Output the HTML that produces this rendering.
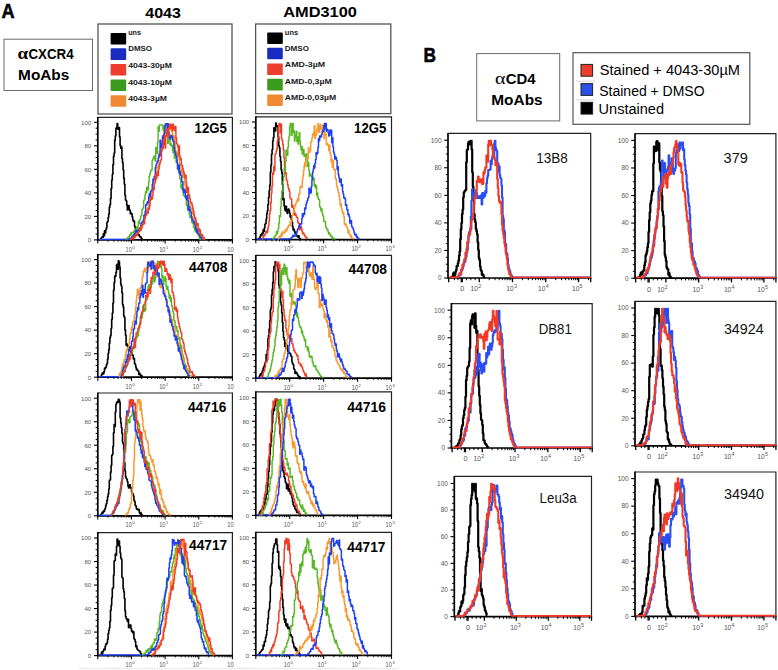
<!DOCTYPE html>
<html><head><meta charset="utf-8"><style>
html,body{margin:0;padding:0;background:#fff;width:778px;height:670px;overflow:hidden}
svg{display:block}
text{font-family:"Liberation Sans",sans-serif}
</style></head><body>
<svg width="778" height="670" viewBox="0 0 778 670">
<text x="1.45" y="17.95" font-size="20.6" font-weight="bold" fill="#000" text-anchor="start" textLength="13.1" lengthAdjust="spacingAndGlyphs" stroke="#000" stroke-width="0.55">A</text>
<text x="145.30" y="18.00" font-size="15.2" font-weight="bold" fill="#000" text-anchor="start" textLength="35.6" lengthAdjust="spacingAndGlyphs" >4043</text>
<text x="283.30" y="16.90" font-size="15.2" font-weight="bold" fill="#000" text-anchor="start" textLength="73.6" lengthAdjust="spacingAndGlyphs" >AMD3100</text>
<rect x="4.00" y="39.20" width="88.50" height="51.30" fill="none" stroke="#6a6a6a" stroke-width="1" />
<text x="17.40" y="58.60" font-size="16.5" font-weight="bold" fill="#000" text-anchor="start" textLength="10.6" lengthAdjust="spacingAndGlyphs" style="font-family:&quot;Liberation Serif&quot;,serif" >&#945;</text>
<text x="28.40" y="58.60" font-size="15" font-weight="bold" fill="#000" text-anchor="start" textLength="45.2" lengthAdjust="spacingAndGlyphs" >CXCR4</text>
<text x="18.10" y="80.00" font-size="15" font-weight="bold" fill="#000" text-anchor="start" textLength="51.2" lengthAdjust="spacingAndGlyphs" >MoAbs</text>
<rect x="98.00" y="24.00" width="134.00" height="90.00" fill="none" stroke="#555" stroke-width="1.3" />
<rect x="110.6" y="33.0" width="15.6" height="11.6" rx="1" fill="#000000"/>
<text x="128.20" y="34.80" font-size="7.7" font-weight="bold" fill="#1a1a1a" text-anchor="start" textLength="12.9" lengthAdjust="spacingAndGlyphs" >uns</text>
<rect x="110.6" y="48.3" width="15.6" height="11.6" rx="1" fill="#1a2bbf"/>
<text x="128.20" y="51.20" font-size="7.7" font-weight="bold" fill="#1a1a1a" text-anchor="start" textLength="23.8" lengthAdjust="spacingAndGlyphs" >DMSO</text>
<rect x="110.6" y="64.0" width="15.6" height="11.6" rx="1" fill="#ee3e2e"/>
<text x="128.20" y="68.10" font-size="7.7" font-weight="bold" fill="#1a1a1a" text-anchor="start" textLength="43.6" lengthAdjust="spacingAndGlyphs" >4043-30&#181;M</text>
<rect x="110.6" y="79.4" width="15.6" height="11.6" rx="1" fill="#3c9a1e"/>
<text x="128.20" y="84.50" font-size="7.7" font-weight="bold" fill="#1a1a1a" text-anchor="start" textLength="43.6" lengthAdjust="spacingAndGlyphs" >4043-10&#181;M</text>
<rect x="110.6" y="95.2" width="15.6" height="11.6" rx="1" fill="#f08a32"/>
<text x="128.20" y="100.50" font-size="7.7" font-weight="bold" fill="#1a1a1a" text-anchor="start" textLength="38.8" lengthAdjust="spacingAndGlyphs" >4043-3&#181;M</text>
<rect x="255.60" y="24.00" width="135.20" height="89.60" fill="none" stroke="#555" stroke-width="1.3" />
<rect x="267.2" y="32.4" width="15.6" height="11.6" rx="1" fill="#000000"/>
<text x="284.80" y="34.60" font-size="7.7" font-weight="bold" fill="#1a1a1a" text-anchor="start" textLength="13.4" lengthAdjust="spacingAndGlyphs" >uns</text>
<rect x="267.2" y="47.7" width="15.6" height="11.6" rx="1" fill="#1a2bbf"/>
<text x="284.80" y="51.30" font-size="7.7" font-weight="bold" fill="#1a1a1a" text-anchor="start" textLength="24.1" lengthAdjust="spacingAndGlyphs" >DMSO</text>
<rect x="267.2" y="63.4" width="15.6" height="11.6" rx="1" fill="#ee3e2e"/>
<text x="284.80" y="67.40" font-size="7.7" font-weight="bold" fill="#1a1a1a" text-anchor="start" textLength="40.4" lengthAdjust="spacingAndGlyphs" >AMD-3&#181;M</text>
<rect x="267.2" y="78.8" width="15.6" height="11.6" rx="1" fill="#3c9a1e"/>
<text x="284.80" y="83.80" font-size="7.7" font-weight="bold" fill="#1a1a1a" text-anchor="start" textLength="46.8" lengthAdjust="spacingAndGlyphs" >AMD-0,3&#181;M</text>
<rect x="267.2" y="94.5" width="15.6" height="11.6" rx="1" fill="#f08a32"/>
<text x="284.80" y="99.70" font-size="7.7" font-weight="bold" fill="#1a1a1a" text-anchor="start" textLength="51.4" lengthAdjust="spacingAndGlyphs" >AMD-0,03&#181;M</text>
<text x="423.60" y="61.80" font-size="19.6" font-weight="bold" fill="#000" text-anchor="start" textLength="12.5" lengthAdjust="spacingAndGlyphs" stroke="#000" stroke-width="0.55">B</text>
<rect x="476.70" y="53.60" width="83.00" height="67.30" fill="none" stroke="#6a6a6a" stroke-width="1" />
<text x="495.00" y="84.30" font-size="16.5" font-weight="normal" fill="#000" text-anchor="start" textLength="10.5" lengthAdjust="spacingAndGlyphs" style="font-family:&quot;Liberation Serif&quot;,serif" >&#945;</text>
<text x="505.70" y="84.30" font-size="15" font-weight="bold" fill="#000" text-anchor="start" textLength="29.8" lengthAdjust="spacingAndGlyphs" >CD4</text>
<text x="491.30" y="105.20" font-size="15" font-weight="bold" fill="#000" text-anchor="start" textLength="51.3" lengthAdjust="spacingAndGlyphs" >MoAbs</text>
<rect x="573.00" y="52.70" width="176.80" height="71.60" fill="none" stroke="#555" stroke-width="1.2" />
<rect x="581.0" y="64.4" width="11.6" height="11.8" fill="#ee3e2e" stroke="#222" stroke-width="1.0"/>
<rect x="581.0" y="83.6" width="11.6" height="11.8" fill="#2a50e8" stroke="#222" stroke-width="1.0"/>
<rect x="581.0" y="102.3" width="11.6" height="11.8" fill="#000" stroke="#222" stroke-width="1.0"/>
<line x1="575.50" y1="81.20" x2="595.50" y2="81.20" stroke="#d6d6d6" stroke-width="1"/>
<line x1="575.50" y1="99.80" x2="595.50" y2="99.80" stroke="#d6d6d6" stroke-width="1"/>
<text x="599.80" y="75.30" font-size="14" font-weight="normal" fill="#000" text-anchor="start" textLength="140.2" lengthAdjust="spacingAndGlyphs" >Stained + 4043-30&#181;M</text>
<text x="599.30" y="96.40" font-size="14" font-weight="normal" fill="#000" text-anchor="start" textLength="105.2" lengthAdjust="spacingAndGlyphs" >Stained + DMSO</text>
<text x="598.60" y="114.40" font-size="14" font-weight="normal" fill="#000" text-anchor="start" textLength="65.4" lengthAdjust="spacingAndGlyphs" >Unstained</text>
<path d="M97.80,117.40 H232.40 V239.90" fill="none" stroke="#222" stroke-width="1.2"/>
<path d="M97.80,116.90 V239.90 H233.00" fill="none" stroke="#000" stroke-width="1.7"/>
<path d="M100.60,239.40H100.90V238.63H101.50V237.48H102.10V236.74H102.70V237.17H103.30V233.72H103.90V235.64H104.50V230.80H105.10V232.97H105.70V229.75H106.30V227.98H106.90V222.47H107.50V221.49H108.10V217.48H108.70V213.95H109.30V207.22H109.90V204.46H110.50V198.40H111.10V188.59H111.70V179.97H112.30V174.44H112.90V164.66H113.50V156.33H114.10V153.00H114.70V140.14H115.30V135.95H115.90V127.93H116.50V127.91H117.10V123.45H117.70V129.32H118.30V127.81H118.90V127.45H119.50V136.90H120.10V145.49H120.70V148.24H121.30V147.00H121.90V158.49H122.50V162.81H123.10V169.80H123.70V178.24H124.30V184.19H124.90V195.34H125.50V200.09H126.10V200.73H126.70V204.93H127.30V209.97H127.90V208.98H128.50V205.66H129.10V209.38H129.70V210.38H130.30V213.79H130.90V212.95H131.50V213.91H132.10V216.73H132.70V219.82H133.30V221.42H133.90V221.13H134.50V226.33H135.10V228.08H135.70V231.43H136.30V230.15H136.90V232.76H137.50V234.82H138.10V234.79H138.70V234.88H139.30V236.09H139.90V236.88H140.50V236.91H141.10V238.24H141.70V238.79H142.30V239.26H142.60" fill="none" stroke="#000000" stroke-width="1.6" stroke-linejoin="round"/>
<line x1="99.00" y1="239.40" x2="128.00" y2="239.40" stroke="#1f3ff2" stroke-width="1.5"/>
<path d="M126.00,239.40H126.30V238.84H126.90V238.26H127.50V238.75H128.10V236.85H128.70V236.81H129.30V235.78H129.90V234.27H130.50V235.26H131.10V232.59H131.70V233.04H132.30V232.35H132.90V231.88H133.50V232.44H134.10V230.62H134.70V229.78H135.30V229.26H135.90V229.04H136.50V226.93H137.10V229.38H137.70V227.22H138.30V221.69H138.90V223.58H139.50V219.67H140.10V219.01H140.70V216.10H141.30V215.24H141.90V209.45H142.50V208.68H143.10V207.24H143.70V200.56H144.30V199.21H144.90V194.99H145.50V191.59H146.10V192.80H146.70V187.18H147.30V189.27H147.90V190.11H148.50V182.20H149.10V176.29H149.70V174.10H150.30V171.86H150.90V169.92H151.50V169.99H152.10V160.61H152.70V158.91H153.30V157.96H153.90V155.89H154.50V158.58H155.10V160.89H155.70V147.53H156.30V148.50H156.90V153.38H157.50V142.44H158.10V126.73H158.70V131.32H159.30V124.98H159.90V124.98H160.50V124.98H161.10V124.98H161.70V124.98H162.30V124.98H162.90V129.01H163.50V131.22H164.10V126.54H164.70V125.31H165.30V127.25H165.90V133.16H166.50V131.98H167.10V134.17H167.70V143.60H168.30V141.50H168.90V137.56H169.50V134.66H170.10V144.90H170.70V143.71H171.30V145.96H171.90V145.39H172.50V150.39H173.10V153.02H173.70V147.20H174.30V158.37H174.90V154.18H175.50V151.24H176.10V162.42H176.70V159.93H177.30V163.87H177.90V169.35H178.50V171.97H179.10V172.87H179.70V178.49H180.30V179.36H180.90V187.80H181.50V184.49H182.10V189.74H182.70V189.11H183.30V195.41H183.90V195.73H184.50V196.12H185.10V196.40H185.70V198.44H186.30V205.17H186.90V204.34H187.50V209.84H188.10V203.96H188.70V209.01H189.30V214.48H189.90V217.57H190.50V217.56H191.10V216.10H191.70V222.31H192.30V222.91H192.90V223.59H193.50V227.45H194.10V226.20H194.70V230.39H195.30V231.58H195.90V229.80H196.50V232.83H197.10V233.72H197.70V233.69H198.30V235.97H198.90V235.24H199.50V238.99H200.10V238.28H200.70V239.24H201.00" fill="none" stroke="#58b824" stroke-width="1.45" stroke-linejoin="round"/>
<path d="M129.00,239.40H129.30V239.20H129.90V238.94H130.50V238.63H131.10V238.28H131.70V238.26H132.30V236.03H132.90V236.90H133.50V237.97H134.10V234.58H134.70V235.17H135.30V234.15H135.90V233.93H136.50V233.10H137.10V231.03H137.70V231.32H138.30V232.11H138.90V229.24H139.50V229.22H140.10V230.17H140.70V230.12H141.30V226.50H141.90V228.30H142.50V224.79H143.10V223.30H143.70V222.98H144.30V216.12H144.90V215.93H145.50V214.07H146.10V215.11H146.70V211.72H147.30V208.99H147.90V207.95H148.50V203.31H149.10V204.37H149.70V198.70H150.30V200.24H150.90V191.98H151.50V192.67H152.10V188.91H152.70V187.74H153.30V182.13H153.90V180.21H154.50V180.36H155.10V179.27H155.70V171.77H156.30V175.41H156.90V167.68H157.50V167.55H158.10V165.79H158.70V157.14H159.30V151.77H159.90V154.15H160.50V151.60H161.10V150.46H161.70V145.64H162.30V143.00H162.90V140.63H163.50V135.67H164.10V132.02H164.70V133.55H165.30V132.99H165.90V126.34H166.50V126.33H167.10V127.09H167.70V123.80H168.30V125.54H168.90V126.81H169.50V125.67H170.10V127.36H170.70V129.73H171.30V130.58H171.90V132.00H172.50V135.01H173.10V140.18H173.70V135.78H174.30V146.37H174.90V137.64H175.50V152.87H176.10V153.40H176.70V153.23H177.30V154.32H177.90V156.45H178.50V156.01H179.10V160.43H179.70V163.48H180.30V165.11H180.90V169.27H181.50V170.90H182.10V177.21H182.70V169.88H183.30V175.74H183.90V177.14H184.50V184.70H185.10V185.86H185.70V192.00H186.30V190.34H186.90V191.54H187.50V194.97H188.10V199.58H188.70V202.56H189.30V202.71H189.90V202.58H190.50V207.71H191.10V207.85H191.70V211.30H192.30V214.18H192.90V211.76H193.50V214.98H194.10V219.25H194.70V220.88H195.30V224.01H195.90V224.85H196.50V228.63H197.10V230.57H197.70V230.22H198.30V229.35H198.90V229.84H199.50V234.21H200.10V233.59H200.70V236.35H201.30V237.08H201.90V237.39H202.50V238.37H203.10V239.26H203.40" fill="none" stroke="#f7992e" stroke-width="1.45" stroke-linejoin="round"/>
<path d="M128.00,239.40H128.30V239.18H128.90V238.91H129.50V238.59H130.10V238.23H130.70V238.92H131.30V238.13H131.90V236.85H132.50V237.54H133.10V235.04H133.70V235.84H134.30V233.85H134.90V233.82H135.50V231.03H136.10V233.33H136.70V232.38H137.30V230.44H137.90V231.02H138.50V230.97H139.10V228.80H139.70V230.72H140.30V227.64H140.90V223.47H141.50V222.17H142.10V222.12H142.70V221.21H143.30V219.97H143.90V215.50H144.50V214.59H145.10V211.59H145.70V204.71H146.30V205.08H146.90V202.72H147.50V201.74H148.10V202.74H148.70V196.78H149.30V193.73H149.90V196.85H150.50V191.28H151.10V191.09H151.70V190.07H152.30V183.88H152.90V179.35H153.50V179.65H154.10V176.52H154.70V175.96H155.30V167.38H155.90V165.29H156.50V163.29H157.10V161.22H157.70V160.80H158.30V157.54H158.90V154.54H159.50V155.89H160.10V140.21H160.70V147.65H161.30V146.98H161.90V143.77H162.50V136.10H163.10V143.24H163.70V134.87H164.30V133.11H164.90V125.73H165.50V123.80H166.10V123.80H166.70V123.86H167.30V129.07H167.90V123.80H168.50V132.13H169.10V136.54H169.70V137.95H170.30V139.08H170.90V136.04H171.50V135.41H172.10V136.94H172.70V140.65H173.30V141.51H173.90V147.65H174.50V151.46H175.10V152.81H175.70V155.53H176.30V156.34H176.90V161.98H177.50V168.88H178.10V166.05H178.70V165.12H179.30V173.69H179.90V171.17H180.50V174.97H181.10V175.78H181.70V181.72H182.30V181.69H182.90V189.87H183.50V192.74H184.10V189.24H184.70V191.16H185.30V197.61H185.90V196.87H186.50V199.45H187.10V195.28H187.70V200.90H188.30V210.27H188.90V206.55H189.50V209.05H190.10V211.89H190.70V212.29H191.30V216.83H191.90V219.21H192.50V220.02H193.10V221.88H193.70V221.51H194.30V223.40H194.90V224.72H195.50V229.09H196.10V228.67H196.70V232.29H197.30V230.16H197.90V233.62H198.50V234.11H199.10V234.50H199.70V236.48H200.30V237.25H200.90V237.43H201.50V239.07H201.80" fill="none" stroke="#1f3ff2" stroke-width="1.5" stroke-linejoin="round"/>
<path d="M130.00,239.40H130.30V239.23H130.90V239.00H131.50V238.70H132.10V238.36H132.70V237.24H133.30V238.77H133.90V237.07H134.50V236.04H135.10V237.09H135.70V234.34H136.30V235.25H136.90V232.87H137.50V233.90H138.10V232.76H138.70V231.23H139.30V230.45H139.90V227.67H140.50V230.20H141.10V226.29H141.70V226.61H142.30V224.31H142.90V224.39H143.50V222.27H144.10V223.87H144.70V218.39H145.30V215.92H145.90V215.29H146.50V212.84H147.10V211.38H147.70V213.14H148.30V208.30H148.90V209.36H149.50V205.43H150.10V200.07H150.70V197.24H151.30V199.25H151.90V198.79H152.50V195.33H153.10V188.38H153.70V189.40H154.30V183.14H154.90V182.00H155.50V174.04H156.10V178.74H156.70V175.46H157.30V171.85H157.90V175.73H158.50V169.29H159.10V166.00H159.70V163.14H160.30V160.61H160.90V159.82H161.50V151.08H162.10V148.09H162.70V148.65H163.30V140.02H163.90V144.80H164.50V135.47H165.10V147.91H165.70V136.26H166.30V133.72H166.90V129.93H167.50V128.82H168.10V137.43H168.70V127.57H169.30V127.59H169.90V124.15H170.50V128.64H171.10V124.82H171.70V124.15H172.30V130.60H172.90V124.15H173.50V128.57H174.10V126.85H174.70V130.78H175.30V126.35H175.90V137.58H176.50V143.54H177.10V144.30H177.70V146.68H178.30V154.80H178.90V145.90H179.50V155.44H180.10V158.93H180.70V158.38H181.30V164.85H181.90V165.26H182.50V168.32H183.10V170.25H183.70V172.73H184.30V174.60H184.90V177.73H185.50V175.13H186.10V182.88H186.70V192.35H187.30V187.66H187.90V187.16H188.50V194.85H189.10V195.06H189.70V198.56H190.30V202.08H190.90V202.54H191.50V203.19H192.10V205.81H192.70V209.00H193.30V210.97H193.90V215.04H194.50V218.61H195.10V217.80H195.70V220.22H196.30V225.62H196.90V224.29H197.50V223.50H198.10V228.24H198.70V228.73H199.30V231.07H199.90V230.02H200.50V235.46H201.10V234.14H201.70V234.35H202.30V236.06H202.90V237.61H203.50V237.44H204.10V238.64H204.70V239.40H205.00" fill="none" stroke="#f03c26" stroke-width="1.45" stroke-linejoin="round"/>
<line x1="94.00" y1="239.90" x2="97.80" y2="239.90" stroke="#000" stroke-width="1.1"/>
<text x="91.20" y="242.20" font-size="6.1" font-weight="normal" fill="#555" text-anchor="end" textLength="3.4" lengthAdjust="spacingAndGlyphs" >0</text>
<line x1="95.60" y1="234.02" x2="97.80" y2="234.02" stroke="#000" stroke-width="1.0"/>
<line x1="95.60" y1="228.14" x2="97.80" y2="228.14" stroke="#000" stroke-width="1.0"/>
<line x1="95.60" y1="222.26" x2="97.80" y2="222.26" stroke="#000" stroke-width="1.0"/>
<line x1="94.00" y1="216.38" x2="97.80" y2="216.38" stroke="#000" stroke-width="1.1"/>
<text x="91.20" y="218.68" font-size="6.1" font-weight="normal" fill="#555" text-anchor="end" textLength="6.7" lengthAdjust="spacingAndGlyphs" >20</text>
<line x1="95.60" y1="210.50" x2="97.80" y2="210.50" stroke="#000" stroke-width="1.0"/>
<line x1="95.60" y1="204.62" x2="97.80" y2="204.62" stroke="#000" stroke-width="1.0"/>
<line x1="95.60" y1="198.74" x2="97.80" y2="198.74" stroke="#000" stroke-width="1.0"/>
<line x1="94.00" y1="192.86" x2="97.80" y2="192.86" stroke="#000" stroke-width="1.1"/>
<text x="91.20" y="195.16" font-size="6.1" font-weight="normal" fill="#555" text-anchor="end" textLength="6.7" lengthAdjust="spacingAndGlyphs" >40</text>
<line x1="95.60" y1="186.98" x2="97.80" y2="186.98" stroke="#000" stroke-width="1.0"/>
<line x1="95.60" y1="181.10" x2="97.80" y2="181.10" stroke="#000" stroke-width="1.0"/>
<line x1="95.60" y1="175.22" x2="97.80" y2="175.22" stroke="#000" stroke-width="1.0"/>
<line x1="94.00" y1="169.34" x2="97.80" y2="169.34" stroke="#000" stroke-width="1.1"/>
<text x="91.20" y="171.64" font-size="6.1" font-weight="normal" fill="#555" text-anchor="end" textLength="6.7" lengthAdjust="spacingAndGlyphs" >60</text>
<line x1="95.60" y1="163.46" x2="97.80" y2="163.46" stroke="#000" stroke-width="1.0"/>
<line x1="95.60" y1="157.58" x2="97.80" y2="157.58" stroke="#000" stroke-width="1.0"/>
<line x1="95.60" y1="151.70" x2="97.80" y2="151.70" stroke="#000" stroke-width="1.0"/>
<line x1="94.00" y1="145.82" x2="97.80" y2="145.82" stroke="#000" stroke-width="1.1"/>
<text x="91.20" y="148.12" font-size="6.1" font-weight="normal" fill="#555" text-anchor="end" textLength="6.7" lengthAdjust="spacingAndGlyphs" >80</text>
<line x1="95.60" y1="139.94" x2="97.80" y2="139.94" stroke="#000" stroke-width="1.0"/>
<line x1="95.60" y1="134.06" x2="97.80" y2="134.06" stroke="#000" stroke-width="1.0"/>
<line x1="95.60" y1="128.18" x2="97.80" y2="128.18" stroke="#000" stroke-width="1.0"/>
<line x1="94.00" y1="122.30" x2="97.80" y2="122.30" stroke="#000" stroke-width="1.1"/>
<text x="91.20" y="124.60" font-size="6.1" font-weight="normal" fill="#555" text-anchor="end" textLength="10.1" lengthAdjust="spacingAndGlyphs" >100</text>
<line x1="97.80" y1="239.90" x2="97.80" y2="243.50" stroke="#000" stroke-width="1.1"/>
<line x1="107.93" y1="239.90" x2="107.93" y2="241.70" stroke="#000" stroke-width="0.9"/>
<line x1="113.86" y1="239.90" x2="113.86" y2="241.70" stroke="#000" stroke-width="0.9"/>
<line x1="118.06" y1="239.90" x2="118.06" y2="241.70" stroke="#000" stroke-width="0.9"/>
<line x1="121.32" y1="239.90" x2="121.32" y2="241.70" stroke="#000" stroke-width="0.9"/>
<line x1="123.98" y1="239.90" x2="123.98" y2="241.70" stroke="#000" stroke-width="0.9"/>
<line x1="126.24" y1="239.90" x2="126.24" y2="241.70" stroke="#000" stroke-width="0.9"/>
<line x1="128.19" y1="239.90" x2="128.19" y2="241.70" stroke="#000" stroke-width="0.9"/>
<line x1="129.91" y1="239.90" x2="129.91" y2="241.70" stroke="#000" stroke-width="0.9"/>
<line x1="131.45" y1="239.90" x2="131.45" y2="243.50" stroke="#000" stroke-width="1.1"/>
<line x1="141.58" y1="239.90" x2="141.58" y2="241.70" stroke="#000" stroke-width="0.9"/>
<line x1="147.51" y1="239.90" x2="147.51" y2="241.70" stroke="#000" stroke-width="0.9"/>
<line x1="151.71" y1="239.90" x2="151.71" y2="241.70" stroke="#000" stroke-width="0.9"/>
<line x1="154.97" y1="239.90" x2="154.97" y2="241.70" stroke="#000" stroke-width="0.9"/>
<line x1="157.63" y1="239.90" x2="157.63" y2="241.70" stroke="#000" stroke-width="0.9"/>
<line x1="159.89" y1="239.90" x2="159.89" y2="241.70" stroke="#000" stroke-width="0.9"/>
<line x1="161.84" y1="239.90" x2="161.84" y2="241.70" stroke="#000" stroke-width="0.9"/>
<line x1="163.56" y1="239.90" x2="163.56" y2="241.70" stroke="#000" stroke-width="0.9"/>
<line x1="165.10" y1="239.90" x2="165.10" y2="243.50" stroke="#000" stroke-width="1.1"/>
<line x1="175.23" y1="239.90" x2="175.23" y2="241.70" stroke="#000" stroke-width="0.9"/>
<line x1="181.16" y1="239.90" x2="181.16" y2="241.70" stroke="#000" stroke-width="0.9"/>
<line x1="185.36" y1="239.90" x2="185.36" y2="241.70" stroke="#000" stroke-width="0.9"/>
<line x1="188.62" y1="239.90" x2="188.62" y2="241.70" stroke="#000" stroke-width="0.9"/>
<line x1="191.28" y1="239.90" x2="191.28" y2="241.70" stroke="#000" stroke-width="0.9"/>
<line x1="193.54" y1="239.90" x2="193.54" y2="241.70" stroke="#000" stroke-width="0.9"/>
<line x1="195.49" y1="239.90" x2="195.49" y2="241.70" stroke="#000" stroke-width="0.9"/>
<line x1="197.21" y1="239.90" x2="197.21" y2="241.70" stroke="#000" stroke-width="0.9"/>
<line x1="198.75" y1="239.90" x2="198.75" y2="243.50" stroke="#000" stroke-width="1.1"/>
<line x1="208.88" y1="239.90" x2="208.88" y2="241.70" stroke="#000" stroke-width="0.9"/>
<line x1="214.81" y1="239.90" x2="214.81" y2="241.70" stroke="#000" stroke-width="0.9"/>
<line x1="219.01" y1="239.90" x2="219.01" y2="241.70" stroke="#000" stroke-width="0.9"/>
<line x1="222.27" y1="239.90" x2="222.27" y2="241.70" stroke="#000" stroke-width="0.9"/>
<line x1="224.93" y1="239.90" x2="224.93" y2="241.70" stroke="#000" stroke-width="0.9"/>
<line x1="227.19" y1="239.90" x2="227.19" y2="241.70" stroke="#000" stroke-width="0.9"/>
<line x1="229.14" y1="239.90" x2="229.14" y2="241.70" stroke="#000" stroke-width="0.9"/>
<line x1="230.86" y1="239.90" x2="230.86" y2="241.70" stroke="#000" stroke-width="0.9"/>
<line x1="232.40" y1="239.90" x2="232.40" y2="243.50" stroke="#000" stroke-width="1.1"/>
<text x="125.55" y="251.50" font-size="6.3" font-weight="normal" fill="#555" text-anchor="start" textLength="6.3" lengthAdjust="spacingAndGlyphs" >10</text>
<text x="132.15" y="248.50" font-size="4.284" font-weight="normal" fill="#555" text-anchor="start" textLength="2.6" lengthAdjust="spacingAndGlyphs" >0</text>
<text x="159.20" y="251.50" font-size="6.3" font-weight="normal" fill="#555" text-anchor="start" textLength="6.3" lengthAdjust="spacingAndGlyphs" >10</text>
<text x="165.80" y="248.50" font-size="4.284" font-weight="normal" fill="#555" text-anchor="start" textLength="2.6" lengthAdjust="spacingAndGlyphs" >1</text>
<text x="192.85" y="251.50" font-size="6.3" font-weight="normal" fill="#555" text-anchor="start" textLength="6.3" lengthAdjust="spacingAndGlyphs" >10</text>
<text x="199.45" y="248.50" font-size="4.284" font-weight="normal" fill="#555" text-anchor="start" textLength="2.6" lengthAdjust="spacingAndGlyphs" >2</text>
<text x="227.30" y="251.50" font-size="6.3" font-weight="normal" fill="#555" text-anchor="start" textLength="6.4" lengthAdjust="spacingAndGlyphs" >10</text>
<text x="194.60" y="133.00" font-size="14.2" font-weight="bold" fill="#000" text-anchor="start" textLength="32.3" lengthAdjust="spacingAndGlyphs" >12G5</text>
<path d="M255.80,116.80 H391.50 V239.60" fill="none" stroke="#222" stroke-width="1.2"/>
<path d="M255.80,116.30 V239.60 H392.10" fill="none" stroke="#000" stroke-width="1.7"/>
<path d="M258.60,239.10H258.90V238.33H259.50V238.40H260.10V236.16H260.70V234.92H261.30V235.15H261.90V233.34H262.50V233.61H263.10V229.73H263.70V231.57H264.30V228.08H264.90V224.30H265.50V223.40H266.10V218.97H266.70V213.78H267.30V210.81H267.90V204.45H268.50V197.49H269.10V190.69H269.70V185.16H270.30V172.26H270.90V165.13H271.50V154.32H272.10V149.48H272.70V140.95H273.30V137.39H273.90V127.78H274.50V128.94H275.10V130.96H275.70V123.15H276.30V126.17H276.90V126.38H277.50V125.75H278.10V136.78H278.70V145.47H279.30V147.79H279.90V156.29H280.50V161.27H281.10V169.65H281.70V172.89H282.30V184.53H282.90V199.70H283.50V198.71H284.10V205.91H284.70V209.41H285.30V210.85H285.90V206.36H286.50V209.97H287.10V213.34H287.70V210.25H288.30V208.97H288.90V210.21H289.50V213.36H290.10V217.12H290.70V215.80H291.30V219.45H291.90V222.10H292.50V226.68H293.10V229.99H293.70V229.23H294.30V231.22H294.90V233.32H295.50V232.60H296.10V234.46H296.70V235.94H297.30V236.15H297.90V237.30H298.50V235.82H299.10V237.94H299.70V238.49H300.30V238.96H300.60" fill="none" stroke="#000000" stroke-width="1.6" stroke-linejoin="round"/>
<line x1="257.00" y1="239.10" x2="290.00" y2="239.10" stroke="#1f3ff2" stroke-width="1.5"/>
<path d="M262.00,239.10H262.30V238.22H262.90V237.08H263.50V235.33H264.10V235.69H264.70V234.17H265.30V233.22H265.90V230.96H266.50V232.86H267.10V231.80H267.70V228.73H268.30V225.68H268.90V220.72H269.50V213.22H270.10V210.32H270.70V202.39H271.30V192.99H271.90V186.04H272.50V173.02H273.10V174.21H273.70V166.46H274.30V170.86H274.90V154.75H275.50V153.60H276.10V150.89H276.70V148.94H277.30V141.27H277.90V137.64H278.50V125.73H279.10V123.50H279.70V125.60H280.30V133.08H280.90V123.86H281.50V138.81H282.10V140.51H282.70V144.33H283.30V149.55H283.90V157.66H284.50V166.91H285.10V173.67H285.70V172.70H286.30V179.80H286.90V180.96H287.50V184.66H288.10V187.65H288.70V189.53H289.30V191.62H289.90V197.87H290.50V198.68H291.10V198.98H291.70V207.13H292.30V205.28H292.90V207.85H293.50V208.76H294.10V212.07H294.70V215.35H295.30V213.99H295.90V215.67H296.50V217.27H297.10V217.38H297.70V221.97H298.30V223.73H298.90V223.42H299.50V229.69H300.10V227.93H300.70V226.29H301.30V228.53H301.90V230.89H302.50V233.73H303.10V232.88H303.70V234.00H304.30V235.16H304.90V236.30H305.50V237.26H306.10V237.11H306.70V238.17H307.30V238.75H307.60" fill="none" stroke="#f03c26" stroke-width="1.45" stroke-linejoin="round"/>
<path d="M272.50,239.10H272.80V238.67H273.40V238.06H274.00V237.00H274.60V236.48H275.20V235.49H275.80V234.92H276.40V231.79H277.00V233.71H277.60V231.20H278.20V228.00H278.80V223.28H279.40V215.72H280.00V216.46H280.60V206.52H281.20V197.90H281.80V190.95H282.40V190.99H283.00V180.96H283.60V176.57H284.20V168.01H284.80V169.97H285.40V161.15H286.00V150.27H286.60V155.27H287.20V155.30H287.80V147.24H288.40V140.24H289.00V135.85H289.60V126.47H290.20V123.50H290.80V123.50H291.40V135.43H292.00V129.77H292.60V123.50H293.20V132.49H293.80V131.06H294.40V140.98H295.00V137.39H295.60V134.46H296.20V131.17H296.80V141.53H297.40V137.07H298.00V144.01H298.60V140.02H299.20V132.50H299.80V140.96H300.40V146.20H301.00V150.08H301.60V146.38H302.20V154.07H302.80V151.55H303.40V149.57H304.00V156.19H304.60V155.48H305.20V154.49H305.80V160.99H306.40V153.64H307.00V157.99H307.60V166.44H308.20V162.62H308.80V170.57H309.40V176.14H310.00V174.00H310.60V176.03H311.20V175.90H311.80V177.85H312.40V180.00H313.00V177.77H313.60V178.33H314.20V185.92H314.80V184.35H315.40V187.99H316.00V185.56H316.60V195.38H317.20V192.91H317.80V197.51H318.40V199.18H319.00V199.38H319.60V206.42H320.20V207.83H320.80V210.68H321.40V208.69H322.00V212.43H322.60V215.17H323.20V216.74H323.80V221.57H324.40V221.61H325.00V221.52H325.60V226.88H326.20V228.04H326.80V229.43H327.40V229.41H328.00V232.08H328.60V233.83H329.20V232.95H329.80V234.56H330.40V235.73H331.00V236.65H331.60V236.16H332.20V238.71H332.80V238.06H333.40V238.50H334.00V238.82H334.60V239.03H335.20V239.10H335.50" fill="none" stroke="#58b824" stroke-width="1.45" stroke-linejoin="round"/>
<path d="M278.00,239.10H278.30V238.44H278.90V236.79H279.50V237.56H280.10V235.99H280.70V236.49H281.30V233.34H281.90V235.79H282.50V232.03H283.10V231.92H283.70V232.18H284.30V232.91H284.90V230.64H285.50V229.26H286.10V231.06H286.70V229.41H287.30V228.28H287.90V226.42H288.50V225.12H289.10V225.79H289.70V225.75H290.30V221.25H290.90V222.24H291.50V220.96H292.10V215.06H292.70V214.12H293.30V212.33H293.90V211.21H294.50V205.58H295.10V205.85H295.70V203.27H296.30V202.29H296.90V200.36H297.50V198.51H298.10V200.74H298.70V193.91H299.30V193.99H299.90V187.30H300.50V186.22H301.10V187.38H301.70V187.34H302.30V180.28H302.90V175.68H303.50V170.23H304.10V165.64H304.70V162.51H305.30V166.42H305.90V161.24H306.50V159.11H307.10V156.45H307.70V158.18H308.30V147.57H308.90V152.29H309.50V152.36H310.10V150.30H310.70V142.60H311.30V141.14H311.90V137.81H312.50V133.98H313.10V135.51H313.70V131.68H314.30V125.78H314.90V138.24H315.50V134.14H316.10V135.13H316.70V130.03H317.30V128.03H317.90V123.50H318.50V131.70H319.10V132.55H319.70V125.43H320.30V124.48H320.90V128.07H321.50V129.75H322.10V128.86H322.70V125.05H323.30V127.82H323.90V138.47H324.50V132.17H325.10V135.19H325.70V134.30H326.30V144.79H326.90V143.31H327.50V144.29H328.10V145.92H328.70V150.55H329.30V145.14H329.90V152.97H330.50V155.12H331.10V161.82H331.70V159.57H332.30V167.60H332.90V160.69H333.50V168.24H334.10V169.92H334.70V169.68H335.30V178.27H335.90V179.40H336.50V185.67H337.10V187.30H337.70V189.88H338.30V192.83H338.90V195.47H339.50V199.56H340.10V205.51H340.70V203.65H341.30V208.04H341.90V210.50H342.50V213.25H343.10V212.50H343.70V216.30H344.30V224.51H344.90V223.71H345.50V224.26H346.10V226.69H346.70V227.02H347.30V229.09H347.90V232.68H348.50V230.53H349.10V233.65H349.70V234.17H350.30V236.83H350.90V235.80H351.50V237.83H352.10V238.01H352.70V238.54H353.30V238.91H353.60" fill="none" stroke="#f7992e" stroke-width="1.45" stroke-linejoin="round"/>
<path d="M290.00,239.10H290.30V238.61H290.90V238.12H291.50V237.24H292.10V236.89H292.70V235.29H293.30V236.49H293.90V236.33H294.50V236.14H295.10V234.20H295.70V235.00H296.30V233.11H296.90V231.35H297.50V229.04H298.10V228.80H298.70V226.34H299.30V226.72H299.90V224.26H300.50V223.71H301.10V223.98H301.70V218.88H302.30V213.83H302.90V216.41H303.50V213.49H304.10V214.21H304.70V207.94H305.30V208.99H305.90V204.47H306.50V202.34H307.10V200.67H307.70V198.39H308.30V197.33H308.90V188.14H309.50V193.40H310.10V189.56H310.70V192.69H311.30V186.35H311.90V179.83H312.50V172.30H313.10V169.26H313.70V165.61H314.30V167.96H314.90V163.43H315.50V159.59H316.10V152.62H316.70V154.29H317.30V153.08H317.90V147.21H318.50V138.40H319.10V140.73H319.70V135.91H320.30V137.18H320.90V136.79H321.50V134.34H322.10V131.73H322.70V130.26H323.30V131.28H323.90V125.48H324.50V123.50H325.10V128.66H325.70V123.50H326.30V130.96H326.90V129.16H327.50V129.83H328.10V132.70H328.70V136.04H329.30V135.55H329.90V130.03H330.50V133.16H331.10V130.18H331.70V142.74H332.30V137.66H332.90V147.08H333.50V152.08H334.10V154.31H334.70V159.06H335.30V156.85H335.90V157.79H336.50V160.50H337.10V169.51H337.70V166.67H338.30V174.81H338.90V177.43H339.50V181.90H340.10V179.68H340.70V179.12H341.30V185.88H341.90V184.43H342.50V191.34H343.10V194.10H343.70V198.01H344.30V197.48H344.90V198.99H345.50V205.31H346.10V204.67H346.70V209.68H347.30V209.73H347.90V214.81H348.50V214.36H349.10V216.74H349.70V222.97H350.30V220.61H350.90V220.60H351.50V226.09H352.10V227.50H352.70V227.98H353.30V230.08H353.90V232.19H354.50V234.41H355.10V235.02H355.70V234.30H356.30V236.88H356.90V236.58H357.50V237.99H358.10V238.32H358.70V238.77H359.30V239.07H359.60" fill="none" stroke="#1f3ff2" stroke-width="1.5" stroke-linejoin="round"/>
<line x1="252.00" y1="239.60" x2="255.80" y2="239.60" stroke="#000" stroke-width="1.1"/>
<text x="249.20" y="241.90" font-size="6.1" font-weight="normal" fill="#555" text-anchor="end" textLength="3.4" lengthAdjust="spacingAndGlyphs" >0</text>
<line x1="253.60" y1="233.72" x2="255.80" y2="233.72" stroke="#000" stroke-width="1.0"/>
<line x1="253.60" y1="227.84" x2="255.80" y2="227.84" stroke="#000" stroke-width="1.0"/>
<line x1="253.60" y1="221.96" x2="255.80" y2="221.96" stroke="#000" stroke-width="1.0"/>
<line x1="252.00" y1="216.08" x2="255.80" y2="216.08" stroke="#000" stroke-width="1.1"/>
<text x="249.20" y="218.38" font-size="6.1" font-weight="normal" fill="#555" text-anchor="end" textLength="6.7" lengthAdjust="spacingAndGlyphs" >20</text>
<line x1="253.60" y1="210.20" x2="255.80" y2="210.20" stroke="#000" stroke-width="1.0"/>
<line x1="253.60" y1="204.32" x2="255.80" y2="204.32" stroke="#000" stroke-width="1.0"/>
<line x1="253.60" y1="198.44" x2="255.80" y2="198.44" stroke="#000" stroke-width="1.0"/>
<line x1="252.00" y1="192.56" x2="255.80" y2="192.56" stroke="#000" stroke-width="1.1"/>
<text x="249.20" y="194.86" font-size="6.1" font-weight="normal" fill="#555" text-anchor="end" textLength="6.7" lengthAdjust="spacingAndGlyphs" >40</text>
<line x1="253.60" y1="186.68" x2="255.80" y2="186.68" stroke="#000" stroke-width="1.0"/>
<line x1="253.60" y1="180.80" x2="255.80" y2="180.80" stroke="#000" stroke-width="1.0"/>
<line x1="253.60" y1="174.92" x2="255.80" y2="174.92" stroke="#000" stroke-width="1.0"/>
<line x1="252.00" y1="169.04" x2="255.80" y2="169.04" stroke="#000" stroke-width="1.1"/>
<text x="249.20" y="171.34" font-size="6.1" font-weight="normal" fill="#555" text-anchor="end" textLength="6.7" lengthAdjust="spacingAndGlyphs" >60</text>
<line x1="253.60" y1="163.16" x2="255.80" y2="163.16" stroke="#000" stroke-width="1.0"/>
<line x1="253.60" y1="157.28" x2="255.80" y2="157.28" stroke="#000" stroke-width="1.0"/>
<line x1="253.60" y1="151.40" x2="255.80" y2="151.40" stroke="#000" stroke-width="1.0"/>
<line x1="252.00" y1="145.52" x2="255.80" y2="145.52" stroke="#000" stroke-width="1.1"/>
<text x="249.20" y="147.82" font-size="6.1" font-weight="normal" fill="#555" text-anchor="end" textLength="6.7" lengthAdjust="spacingAndGlyphs" >80</text>
<line x1="253.60" y1="139.64" x2="255.80" y2="139.64" stroke="#000" stroke-width="1.0"/>
<line x1="253.60" y1="133.76" x2="255.80" y2="133.76" stroke="#000" stroke-width="1.0"/>
<line x1="253.60" y1="127.88" x2="255.80" y2="127.88" stroke="#000" stroke-width="1.0"/>
<line x1="252.00" y1="122.00" x2="255.80" y2="122.00" stroke="#000" stroke-width="1.1"/>
<text x="249.20" y="124.30" font-size="6.1" font-weight="normal" fill="#555" text-anchor="end" textLength="10.1" lengthAdjust="spacingAndGlyphs" >100</text>
<line x1="255.80" y1="239.60" x2="255.80" y2="243.20" stroke="#000" stroke-width="1.1"/>
<line x1="266.01" y1="239.60" x2="266.01" y2="241.40" stroke="#000" stroke-width="0.9"/>
<line x1="271.99" y1="239.60" x2="271.99" y2="241.40" stroke="#000" stroke-width="0.9"/>
<line x1="276.22" y1="239.60" x2="276.22" y2="241.40" stroke="#000" stroke-width="0.9"/>
<line x1="279.51" y1="239.60" x2="279.51" y2="241.40" stroke="#000" stroke-width="0.9"/>
<line x1="282.20" y1="239.60" x2="282.20" y2="241.40" stroke="#000" stroke-width="0.9"/>
<line x1="284.47" y1="239.60" x2="284.47" y2="241.40" stroke="#000" stroke-width="0.9"/>
<line x1="286.44" y1="239.60" x2="286.44" y2="241.40" stroke="#000" stroke-width="0.9"/>
<line x1="288.17" y1="239.60" x2="288.17" y2="241.40" stroke="#000" stroke-width="0.9"/>
<line x1="289.73" y1="239.60" x2="289.73" y2="243.20" stroke="#000" stroke-width="1.1"/>
<line x1="299.94" y1="239.60" x2="299.94" y2="241.40" stroke="#000" stroke-width="0.9"/>
<line x1="305.91" y1="239.60" x2="305.91" y2="241.40" stroke="#000" stroke-width="0.9"/>
<line x1="310.15" y1="239.60" x2="310.15" y2="241.40" stroke="#000" stroke-width="0.9"/>
<line x1="313.44" y1="239.60" x2="313.44" y2="241.40" stroke="#000" stroke-width="0.9"/>
<line x1="316.12" y1="239.60" x2="316.12" y2="241.40" stroke="#000" stroke-width="0.9"/>
<line x1="318.39" y1="239.60" x2="318.39" y2="241.40" stroke="#000" stroke-width="0.9"/>
<line x1="320.36" y1="239.60" x2="320.36" y2="241.40" stroke="#000" stroke-width="0.9"/>
<line x1="322.10" y1="239.60" x2="322.10" y2="241.40" stroke="#000" stroke-width="0.9"/>
<line x1="323.65" y1="239.60" x2="323.65" y2="243.20" stroke="#000" stroke-width="1.1"/>
<line x1="333.86" y1="239.60" x2="333.86" y2="241.40" stroke="#000" stroke-width="0.9"/>
<line x1="339.84" y1="239.60" x2="339.84" y2="241.40" stroke="#000" stroke-width="0.9"/>
<line x1="344.07" y1="239.60" x2="344.07" y2="241.40" stroke="#000" stroke-width="0.9"/>
<line x1="347.36" y1="239.60" x2="347.36" y2="241.40" stroke="#000" stroke-width="0.9"/>
<line x1="350.05" y1="239.60" x2="350.05" y2="241.40" stroke="#000" stroke-width="0.9"/>
<line x1="352.32" y1="239.60" x2="352.32" y2="241.40" stroke="#000" stroke-width="0.9"/>
<line x1="354.29" y1="239.60" x2="354.29" y2="241.40" stroke="#000" stroke-width="0.9"/>
<line x1="356.02" y1="239.60" x2="356.02" y2="241.40" stroke="#000" stroke-width="0.9"/>
<line x1="357.57" y1="239.60" x2="357.57" y2="243.20" stroke="#000" stroke-width="1.1"/>
<line x1="367.79" y1="239.60" x2="367.79" y2="241.40" stroke="#000" stroke-width="0.9"/>
<line x1="373.76" y1="239.60" x2="373.76" y2="241.40" stroke="#000" stroke-width="0.9"/>
<line x1="378.00" y1="239.60" x2="378.00" y2="241.40" stroke="#000" stroke-width="0.9"/>
<line x1="381.29" y1="239.60" x2="381.29" y2="241.40" stroke="#000" stroke-width="0.9"/>
<line x1="383.97" y1="239.60" x2="383.97" y2="241.40" stroke="#000" stroke-width="0.9"/>
<line x1="386.24" y1="239.60" x2="386.24" y2="241.40" stroke="#000" stroke-width="0.9"/>
<line x1="388.21" y1="239.60" x2="388.21" y2="241.40" stroke="#000" stroke-width="0.9"/>
<line x1="389.95" y1="239.60" x2="389.95" y2="241.40" stroke="#000" stroke-width="0.9"/>
<line x1="391.50" y1="239.60" x2="391.50" y2="243.20" stroke="#000" stroke-width="1.1"/>
<text x="283.82" y="251.20" font-size="6.3" font-weight="normal" fill="#555" text-anchor="start" textLength="6.3" lengthAdjust="spacingAndGlyphs" >10</text>
<text x="290.43" y="248.20" font-size="4.284" font-weight="normal" fill="#555" text-anchor="start" textLength="2.6" lengthAdjust="spacingAndGlyphs" >0</text>
<text x="317.75" y="251.20" font-size="6.3" font-weight="normal" fill="#555" text-anchor="start" textLength="6.3" lengthAdjust="spacingAndGlyphs" >10</text>
<text x="324.35" y="248.20" font-size="4.284" font-weight="normal" fill="#555" text-anchor="start" textLength="2.6" lengthAdjust="spacingAndGlyphs" >1</text>
<text x="351.67" y="251.20" font-size="6.3" font-weight="normal" fill="#555" text-anchor="start" textLength="6.3" lengthAdjust="spacingAndGlyphs" >10</text>
<text x="358.27" y="248.20" font-size="4.284" font-weight="normal" fill="#555" text-anchor="start" textLength="2.6" lengthAdjust="spacingAndGlyphs" >2</text>
<text x="385.60" y="251.20" font-size="6.3" font-weight="normal" fill="#555" text-anchor="start" textLength="6.3" lengthAdjust="spacingAndGlyphs" >10</text>
<text x="392.20" y="248.20" font-size="4.284" font-weight="normal" fill="#555" text-anchor="start" textLength="2.6" lengthAdjust="spacingAndGlyphs" >3</text>
<text x="354.10" y="133.00" font-size="14.2" font-weight="bold" fill="#000" text-anchor="start" textLength="32.2" lengthAdjust="spacingAndGlyphs" >12G5</text>
<path d="M97.80,254.60 H232.40 V377.20" fill="none" stroke="#222" stroke-width="1.2"/>
<path d="M97.80,254.10 V377.20 H233.00" fill="none" stroke="#000" stroke-width="1.7"/>
<path d="M100.60,376.70H100.90V375.93H101.50V374.81H102.10V373.03H102.70V374.04H103.30V373.64H103.90V371.43H104.50V368.04H105.10V368.36H105.70V367.26H106.30V364.95H106.90V363.51H107.50V359.18H108.10V353.27H108.70V349.75H109.30V343.13H109.90V337.41H110.50V335.22H111.10V328.32H111.70V319.21H112.30V312.93H112.90V302.93H113.50V290.32H114.10V282.76H114.70V276.13H115.30V276.34H115.90V272.23H116.50V265.01H117.10V264.23H117.70V269.30H118.30V260.75H118.90V261.85H119.50V266.73H120.10V277.93H120.70V284.21H121.30V286.36H121.90V292.82H122.50V304.26H123.10V306.88H123.70V316.12H124.30V317.31H124.90V329.91H125.50V335.27H126.10V345.18H126.70V344.11H127.30V346.43H127.90V345.96H128.50V350.05H129.10V348.85H129.70V346.76H130.30V348.60H130.90V352.39H131.50V352.10H132.10V355.07H132.70V355.40H133.30V358.97H133.90V358.65H134.50V363.42H135.10V364.46H135.70V367.08H136.30V369.79H136.90V369.35H137.50V370.46H138.10V371.18H138.70V374.56H139.30V373.22H139.90V374.27H140.50V375.99H141.10V375.54H141.70V376.09H142.30V376.56H142.60" fill="none" stroke="#000000" stroke-width="1.6" stroke-linejoin="round"/>
<line x1="99.00" y1="376.70" x2="121.00" y2="376.70" stroke="#1f3ff2" stroke-width="1.5"/>
<path d="M122.00,376.70H122.30V376.70H122.90V374.75H123.50V371.86H124.10V372.35H124.70V369.75H125.30V364.89H125.90V367.55H126.50V366.61H127.10V364.10H127.70V359.83H128.30V358.62H128.90V358.68H129.50V354.20H130.10V354.79H130.70V354.93H131.30V353.68H131.90V351.65H132.50V347.65H133.10V349.06H133.70V345.10H134.30V339.02H134.90V338.93H135.50V340.69H136.10V337.26H136.70V337.52H137.30V334.82H137.90V335.70H138.50V330.63H139.10V325.34H139.70V322.55H140.30V317.03H140.90V314.67H141.50V318.21H142.10V314.83H142.70V306.09H143.30V310.84H143.90V311.60H144.50V308.91H145.10V310.52H145.70V299.70H146.30V299.92H146.90V299.13H147.50V289.42H148.10V286.07H148.70V284.60H149.30V289.96H149.90V290.69H150.50V280.97H151.10V281.67H151.70V284.21H152.30V281.36H152.90V279.28H153.50V274.85H154.10V281.96H154.70V280.24H155.30V277.22H155.90V266.97H156.50V268.83H157.10V269.65H157.70V261.10H158.30V261.68H158.90V264.38H159.50V261.94H160.10V267.08H160.70V265.60H161.30V268.02H161.90V277.62H162.50V275.70H163.10V284.73H163.70V279.47H164.30V280.69H164.90V276.64H165.50V278.78H166.10V286.70H166.70V289.30H167.30V286.25H167.90V289.92H168.50V292.98H169.10V297.95H169.70V295.34H170.30V301.29H170.90V298.06H171.50V305.28H172.10V307.58H172.70V311.53H173.30V313.58H173.90V320.18H174.50V321.04H175.10V326.23H175.70V327.77H176.30V326.50H176.90V331.21H177.50V330.67H178.10V337.50H178.70V339.18H179.30V337.57H179.90V343.39H180.50V349.17H181.10V345.71H181.70V350.92H182.30V353.86H182.90V356.22H183.50V358.51H184.10V363.19H184.70V363.61H185.30V365.67H185.90V365.84H186.50V370.12H187.10V369.05H187.70V370.76H188.30V371.59H188.90V371.18H189.50V376.05H190.10V375.65H190.70V375.90H191.30V376.44H191.60" fill="none" stroke="#58b824" stroke-width="1.45" stroke-linejoin="round"/>
<path d="M119.00,376.70H119.30V373.57H119.90V374.58H120.50V372.05H121.10V370.85H121.70V367.68H122.30V364.47H122.90V365.92H123.50V361.64H124.10V359.67H124.70V359.50H125.30V354.51H125.90V351.72H126.50V349.41H127.10V349.92H127.70V348.46H128.30V346.55H128.90V343.63H129.50V338.79H130.10V334.31H130.70V332.96H131.30V327.70H131.90V329.62H132.50V322.26H133.10V321.54H133.70V321.58H134.30V315.65H134.90V314.81H135.50V307.14H136.10V300.23H136.70V295.17H137.30V289.30H137.90V294.47H138.50V290.25H139.10V298.42H139.70V291.15H140.30V287.43H140.90V287.22H141.50V282.94H142.10V277.69H142.70V275.43H143.30V270.95H143.90V271.20H144.50V268.31H145.10V269.01H145.70V272.26H146.30V268.76H146.90V266.93H147.50V264.28H148.10V267.84H148.70V261.88H149.30V261.81H149.90V263.49H150.50V269.74H151.10V261.10H151.70V265.69H152.30V261.87H152.90V261.32H153.50V270.07H154.10V272.69H154.70V270.58H155.30V273.37H155.90V263.22H156.50V266.86H157.10V276.64H157.70V274.19H158.30V273.96H158.90V277.22H159.50V281.11H160.10V287.52H160.70V279.52H161.30V282.72H161.90V287.98H162.50V288.19H163.10V289.91H163.70V290.86H164.30V290.43H164.90V294.41H165.50V297.10H166.10V302.43H166.70V302.63H167.30V306.56H167.90V307.68H168.50V307.62H169.10V310.57H169.70V312.65H170.30V315.29H170.90V316.91H171.50V320.13H172.10V319.30H172.70V328.12H173.30V326.75H173.90V329.01H174.50V327.14H175.10V334.81H175.70V337.05H176.30V337.00H176.90V335.15H177.50V343.51H178.10V342.06H178.70V343.77H179.30V347.96H179.90V350.47H180.50V349.61H181.10V355.28H181.70V352.26H182.30V358.56H182.90V359.10H183.50V362.17H184.10V365.98H184.70V366.05H185.30V368.56H185.90V370.40H186.50V369.28H187.10V372.19H187.70V374.93H188.30V373.50H188.90V374.30H189.50V375.35H190.10V376.10H190.70V376.70H191.00" fill="none" stroke="#f7992e" stroke-width="1.45" stroke-linejoin="round"/>
<path d="M121.00,376.70H121.30V374.93H121.90V373.47H122.50V370.49H123.10V368.35H123.70V367.07H124.30V365.93H124.90V366.80H125.50V361.19H126.10V362.18H126.70V359.20H127.30V355.11H127.90V358.36H128.50V351.58H129.10V349.35H129.70V348.18H130.30V350.36H130.90V345.94H131.50V341.15H132.10V341.25H132.70V336.69H133.30V329.53H133.90V328.77H134.50V323.95H135.10V321.36H135.70V324.06H136.30V317.22H136.90V311.33H137.50V307.64H138.10V309.64H138.70V303.27H139.30V302.90H139.90V297.15H140.50V293.55H141.10V294.64H141.70V290.45H142.30V285.18H142.90V297.14H143.50V289.45H144.10V291.73H144.70V293.23H145.30V283.95H145.90V283.02H146.50V282.82H147.10V272.39H147.70V262.23H148.30V264.45H148.90V264.61H149.50V265.98H150.10V263.33H150.70V262.24H151.30V268.79H151.90V261.10H152.50V261.33H153.10V262.13H153.70V268.14H154.30V265.87H154.90V274.52H155.50V269.11H156.10V267.92H156.70V269.15H157.30V274.42H157.90V275.49H158.50V273.03H159.10V284.59H159.70V279.91H160.30V279.11H160.90V280.48H161.50V283.27H162.10V284.52H162.70V287.00H163.30V293.77H163.90V293.57H164.50V296.20H165.10V296.09H165.70V299.55H166.30V299.68H166.90V306.54H167.50V306.19H168.10V311.99H168.70V310.10H169.30V315.25H169.90V322.35H170.50V319.89H171.10V322.67H171.70V325.66H172.30V326.32H172.90V329.84H173.50V331.67H174.10V336.26H174.70V335.74H175.30V339.93H175.90V336.51H176.50V338.47H177.10V343.72H177.70V345.79H178.30V350.98H178.90V347.93H179.50V351.64H180.10V353.15H180.70V355.40H181.30V358.99H181.90V360.21H182.50V363.44H183.10V365.11H183.70V368.51H184.30V366.04H184.90V369.53H185.50V370.70H186.10V371.48H186.70V373.08H187.30V373.27H187.90V375.69H188.50V375.69H189.10V376.31H189.40" fill="none" stroke="#1f3ff2" stroke-width="1.5" stroke-linejoin="round"/>
<path d="M122.00,376.70H122.30V376.04H122.90V373.30H123.50V371.83H124.10V370.73H124.70V371.18H125.30V367.94H125.90V365.41H126.50V365.34H127.10V365.08H127.70V362.23H128.30V361.85H128.90V356.92H129.50V359.80H130.10V355.86H130.70V353.29H131.30V350.38H131.90V348.58H132.50V348.14H133.10V346.63H133.70V348.11H134.30V339.01H134.90V347.21H135.50V337.26H136.10V333.11H136.70V333.56H137.30V331.61H137.90V328.50H138.50V327.14H139.10V327.90H139.70V324.97H140.30V323.04H140.90V316.51H141.50V312.29H142.10V311.36H142.70V310.00H143.30V309.72H143.90V304.58H144.50V303.88H145.10V301.16H145.70V295.45H146.30V297.58H146.90V292.70H147.50V296.60H148.10V290.37H148.70V288.88H149.30V290.04H149.90V293.50H150.50V287.77H151.10V277.56H151.70V278.67H152.30V276.90H152.90V272.41H153.50V273.35H154.10V272.08H154.70V273.78H155.30V271.59H155.90V270.74H156.50V266.00H157.10V264.71H157.70V268.31H158.30V268.07H158.90V266.37H159.50V261.72H160.10V263.67H160.70V261.10H161.30V263.93H161.90V261.10H162.50V261.90H163.10V265.54H163.70V261.10H164.30V264.00H164.90V271.38H165.50V271.26H166.10V268.38H166.70V271.60H167.30V275.07H167.90V273.62H168.50V279.47H169.10V279.56H169.70V274.73H170.30V277.18H170.90V282.71H171.50V279.31H172.10V292.33H172.70V292.55H173.30V295.41H173.90V298.63H174.50V309.17H175.10V309.63H175.70V307.22H176.30V311.68H176.90V309.67H177.50V317.58H178.10V321.61H178.70V323.59H179.30V326.71H179.90V328.88H180.50V331.90H181.10V332.66H181.70V338.85H182.30V339.51H182.90V342.42H183.50V343.63H184.10V349.17H184.70V351.54H185.30V353.60H185.90V354.87H186.50V357.73H187.10V359.25H187.70V363.36H188.30V365.79H188.90V366.32H189.50V369.32H190.10V371.35H190.70V372.22H191.30V372.58H191.90V371.78H192.50V375.10H193.10V374.35H193.70V375.15H194.30V375.98H194.90V376.41H195.50V376.65H195.80" fill="none" stroke="#f03c26" stroke-width="1.45" stroke-linejoin="round"/>
<line x1="94.00" y1="377.20" x2="97.80" y2="377.20" stroke="#000" stroke-width="1.1"/>
<text x="91.20" y="379.50" font-size="6.1" font-weight="normal" fill="#555" text-anchor="end" textLength="3.4" lengthAdjust="spacingAndGlyphs" >0</text>
<line x1="95.60" y1="371.32" x2="97.80" y2="371.32" stroke="#000" stroke-width="1.0"/>
<line x1="95.60" y1="365.44" x2="97.80" y2="365.44" stroke="#000" stroke-width="1.0"/>
<line x1="95.60" y1="359.56" x2="97.80" y2="359.56" stroke="#000" stroke-width="1.0"/>
<line x1="94.00" y1="353.68" x2="97.80" y2="353.68" stroke="#000" stroke-width="1.1"/>
<text x="91.20" y="355.98" font-size="6.1" font-weight="normal" fill="#555" text-anchor="end" textLength="6.7" lengthAdjust="spacingAndGlyphs" >20</text>
<line x1="95.60" y1="347.80" x2="97.80" y2="347.80" stroke="#000" stroke-width="1.0"/>
<line x1="95.60" y1="341.92" x2="97.80" y2="341.92" stroke="#000" stroke-width="1.0"/>
<line x1="95.60" y1="336.04" x2="97.80" y2="336.04" stroke="#000" stroke-width="1.0"/>
<line x1="94.00" y1="330.16" x2="97.80" y2="330.16" stroke="#000" stroke-width="1.1"/>
<text x="91.20" y="332.46" font-size="6.1" font-weight="normal" fill="#555" text-anchor="end" textLength="6.7" lengthAdjust="spacingAndGlyphs" >40</text>
<line x1="95.60" y1="324.28" x2="97.80" y2="324.28" stroke="#000" stroke-width="1.0"/>
<line x1="95.60" y1="318.40" x2="97.80" y2="318.40" stroke="#000" stroke-width="1.0"/>
<line x1="95.60" y1="312.52" x2="97.80" y2="312.52" stroke="#000" stroke-width="1.0"/>
<line x1="94.00" y1="306.64" x2="97.80" y2="306.64" stroke="#000" stroke-width="1.1"/>
<text x="91.20" y="308.94" font-size="6.1" font-weight="normal" fill="#555" text-anchor="end" textLength="6.7" lengthAdjust="spacingAndGlyphs" >60</text>
<line x1="95.60" y1="300.76" x2="97.80" y2="300.76" stroke="#000" stroke-width="1.0"/>
<line x1="95.60" y1="294.88" x2="97.80" y2="294.88" stroke="#000" stroke-width="1.0"/>
<line x1="95.60" y1="289.00" x2="97.80" y2="289.00" stroke="#000" stroke-width="1.0"/>
<line x1="94.00" y1="283.12" x2="97.80" y2="283.12" stroke="#000" stroke-width="1.1"/>
<text x="91.20" y="285.42" font-size="6.1" font-weight="normal" fill="#555" text-anchor="end" textLength="6.7" lengthAdjust="spacingAndGlyphs" >80</text>
<line x1="95.60" y1="277.24" x2="97.80" y2="277.24" stroke="#000" stroke-width="1.0"/>
<line x1="95.60" y1="271.36" x2="97.80" y2="271.36" stroke="#000" stroke-width="1.0"/>
<line x1="95.60" y1="265.48" x2="97.80" y2="265.48" stroke="#000" stroke-width="1.0"/>
<line x1="94.00" y1="259.60" x2="97.80" y2="259.60" stroke="#000" stroke-width="1.1"/>
<text x="91.20" y="261.90" font-size="6.1" font-weight="normal" fill="#555" text-anchor="end" textLength="10.1" lengthAdjust="spacingAndGlyphs" >100</text>
<line x1="97.80" y1="377.20" x2="97.80" y2="380.80" stroke="#000" stroke-width="1.1"/>
<line x1="107.93" y1="377.20" x2="107.93" y2="379.00" stroke="#000" stroke-width="0.9"/>
<line x1="113.86" y1="377.20" x2="113.86" y2="379.00" stroke="#000" stroke-width="0.9"/>
<line x1="118.06" y1="377.20" x2="118.06" y2="379.00" stroke="#000" stroke-width="0.9"/>
<line x1="121.32" y1="377.20" x2="121.32" y2="379.00" stroke="#000" stroke-width="0.9"/>
<line x1="123.98" y1="377.20" x2="123.98" y2="379.00" stroke="#000" stroke-width="0.9"/>
<line x1="126.24" y1="377.20" x2="126.24" y2="379.00" stroke="#000" stroke-width="0.9"/>
<line x1="128.19" y1="377.20" x2="128.19" y2="379.00" stroke="#000" stroke-width="0.9"/>
<line x1="129.91" y1="377.20" x2="129.91" y2="379.00" stroke="#000" stroke-width="0.9"/>
<line x1="131.45" y1="377.20" x2="131.45" y2="380.80" stroke="#000" stroke-width="1.1"/>
<line x1="141.58" y1="377.20" x2="141.58" y2="379.00" stroke="#000" stroke-width="0.9"/>
<line x1="147.51" y1="377.20" x2="147.51" y2="379.00" stroke="#000" stroke-width="0.9"/>
<line x1="151.71" y1="377.20" x2="151.71" y2="379.00" stroke="#000" stroke-width="0.9"/>
<line x1="154.97" y1="377.20" x2="154.97" y2="379.00" stroke="#000" stroke-width="0.9"/>
<line x1="157.63" y1="377.20" x2="157.63" y2="379.00" stroke="#000" stroke-width="0.9"/>
<line x1="159.89" y1="377.20" x2="159.89" y2="379.00" stroke="#000" stroke-width="0.9"/>
<line x1="161.84" y1="377.20" x2="161.84" y2="379.00" stroke="#000" stroke-width="0.9"/>
<line x1="163.56" y1="377.20" x2="163.56" y2="379.00" stroke="#000" stroke-width="0.9"/>
<line x1="165.10" y1="377.20" x2="165.10" y2="380.80" stroke="#000" stroke-width="1.1"/>
<line x1="175.23" y1="377.20" x2="175.23" y2="379.00" stroke="#000" stroke-width="0.9"/>
<line x1="181.16" y1="377.20" x2="181.16" y2="379.00" stroke="#000" stroke-width="0.9"/>
<line x1="185.36" y1="377.20" x2="185.36" y2="379.00" stroke="#000" stroke-width="0.9"/>
<line x1="188.62" y1="377.20" x2="188.62" y2="379.00" stroke="#000" stroke-width="0.9"/>
<line x1="191.28" y1="377.20" x2="191.28" y2="379.00" stroke="#000" stroke-width="0.9"/>
<line x1="193.54" y1="377.20" x2="193.54" y2="379.00" stroke="#000" stroke-width="0.9"/>
<line x1="195.49" y1="377.20" x2="195.49" y2="379.00" stroke="#000" stroke-width="0.9"/>
<line x1="197.21" y1="377.20" x2="197.21" y2="379.00" stroke="#000" stroke-width="0.9"/>
<line x1="198.75" y1="377.20" x2="198.75" y2="380.80" stroke="#000" stroke-width="1.1"/>
<line x1="208.88" y1="377.20" x2="208.88" y2="379.00" stroke="#000" stroke-width="0.9"/>
<line x1="214.81" y1="377.20" x2="214.81" y2="379.00" stroke="#000" stroke-width="0.9"/>
<line x1="219.01" y1="377.20" x2="219.01" y2="379.00" stroke="#000" stroke-width="0.9"/>
<line x1="222.27" y1="377.20" x2="222.27" y2="379.00" stroke="#000" stroke-width="0.9"/>
<line x1="224.93" y1="377.20" x2="224.93" y2="379.00" stroke="#000" stroke-width="0.9"/>
<line x1="227.19" y1="377.20" x2="227.19" y2="379.00" stroke="#000" stroke-width="0.9"/>
<line x1="229.14" y1="377.20" x2="229.14" y2="379.00" stroke="#000" stroke-width="0.9"/>
<line x1="230.86" y1="377.20" x2="230.86" y2="379.00" stroke="#000" stroke-width="0.9"/>
<line x1="232.40" y1="377.20" x2="232.40" y2="380.80" stroke="#000" stroke-width="1.1"/>
<text x="125.55" y="388.80" font-size="6.3" font-weight="normal" fill="#555" text-anchor="start" textLength="6.3" lengthAdjust="spacingAndGlyphs" >10</text>
<text x="132.15" y="385.80" font-size="4.284" font-weight="normal" fill="#555" text-anchor="start" textLength="2.6" lengthAdjust="spacingAndGlyphs" >0</text>
<text x="159.20" y="388.80" font-size="6.3" font-weight="normal" fill="#555" text-anchor="start" textLength="6.3" lengthAdjust="spacingAndGlyphs" >10</text>
<text x="165.80" y="385.80" font-size="4.284" font-weight="normal" fill="#555" text-anchor="start" textLength="2.6" lengthAdjust="spacingAndGlyphs" >1</text>
<text x="192.85" y="388.80" font-size="6.3" font-weight="normal" fill="#555" text-anchor="start" textLength="6.3" lengthAdjust="spacingAndGlyphs" >10</text>
<text x="199.45" y="385.80" font-size="4.284" font-weight="normal" fill="#555" text-anchor="start" textLength="2.6" lengthAdjust="spacingAndGlyphs" >2</text>
<text x="227.30" y="388.80" font-size="6.3" font-weight="normal" fill="#555" text-anchor="start" textLength="6.4" lengthAdjust="spacingAndGlyphs" >10</text>
<text x="189.10" y="272.00" font-size="14.2" font-weight="bold" fill="#000" text-anchor="start" textLength="38.3" lengthAdjust="spacingAndGlyphs" >44708</text>
<path d="M255.80,255.40 H391.50 V378.20" fill="none" stroke="#222" stroke-width="1.2"/>
<path d="M255.80,254.90 V378.20 H392.10" fill="none" stroke="#000" stroke-width="1.7"/>
<path d="M258.60,377.70H258.90V376.93H259.50V375.86H260.10V374.42H260.70V373.85H261.30V375.33H261.90V372.05H262.50V370.52H263.10V368.16H263.70V366.72H264.30V365.43H264.90V363.08H265.50V361.82H266.10V354.56H266.70V354.96H267.30V350.07H267.90V338.54H268.50V335.45H269.10V329.07H269.70V320.50H270.30V309.98H270.90V307.82H271.50V295.12H272.10V289.30H272.70V282.67H273.30V272.11H273.90V266.46H274.50V267.79H275.10V261.75H275.70V263.18H276.30V262.94H276.90V264.98H277.50V263.83H278.10V271.05H278.70V285.01H279.30V288.40H279.90V288.89H280.50V302.09H281.10V304.90H281.70V312.87H282.30V322.18H282.90V331.37H283.50V337.47H284.10V339.86H284.70V346.45H285.30V343.24H285.90V348.91H286.50V345.15H287.10V349.48H287.70V351.21H288.30V352.26H288.90V353.08H289.50V353.00H290.10V353.79H290.70V355.81H291.30V356.51H291.90V362.04H292.50V363.69H293.10V364.75H293.70V368.68H294.30V369.60H294.90V373.34H295.50V372.15H296.10V372.93H296.70V372.94H297.30V374.87H297.90V375.72H298.50V376.95H299.10V376.54H299.70V377.09H300.30V377.56H300.60" fill="none" stroke="#000000" stroke-width="1.6" stroke-linejoin="round"/>
<line x1="257.00" y1="377.70" x2="276.60" y2="377.70" stroke="#1f3ff2" stroke-width="1.5"/>
<path d="M261.00,377.70H261.30V376.90H261.90V375.35H262.50V376.25H263.10V372.26H263.70V371.48H264.30V370.56H264.90V367.24H265.50V361.88H266.10V362.38H266.70V361.27H267.30V359.33H267.90V350.12H268.50V346.94H269.10V337.70H269.70V333.43H270.30V331.73H270.90V322.64H271.50V315.88H272.10V312.31H272.70V311.71H273.30V297.71H273.90V289.04H274.50V283.47H275.10V279.70H275.70V266.26H276.30V262.10H276.90V263.98H277.50V262.10H278.10V262.10H278.70V268.00H279.30V264.56H279.90V276.99H280.50V288.74H281.10V292.30H281.70V297.39H282.30V291.27H282.90V300.42H283.50V309.41H284.10V315.74H284.70V320.62H285.30V319.88H285.90V328.64H286.50V331.21H287.10V335.09H287.70V332.61H288.30V334.52H288.90V337.96H289.50V334.88H290.10V340.10H290.70V339.18H291.30V338.59H291.90V343.53H292.50V344.06H293.10V347.64H293.70V350.84H294.30V350.43H294.90V352.52H295.50V353.12H296.10V353.89H296.70V355.67H297.30V355.43H297.90V359.50H298.50V363.08H299.10V363.17H299.70V363.34H300.30V365.78H300.90V364.65H301.50V366.38H302.10V367.84H302.70V369.86H303.30V371.36H303.90V372.21H304.50V374.22H305.10V375.68H305.70V374.02H306.30V376.45H306.90V377.38H307.20" fill="none" stroke="#f03c26" stroke-width="1.45" stroke-linejoin="round"/>
<path d="M266.30,377.70H266.60V377.21H267.20V377.19H267.80V376.07H268.40V373.25H269.00V372.58H269.60V370.99H270.20V368.68H270.80V365.87H271.40V363.00H272.00V360.12H272.60V356.10H273.20V352.26H273.80V350.21H274.40V346.26H275.00V339.18H275.60V335.70H276.20V331.15H276.80V327.02H277.40V320.36H278.00V307.38H278.60V302.33H279.20V290.79H279.80V288.79H280.40V273.35H281.00V284.94H281.60V270.63H282.20V268.20H282.80V274.52H283.40V271.17H284.00V264.16H284.60V265.68H285.20V274.33H285.80V272.98H286.40V267.60H287.00V275.93H287.60V280.09H288.20V279.06H288.80V283.47H289.40V280.75H290.00V296.31H290.60V293.41H291.20V294.51H291.80V301.92H292.40V301.03H293.00V301.47H293.60V303.73H294.20V302.65H294.80V302.24H295.40V304.98H296.00V307.69H296.60V316.71H297.20V313.23H297.80V317.38H298.40V320.93H299.00V324.13H299.60V326.89H300.20V326.65H300.80V327.91H301.40V332.67H302.00V331.04H302.60V334.64H303.20V336.02H303.80V337.71H304.40V340.85H305.00V339.40H305.60V346.71H306.20V346.63H306.80V346.81H307.40V350.56H308.00V347.35H308.60V351.79H309.20V356.51H309.80V357.25H310.40V356.04H311.00V357.51H311.60V357.03H312.20V361.25H312.80V362.96H313.40V365.77H314.00V366.41H314.60V366.73H315.20V365.79H315.80V369.22H316.40V369.57H317.00V370.69H317.60V370.94H318.20V372.72H318.80V373.38H319.40V374.26H320.00V375.59H320.60V376.39H321.20V376.53H321.80V377.11H322.40V377.62H322.70" fill="none" stroke="#58b824" stroke-width="1.45" stroke-linejoin="round"/>
<path d="M274.00,377.70H274.30V377.01H274.90V375.75H275.50V375.70H276.10V376.60H276.70V375.58H277.30V374.74H277.90V372.29H278.50V373.59H279.10V370.56H279.70V370.39H280.30V368.31H280.90V368.92H281.50V368.45H282.10V361.21H282.70V359.35H283.30V359.06H283.90V354.17H284.50V353.47H285.10V350.60H285.70V349.87H286.30V343.88H286.90V339.72H287.50V334.82H288.10V329.76H288.70V325.57H289.30V315.30H289.90V310.41H290.50V309.25H291.10V302.09H291.70V304.70H292.30V298.82H292.90V290.06H293.50V289.55H294.10V289.13H294.70V286.04H295.30V275.36H295.90V269.64H296.50V277.47H297.10V279.41H297.70V287.04H298.30V287.53H298.90V278.67H299.50V282.73H300.10V277.85H300.70V287.32H301.30V278.18H301.90V277.98H302.50V274.30H303.10V272.65H303.70V262.10H304.30V262.82H304.90V262.10H305.50V262.44H306.10V268.79H306.70V268.51H307.30V271.26H307.90V270.22H308.50V269.40H309.10V274.51H309.70V276.10H310.30V274.12H310.90V272.73H311.50V277.35H312.10V279.39H312.70V266.64H313.30V276.73H313.90V279.50H314.50V287.52H315.10V289.60H315.70V288.98H316.30V287.12H316.90V282.32H317.50V284.44H318.10V293.41H318.70V293.53H319.30V307.63H319.90V299.63H320.50V306.10H321.10V304.00H321.70V304.04H322.30V305.73H322.90V308.25H323.50V310.32H324.10V317.82H324.70V313.72H325.30V316.91H325.90V319.98H326.50V322.34H327.10V320.35H327.70V327.06H328.30V325.66H328.90V337.06H329.50V329.01H330.10V336.15H330.70V341.74H331.30V340.11H331.90V346.48H332.50V346.13H333.10V347.72H333.70V350.49H334.30V350.53H334.90V356.02H335.50V356.90H336.10V360.56H336.70V360.92H337.30V362.88H337.90V363.60H338.50V364.76H339.10V365.17H339.70V366.60H340.30V368.67H340.90V369.28H341.50V370.50H342.10V368.99H342.70V370.54H343.30V373.29H343.90V372.08H344.50V373.70H345.10V373.66H345.70V376.88H346.30V376.49H346.90V377.21H347.50V377.03H348.10V377.61H348.40" fill="none" stroke="#f7992e" stroke-width="1.45" stroke-linejoin="round"/>
<path d="M276.60,377.70H276.90V377.44H277.50V377.07H278.10V376.59H278.70V375.66H279.30V374.25H279.90V374.96H280.50V374.86H281.10V372.56H281.70V371.58H282.30V368.52H282.90V370.90H283.50V371.40H284.10V368.07H284.70V366.51H285.30V363.00H285.90V361.56H286.50V358.38H287.10V356.84H287.70V353.41H288.30V352.14H288.90V345.59H289.50V341.48H290.10V337.09H290.70V333.97H291.30V330.26H291.90V329.89H292.50V319.26H293.10V320.48H293.70V315.05H294.30V314.65H294.90V309.82H295.50V312.87H296.10V308.47H296.70V305.90H297.30V298.75H297.90V299.10H298.50V300.07H299.10V300.07H299.70V292.94H300.30V292.13H300.90V292.81H301.50V298.50H302.10V291.78H302.70V295.31H303.30V292.57H303.90V288.92H304.50V284.11H305.10V281.67H305.70V278.56H306.30V271.90H306.90V266.65H307.50V262.10H308.10V262.80H308.70V267.67H309.30V266.13H309.90V262.10H310.50V262.10H311.10V262.36H311.70V262.10H312.30V262.10H312.90V263.15H313.50V265.78H314.10V265.05H314.70V265.93H315.30V272.87H315.90V274.69H316.50V273.42H317.10V281.56H317.70V276.39H318.30V277.49H318.90V283.29H319.50V276.67H320.10V277.75H320.70V283.88H321.30V288.07H321.90V300.61H322.50V294.13H323.10V297.11H323.70V299.32H324.30V304.29H324.90V301.36H325.50V299.98H326.10V307.24H326.70V309.95H327.30V317.05H327.90V314.68H328.50V319.39H329.10V317.71H329.70V325.74H330.30V327.39H330.90V323.76H331.50V330.65H332.10V333.60H332.70V333.81H333.30V334.96H333.90V338.93H334.50V342.89H335.10V345.57H335.70V343.98H336.30V349.24H336.90V351.60H337.50V356.96H338.10V353.49H338.70V354.03H339.30V356.72H339.90V359.59H340.50V361.60H341.10V359.11H341.70V362.02H342.30V364.08H342.90V365.84H343.50V368.02H344.10V369.04H344.70V369.01H345.30V369.94H345.90V370.99H346.50V371.30H347.10V373.77H347.70V374.54H348.30V374.63H348.90V374.37H349.50V375.83H350.10V376.83H350.70V376.76H351.30V377.21H351.90V377.59H352.20" fill="none" stroke="#1f3ff2" stroke-width="1.5" stroke-linejoin="round"/>
<line x1="252.00" y1="378.20" x2="255.80" y2="378.20" stroke="#000" stroke-width="1.1"/>
<text x="249.20" y="380.50" font-size="6.1" font-weight="normal" fill="#555" text-anchor="end" textLength="3.4" lengthAdjust="spacingAndGlyphs" >0</text>
<line x1="253.60" y1="372.32" x2="255.80" y2="372.32" stroke="#000" stroke-width="1.0"/>
<line x1="253.60" y1="366.44" x2="255.80" y2="366.44" stroke="#000" stroke-width="1.0"/>
<line x1="253.60" y1="360.56" x2="255.80" y2="360.56" stroke="#000" stroke-width="1.0"/>
<line x1="252.00" y1="354.68" x2="255.80" y2="354.68" stroke="#000" stroke-width="1.1"/>
<text x="249.20" y="356.98" font-size="6.1" font-weight="normal" fill="#555" text-anchor="end" textLength="6.7" lengthAdjust="spacingAndGlyphs" >20</text>
<line x1="253.60" y1="348.80" x2="255.80" y2="348.80" stroke="#000" stroke-width="1.0"/>
<line x1="253.60" y1="342.92" x2="255.80" y2="342.92" stroke="#000" stroke-width="1.0"/>
<line x1="253.60" y1="337.04" x2="255.80" y2="337.04" stroke="#000" stroke-width="1.0"/>
<line x1="252.00" y1="331.16" x2="255.80" y2="331.16" stroke="#000" stroke-width="1.1"/>
<text x="249.20" y="333.46" font-size="6.1" font-weight="normal" fill="#555" text-anchor="end" textLength="6.7" lengthAdjust="spacingAndGlyphs" >40</text>
<line x1="253.60" y1="325.28" x2="255.80" y2="325.28" stroke="#000" stroke-width="1.0"/>
<line x1="253.60" y1="319.40" x2="255.80" y2="319.40" stroke="#000" stroke-width="1.0"/>
<line x1="253.60" y1="313.52" x2="255.80" y2="313.52" stroke="#000" stroke-width="1.0"/>
<line x1="252.00" y1="307.64" x2="255.80" y2="307.64" stroke="#000" stroke-width="1.1"/>
<text x="249.20" y="309.94" font-size="6.1" font-weight="normal" fill="#555" text-anchor="end" textLength="6.7" lengthAdjust="spacingAndGlyphs" >60</text>
<line x1="253.60" y1="301.76" x2="255.80" y2="301.76" stroke="#000" stroke-width="1.0"/>
<line x1="253.60" y1="295.88" x2="255.80" y2="295.88" stroke="#000" stroke-width="1.0"/>
<line x1="253.60" y1="290.00" x2="255.80" y2="290.00" stroke="#000" stroke-width="1.0"/>
<line x1="252.00" y1="284.12" x2="255.80" y2="284.12" stroke="#000" stroke-width="1.1"/>
<text x="249.20" y="286.42" font-size="6.1" font-weight="normal" fill="#555" text-anchor="end" textLength="6.7" lengthAdjust="spacingAndGlyphs" >80</text>
<line x1="253.60" y1="278.24" x2="255.80" y2="278.24" stroke="#000" stroke-width="1.0"/>
<line x1="253.60" y1="272.36" x2="255.80" y2="272.36" stroke="#000" stroke-width="1.0"/>
<line x1="253.60" y1="266.48" x2="255.80" y2="266.48" stroke="#000" stroke-width="1.0"/>
<line x1="252.00" y1="260.60" x2="255.80" y2="260.60" stroke="#000" stroke-width="1.1"/>
<text x="249.20" y="262.90" font-size="6.1" font-weight="normal" fill="#555" text-anchor="end" textLength="10.1" lengthAdjust="spacingAndGlyphs" >100</text>
<line x1="255.80" y1="378.20" x2="255.80" y2="381.80" stroke="#000" stroke-width="1.1"/>
<line x1="266.01" y1="378.20" x2="266.01" y2="380.00" stroke="#000" stroke-width="0.9"/>
<line x1="271.99" y1="378.20" x2="271.99" y2="380.00" stroke="#000" stroke-width="0.9"/>
<line x1="276.22" y1="378.20" x2="276.22" y2="380.00" stroke="#000" stroke-width="0.9"/>
<line x1="279.51" y1="378.20" x2="279.51" y2="380.00" stroke="#000" stroke-width="0.9"/>
<line x1="282.20" y1="378.20" x2="282.20" y2="380.00" stroke="#000" stroke-width="0.9"/>
<line x1="284.47" y1="378.20" x2="284.47" y2="380.00" stroke="#000" stroke-width="0.9"/>
<line x1="286.44" y1="378.20" x2="286.44" y2="380.00" stroke="#000" stroke-width="0.9"/>
<line x1="288.17" y1="378.20" x2="288.17" y2="380.00" stroke="#000" stroke-width="0.9"/>
<line x1="289.73" y1="378.20" x2="289.73" y2="381.80" stroke="#000" stroke-width="1.1"/>
<line x1="299.94" y1="378.20" x2="299.94" y2="380.00" stroke="#000" stroke-width="0.9"/>
<line x1="305.91" y1="378.20" x2="305.91" y2="380.00" stroke="#000" stroke-width="0.9"/>
<line x1="310.15" y1="378.20" x2="310.15" y2="380.00" stroke="#000" stroke-width="0.9"/>
<line x1="313.44" y1="378.20" x2="313.44" y2="380.00" stroke="#000" stroke-width="0.9"/>
<line x1="316.12" y1="378.20" x2="316.12" y2="380.00" stroke="#000" stroke-width="0.9"/>
<line x1="318.39" y1="378.20" x2="318.39" y2="380.00" stroke="#000" stroke-width="0.9"/>
<line x1="320.36" y1="378.20" x2="320.36" y2="380.00" stroke="#000" stroke-width="0.9"/>
<line x1="322.10" y1="378.20" x2="322.10" y2="380.00" stroke="#000" stroke-width="0.9"/>
<line x1="323.65" y1="378.20" x2="323.65" y2="381.80" stroke="#000" stroke-width="1.1"/>
<line x1="333.86" y1="378.20" x2="333.86" y2="380.00" stroke="#000" stroke-width="0.9"/>
<line x1="339.84" y1="378.20" x2="339.84" y2="380.00" stroke="#000" stroke-width="0.9"/>
<line x1="344.07" y1="378.20" x2="344.07" y2="380.00" stroke="#000" stroke-width="0.9"/>
<line x1="347.36" y1="378.20" x2="347.36" y2="380.00" stroke="#000" stroke-width="0.9"/>
<line x1="350.05" y1="378.20" x2="350.05" y2="380.00" stroke="#000" stroke-width="0.9"/>
<line x1="352.32" y1="378.20" x2="352.32" y2="380.00" stroke="#000" stroke-width="0.9"/>
<line x1="354.29" y1="378.20" x2="354.29" y2="380.00" stroke="#000" stroke-width="0.9"/>
<line x1="356.02" y1="378.20" x2="356.02" y2="380.00" stroke="#000" stroke-width="0.9"/>
<line x1="357.57" y1="378.20" x2="357.57" y2="381.80" stroke="#000" stroke-width="1.1"/>
<line x1="367.79" y1="378.20" x2="367.79" y2="380.00" stroke="#000" stroke-width="0.9"/>
<line x1="373.76" y1="378.20" x2="373.76" y2="380.00" stroke="#000" stroke-width="0.9"/>
<line x1="378.00" y1="378.20" x2="378.00" y2="380.00" stroke="#000" stroke-width="0.9"/>
<line x1="381.29" y1="378.20" x2="381.29" y2="380.00" stroke="#000" stroke-width="0.9"/>
<line x1="383.97" y1="378.20" x2="383.97" y2="380.00" stroke="#000" stroke-width="0.9"/>
<line x1="386.24" y1="378.20" x2="386.24" y2="380.00" stroke="#000" stroke-width="0.9"/>
<line x1="388.21" y1="378.20" x2="388.21" y2="380.00" stroke="#000" stroke-width="0.9"/>
<line x1="389.95" y1="378.20" x2="389.95" y2="380.00" stroke="#000" stroke-width="0.9"/>
<line x1="391.50" y1="378.20" x2="391.50" y2="381.80" stroke="#000" stroke-width="1.1"/>
<text x="283.82" y="389.80" font-size="6.3" font-weight="normal" fill="#555" text-anchor="start" textLength="6.3" lengthAdjust="spacingAndGlyphs" >10</text>
<text x="290.43" y="386.80" font-size="4.284" font-weight="normal" fill="#555" text-anchor="start" textLength="2.6" lengthAdjust="spacingAndGlyphs" >0</text>
<text x="317.75" y="389.80" font-size="6.3" font-weight="normal" fill="#555" text-anchor="start" textLength="6.3" lengthAdjust="spacingAndGlyphs" >10</text>
<text x="324.35" y="386.80" font-size="4.284" font-weight="normal" fill="#555" text-anchor="start" textLength="2.6" lengthAdjust="spacingAndGlyphs" >1</text>
<text x="351.67" y="389.80" font-size="6.3" font-weight="normal" fill="#555" text-anchor="start" textLength="6.3" lengthAdjust="spacingAndGlyphs" >10</text>
<text x="358.27" y="386.80" font-size="4.284" font-weight="normal" fill="#555" text-anchor="start" textLength="2.6" lengthAdjust="spacingAndGlyphs" >2</text>
<text x="385.60" y="389.80" font-size="6.3" font-weight="normal" fill="#555" text-anchor="start" textLength="6.3" lengthAdjust="spacingAndGlyphs" >10</text>
<text x="392.20" y="386.80" font-size="4.284" font-weight="normal" fill="#555" text-anchor="start" textLength="2.6" lengthAdjust="spacingAndGlyphs" >3</text>
<text x="348.60" y="273.50" font-size="14.2" font-weight="bold" fill="#000" text-anchor="start" textLength="38.4" lengthAdjust="spacingAndGlyphs" >44708</text>
<path d="M97.80,393.00 H232.40 V515.80" fill="none" stroke="#222" stroke-width="1.2"/>
<path d="M97.80,392.50 V515.80 H233.00" fill="none" stroke="#000" stroke-width="1.7"/>
<path d="M100.60,515.30H100.90V514.53H101.50V513.61H102.10V512.23H102.70V513.00H103.30V511.02H103.90V511.44H104.50V509.48H105.10V508.06H105.70V505.26H106.30V503.61H106.90V500.40H107.50V496.72H108.10V494.11H108.70V489.05H109.30V480.24H109.90V479.94H110.50V472.13H111.10V465.31H111.70V455.42H112.30V454.47H112.90V446.18H113.50V432.77H114.10V424.56H114.70V426.56H115.30V411.95H115.90V404.25H116.50V402.58H117.10V401.48H117.70V402.44H118.30V399.35H118.90V399.85H119.50V402.16H120.10V417.77H120.70V422.89H121.30V427.63H121.90V433.14H122.50V442.27H123.10V444.06H123.70V450.49H124.30V462.58H124.90V470.94H125.50V476.85H126.10V478.49H126.70V479.32H127.30V481.77H127.90V485.93H128.50V487.88H129.10V485.33H129.70V484.82H130.30V487.55H130.90V488.40H131.50V491.69H132.10V493.78H132.70V493.83H133.30V495.78H133.90V500.01H134.50V501.84H135.10V505.33H135.70V506.02H136.30V508.64H136.90V509.55H137.50V509.11H138.10V509.91H138.70V509.44H139.30V512.67H139.90V513.83H140.50V512.67H141.10V514.14H141.70V514.69H142.30V515.16H142.60" fill="none" stroke="#000000" stroke-width="1.6" stroke-linejoin="round"/>
<line x1="99.00" y1="515.30" x2="111.50" y2="515.30" stroke="#1f3ff2" stroke-width="1.5"/>
<path d="M111.00,515.30H111.30V514.47H111.90V514.19H112.50V512.20H113.10V510.94H113.70V512.56H114.30V510.29H114.90V507.84H115.50V505.39H116.10V503.87H116.70V504.75H117.30V500.69H117.90V500.13H118.50V495.39H119.10V492.63H119.70V490.32H120.30V488.27H120.90V482.03H121.50V482.47H122.10V479.64H122.70V472.72H123.30V467.43H123.90V462.69H124.50V451.43H125.10V451.98H125.70V444.71H126.30V433.70H126.90V431.56H127.50V419.49H128.10V422.17H128.70V419.70H129.30V422.77H129.90V417.09H130.50V416.36H131.10V416.32H131.70V415.28H132.30V411.46H132.90V411.46H133.50V414.70H134.10V419.98H134.70V412.80H135.30V413.12H135.90V422.44H136.50V421.41H137.10V422.02H137.70V424.59H138.30V423.31H138.90V424.79H139.50V441.12H140.10V440.08H140.70V436.45H141.30V443.77H141.90V446.81H142.50V455.28H143.10V455.34H143.70V459.26H144.30V456.80H144.90V458.54H145.50V456.70H146.10V461.19H146.70V461.05H147.30V465.78H147.90V462.35H148.50V462.60H149.10V466.96H149.70V470.19H150.30V470.44H150.90V474.52H151.50V476.46H152.10V476.49H152.70V482.53H153.30V484.41H153.90V484.65H154.50V486.21H155.10V490.80H155.70V495.82H156.30V495.57H156.90V499.68H157.50V500.85H158.10V502.38H158.70V505.49H159.30V504.80H159.90V507.83H160.50V509.36H161.10V510.22H161.70V511.27H162.30V510.80H162.90V510.77H163.50V514.22H164.10V514.67H164.70V514.51H165.30V515.03H165.60" fill="none" stroke="#58b824" stroke-width="1.45" stroke-linejoin="round"/>
<path d="M125.20,515.30H125.50V515.11H126.10V514.58H126.70V513.17H127.30V513.49H127.90V512.43H128.50V509.16H129.10V508.95H129.70V507.53H130.30V504.04H130.90V502.64H131.50V495.03H132.10V488.48H132.70V480.38H133.30V476.14H133.90V459.70H134.50V442.84H135.10V438.19H135.70V423.45H136.30V417.06H136.90V405.29H137.50V399.70H138.10V402.49H138.70V399.70H139.30V399.70H139.90V410.24H140.50V401.73H141.10V409.19H141.70V414.38H142.30V418.95H142.90V426.30H143.50V429.95H144.10V431.87H144.70V430.90H145.30V436.15H145.90V439.04H146.50V440.24H147.10V440.97H147.70V442.61H148.30V449.08H148.90V454.46H149.50V455.51H150.10V455.69H150.70V458.64H151.30V460.12H151.90V462.17H152.50V459.63H153.10V465.30H153.70V464.94H154.30V471.17H154.90V471.39H155.50V473.40H156.10V478.19H156.70V477.30H157.30V478.87H157.90V484.71H158.50V483.72H159.10V487.39H159.70V493.76H160.30V489.69H160.90V494.58H161.50V499.84H162.10V498.86H162.70V501.56H163.30V502.55H163.90V507.47H164.50V505.49H165.10V507.31H165.70V509.04H166.30V511.81H166.90V511.27H167.50V513.02H168.10V514.32H168.70V514.56H169.30V514.26H169.90V514.82H170.50V515.24H170.80" fill="none" stroke="#f7992e" stroke-width="1.45" stroke-linejoin="round"/>
<path d="M111.50,515.30H111.80V514.43H112.40V513.42H113.00V513.17H113.60V511.83H114.20V510.27H114.80V509.52H115.40V507.71H116.00V504.99H116.60V505.79H117.20V505.15H117.80V503.19H118.40V503.33H119.00V498.44H119.60V495.50H120.20V492.80H120.80V489.09H121.40V484.38H122.00V478.84H122.60V473.89H123.20V466.61H123.80V458.33H124.40V448.15H125.00V429.58H125.60V425.00H126.20V416.73H126.80V411.00H127.40V415.96H128.00V411.32H128.60V410.68H129.20V407.21H129.80V400.47H130.40V400.91H131.00V402.41H131.60V404.83H132.20V401.43H132.80V410.40H133.40V411.94H134.00V419.67H134.60V419.45H135.20V430.73H135.80V430.37H136.40V432.18H137.00V435.79H137.60V438.22H138.20V437.64H138.80V441.12H139.40V445.26H140.00V444.98H140.60V449.61H141.20V453.14H141.80V451.39H142.40V457.55H143.00V454.88H143.60V458.40H144.20V462.28H144.80V466.39H145.40V462.24H146.00V469.33H146.60V469.14H147.20V469.99H147.80V473.63H148.40V474.35H149.00V480.12H149.60V480.57H150.20V481.09H150.80V481.25H151.40V485.85H152.00V488.27H152.60V490.22H153.20V492.02H153.80V493.78H154.40V496.02H155.00V499.98H155.60V503.54H156.20V502.64H156.80V505.34H157.40V505.49H158.00V507.22H158.60V508.17H159.20V510.91H159.80V511.30H160.40V511.46H161.00V512.40H161.60V513.29H162.20V514.26H162.80V514.82H163.40V515.24H163.70" fill="none" stroke="#1f3ff2" stroke-width="1.5" stroke-linejoin="round"/>
<path d="M111.00,515.30H111.30V514.47H111.90V514.24H112.50V513.24H113.10V511.09H113.70V510.77H114.30V509.90H114.90V506.81H115.50V507.75H116.10V505.92H116.70V502.50H117.30V502.63H117.90V498.32H118.50V499.99H119.10V496.57H119.70V492.61H120.30V489.28H120.90V485.61H121.50V482.98H122.10V475.27H122.70V469.88H123.30V462.21H123.90V450.86H124.50V438.47H125.10V432.54H125.70V422.30H126.30V418.37H126.90V416.59H127.50V414.15H128.10V412.50H128.70V412.24H129.30V401.25H129.90V399.70H130.50V400.91H131.10V406.58H131.70V399.70H132.30V399.70H132.90V400.33H133.50V404.65H134.10V405.22H134.70V403.28H135.30V411.92H135.90V417.51H136.50V422.57H137.10V420.54H137.70V429.70H138.30V432.74H138.90V429.77H139.50V432.48H140.10V431.68H140.70V438.96H141.30V432.43H141.90V441.16H142.50V446.24H143.10V449.01H143.70V451.05H144.30V457.69H144.90V462.94H145.50V462.65H146.10V461.56H146.70V468.46H147.30V467.60H147.90V467.12H148.50V469.84H149.10V477.12H149.70V476.26H150.30V475.54H150.90V473.92H151.50V479.91H152.10V481.06H152.70V483.67H153.30V485.61H153.90V490.58H154.50V492.49H155.10V489.16H155.70V497.27H156.30V497.42H156.90V499.57H157.50V501.83H158.10V502.50H158.70V504.23H159.30V505.31H159.90V509.08H160.50V512.25H161.10V509.89H161.70V512.48H162.30V513.16H162.90V513.38H163.50V513.56H164.10V514.46H164.70V514.92H165.30V515.23H165.60" fill="none" stroke="#f03c26" stroke-width="1.45" stroke-linejoin="round"/>
<line x1="94.00" y1="515.80" x2="97.80" y2="515.80" stroke="#000" stroke-width="1.1"/>
<text x="91.20" y="518.10" font-size="6.1" font-weight="normal" fill="#555" text-anchor="end" textLength="3.4" lengthAdjust="spacingAndGlyphs" >0</text>
<line x1="95.60" y1="509.92" x2="97.80" y2="509.92" stroke="#000" stroke-width="1.0"/>
<line x1="95.60" y1="504.04" x2="97.80" y2="504.04" stroke="#000" stroke-width="1.0"/>
<line x1="95.60" y1="498.16" x2="97.80" y2="498.16" stroke="#000" stroke-width="1.0"/>
<line x1="94.00" y1="492.28" x2="97.80" y2="492.28" stroke="#000" stroke-width="1.1"/>
<text x="91.20" y="494.58" font-size="6.1" font-weight="normal" fill="#555" text-anchor="end" textLength="6.7" lengthAdjust="spacingAndGlyphs" >20</text>
<line x1="95.60" y1="486.40" x2="97.80" y2="486.40" stroke="#000" stroke-width="1.0"/>
<line x1="95.60" y1="480.52" x2="97.80" y2="480.52" stroke="#000" stroke-width="1.0"/>
<line x1="95.60" y1="474.64" x2="97.80" y2="474.64" stroke="#000" stroke-width="1.0"/>
<line x1="94.00" y1="468.76" x2="97.80" y2="468.76" stroke="#000" stroke-width="1.1"/>
<text x="91.20" y="471.06" font-size="6.1" font-weight="normal" fill="#555" text-anchor="end" textLength="6.7" lengthAdjust="spacingAndGlyphs" >40</text>
<line x1="95.60" y1="462.88" x2="97.80" y2="462.88" stroke="#000" stroke-width="1.0"/>
<line x1="95.60" y1="457.00" x2="97.80" y2="457.00" stroke="#000" stroke-width="1.0"/>
<line x1="95.60" y1="451.12" x2="97.80" y2="451.12" stroke="#000" stroke-width="1.0"/>
<line x1="94.00" y1="445.24" x2="97.80" y2="445.24" stroke="#000" stroke-width="1.1"/>
<text x="91.20" y="447.54" font-size="6.1" font-weight="normal" fill="#555" text-anchor="end" textLength="6.7" lengthAdjust="spacingAndGlyphs" >60</text>
<line x1="95.60" y1="439.36" x2="97.80" y2="439.36" stroke="#000" stroke-width="1.0"/>
<line x1="95.60" y1="433.48" x2="97.80" y2="433.48" stroke="#000" stroke-width="1.0"/>
<line x1="95.60" y1="427.60" x2="97.80" y2="427.60" stroke="#000" stroke-width="1.0"/>
<line x1="94.00" y1="421.72" x2="97.80" y2="421.72" stroke="#000" stroke-width="1.1"/>
<text x="91.20" y="424.02" font-size="6.1" font-weight="normal" fill="#555" text-anchor="end" textLength="6.7" lengthAdjust="spacingAndGlyphs" >80</text>
<line x1="95.60" y1="415.84" x2="97.80" y2="415.84" stroke="#000" stroke-width="1.0"/>
<line x1="95.60" y1="409.96" x2="97.80" y2="409.96" stroke="#000" stroke-width="1.0"/>
<line x1="95.60" y1="404.08" x2="97.80" y2="404.08" stroke="#000" stroke-width="1.0"/>
<line x1="94.00" y1="398.20" x2="97.80" y2="398.20" stroke="#000" stroke-width="1.1"/>
<text x="91.20" y="400.50" font-size="6.1" font-weight="normal" fill="#555" text-anchor="end" textLength="10.1" lengthAdjust="spacingAndGlyphs" >100</text>
<line x1="97.80" y1="515.80" x2="97.80" y2="519.40" stroke="#000" stroke-width="1.1"/>
<line x1="107.93" y1="515.80" x2="107.93" y2="517.60" stroke="#000" stroke-width="0.9"/>
<line x1="113.86" y1="515.80" x2="113.86" y2="517.60" stroke="#000" stroke-width="0.9"/>
<line x1="118.06" y1="515.80" x2="118.06" y2="517.60" stroke="#000" stroke-width="0.9"/>
<line x1="121.32" y1="515.80" x2="121.32" y2="517.60" stroke="#000" stroke-width="0.9"/>
<line x1="123.98" y1="515.80" x2="123.98" y2="517.60" stroke="#000" stroke-width="0.9"/>
<line x1="126.24" y1="515.80" x2="126.24" y2="517.60" stroke="#000" stroke-width="0.9"/>
<line x1="128.19" y1="515.80" x2="128.19" y2="517.60" stroke="#000" stroke-width="0.9"/>
<line x1="129.91" y1="515.80" x2="129.91" y2="517.60" stroke="#000" stroke-width="0.9"/>
<line x1="131.45" y1="515.80" x2="131.45" y2="519.40" stroke="#000" stroke-width="1.1"/>
<line x1="141.58" y1="515.80" x2="141.58" y2="517.60" stroke="#000" stroke-width="0.9"/>
<line x1="147.51" y1="515.80" x2="147.51" y2="517.60" stroke="#000" stroke-width="0.9"/>
<line x1="151.71" y1="515.80" x2="151.71" y2="517.60" stroke="#000" stroke-width="0.9"/>
<line x1="154.97" y1="515.80" x2="154.97" y2="517.60" stroke="#000" stroke-width="0.9"/>
<line x1="157.63" y1="515.80" x2="157.63" y2="517.60" stroke="#000" stroke-width="0.9"/>
<line x1="159.89" y1="515.80" x2="159.89" y2="517.60" stroke="#000" stroke-width="0.9"/>
<line x1="161.84" y1="515.80" x2="161.84" y2="517.60" stroke="#000" stroke-width="0.9"/>
<line x1="163.56" y1="515.80" x2="163.56" y2="517.60" stroke="#000" stroke-width="0.9"/>
<line x1="165.10" y1="515.80" x2="165.10" y2="519.40" stroke="#000" stroke-width="1.1"/>
<line x1="175.23" y1="515.80" x2="175.23" y2="517.60" stroke="#000" stroke-width="0.9"/>
<line x1="181.16" y1="515.80" x2="181.16" y2="517.60" stroke="#000" stroke-width="0.9"/>
<line x1="185.36" y1="515.80" x2="185.36" y2="517.60" stroke="#000" stroke-width="0.9"/>
<line x1="188.62" y1="515.80" x2="188.62" y2="517.60" stroke="#000" stroke-width="0.9"/>
<line x1="191.28" y1="515.80" x2="191.28" y2="517.60" stroke="#000" stroke-width="0.9"/>
<line x1="193.54" y1="515.80" x2="193.54" y2="517.60" stroke="#000" stroke-width="0.9"/>
<line x1="195.49" y1="515.80" x2="195.49" y2="517.60" stroke="#000" stroke-width="0.9"/>
<line x1="197.21" y1="515.80" x2="197.21" y2="517.60" stroke="#000" stroke-width="0.9"/>
<line x1="198.75" y1="515.80" x2="198.75" y2="519.40" stroke="#000" stroke-width="1.1"/>
<line x1="208.88" y1="515.80" x2="208.88" y2="517.60" stroke="#000" stroke-width="0.9"/>
<line x1="214.81" y1="515.80" x2="214.81" y2="517.60" stroke="#000" stroke-width="0.9"/>
<line x1="219.01" y1="515.80" x2="219.01" y2="517.60" stroke="#000" stroke-width="0.9"/>
<line x1="222.27" y1="515.80" x2="222.27" y2="517.60" stroke="#000" stroke-width="0.9"/>
<line x1="224.93" y1="515.80" x2="224.93" y2="517.60" stroke="#000" stroke-width="0.9"/>
<line x1="227.19" y1="515.80" x2="227.19" y2="517.60" stroke="#000" stroke-width="0.9"/>
<line x1="229.14" y1="515.80" x2="229.14" y2="517.60" stroke="#000" stroke-width="0.9"/>
<line x1="230.86" y1="515.80" x2="230.86" y2="517.60" stroke="#000" stroke-width="0.9"/>
<line x1="232.40" y1="515.80" x2="232.40" y2="519.40" stroke="#000" stroke-width="1.1"/>
<text x="125.55" y="527.40" font-size="6.3" font-weight="normal" fill="#555" text-anchor="start" textLength="6.3" lengthAdjust="spacingAndGlyphs" >10</text>
<text x="132.15" y="524.40" font-size="4.284" font-weight="normal" fill="#555" text-anchor="start" textLength="2.6" lengthAdjust="spacingAndGlyphs" >0</text>
<text x="159.20" y="527.40" font-size="6.3" font-weight="normal" fill="#555" text-anchor="start" textLength="6.3" lengthAdjust="spacingAndGlyphs" >10</text>
<text x="165.80" y="524.40" font-size="4.284" font-weight="normal" fill="#555" text-anchor="start" textLength="2.6" lengthAdjust="spacingAndGlyphs" >1</text>
<text x="192.85" y="527.40" font-size="6.3" font-weight="normal" fill="#555" text-anchor="start" textLength="6.3" lengthAdjust="spacingAndGlyphs" >10</text>
<text x="199.45" y="524.40" font-size="4.284" font-weight="normal" fill="#555" text-anchor="start" textLength="2.6" lengthAdjust="spacingAndGlyphs" >2</text>
<text x="227.30" y="527.40" font-size="6.3" font-weight="normal" fill="#555" text-anchor="start" textLength="6.4" lengthAdjust="spacingAndGlyphs" >10</text>
<text x="188.10" y="412.40" font-size="14.2" font-weight="bold" fill="#000" text-anchor="start" textLength="38.2" lengthAdjust="spacingAndGlyphs" >44716</text>
<path d="M255.80,391.80 H391.50 V515.40" fill="none" stroke="#222" stroke-width="1.2"/>
<path d="M255.80,391.30 V515.40 H392.10" fill="none" stroke="#000" stroke-width="1.7"/>
<path d="M258.60,514.90H258.90V514.13H259.50V512.36H260.10V511.38H260.70V510.63H261.30V509.88H261.90V509.32H262.50V509.46H263.10V508.09H263.70V505.09H264.30V503.96H264.90V498.53H265.50V499.34H266.10V494.29H266.70V494.12H267.30V487.02H267.90V478.45H268.50V471.52H269.10V464.86H269.70V454.49H270.30V446.59H270.90V442.12H271.50V431.99H272.10V423.12H272.70V414.12H273.30V409.05H273.90V410.43H274.50V406.08H275.10V401.53H275.70V398.95H276.30V398.95H276.90V400.79H277.50V405.86H278.10V412.39H278.70V417.98H279.30V424.15H279.90V433.48H280.50V437.86H281.10V447.59H281.70V452.61H282.30V461.87H282.90V470.63H283.50V472.52H284.10V476.74H284.70V478.42H285.30V481.93H285.90V483.24H286.50V488.73H287.10V486.32H287.70V484.33H288.30V490.99H288.90V488.74H289.50V490.85H290.10V493.65H290.70V493.78H291.30V495.38H291.90V497.87H292.50V501.71H293.10V504.71H293.70V506.13H294.30V506.29H294.90V508.88H295.50V509.04H296.10V510.63H296.70V512.40H297.30V511.31H297.90V511.44H298.50V512.55H299.10V513.74H299.70V514.29H300.30V514.76H300.60" fill="none" stroke="#000000" stroke-width="1.6" stroke-linejoin="round"/>
<line x1="257.00" y1="514.90" x2="271.20" y2="514.90" stroke="#1f3ff2" stroke-width="1.5"/>
<path d="M259.50,514.90H259.80V514.43H260.40V513.18H261.00V512.66H261.60V509.75H262.20V505.86H262.80V506.65H263.40V501.36H264.00V497.44H264.60V494.27H265.20V491.61H265.80V485.46H266.40V482.47H267.00V469.06H267.60V468.98H268.20V459.58H268.80V456.09H269.40V443.78H270.00V443.35H270.60V433.05H271.20V429.63H271.80V410.42H272.40V408.30H273.00V401.14H273.60V405.01H274.20V401.35H274.80V399.30H275.40V399.30H276.00V399.30H276.60V401.18H277.20V408.63H277.80V411.09H278.40V416.22H279.00V421.10H279.60V429.00H280.20V434.84H280.80V439.52H281.40V449.85H282.00V455.62H282.60V459.88H283.20V462.16H283.80V466.49H284.40V467.97H285.00V472.88H285.60V474.36H286.20V474.86H286.80V473.33H287.40V475.59H288.00V476.35H288.60V480.65H289.20V483.11H289.80V487.03H290.40V486.54H291.00V490.88H291.60V492.93H292.20V495.83H292.80V495.03H293.40V498.84H294.00V499.21H294.60V502.76H295.20V502.87H295.80V505.42H296.40V504.97H297.00V508.61H297.60V510.43H298.20V511.72H298.80V511.05H299.40V512.95H300.00V514.36H300.30" fill="none" stroke="#f03c26" stroke-width="1.45" stroke-linejoin="round"/>
<path d="M261.00,514.90H261.30V514.26H261.90V512.95H262.50V513.66H263.10V510.39H263.70V509.89H264.30V508.57H264.90V507.89H265.50V505.04H266.10V504.44H266.70V501.79H267.30V498.35H267.90V499.68H268.50V490.32H269.10V491.09H269.70V484.07H270.30V477.40H270.90V478.09H271.50V474.60H272.10V460.81H272.70V456.56H273.30V444.40H273.90V436.59H274.50V431.28H275.10V423.79H275.70V422.06H276.30V417.45H276.90V408.35H277.50V409.38H278.10V400.87H278.70V399.84H279.30V406.10H279.90V403.30H280.50V399.30H281.10V405.50H281.70V412.18H282.30V424.12H282.90V430.57H283.50V441.01H284.10V450.65H284.70V450.68H285.30V459.13H285.90V458.73H286.50V458.71H287.10V464.96H287.70V463.00H288.30V469.33H288.90V467.98H289.50V468.00H290.10V477.30H290.70V477.42H291.30V476.40H291.90V476.26H292.50V480.39H293.10V486.01H293.70V486.11H294.30V489.53H294.90V490.36H295.50V492.90H296.10V493.26H296.70V497.80H297.30V497.16H297.90V500.10H298.50V499.42H299.10V500.51H299.70V504.38H300.30V506.05H300.90V507.38H301.50V508.76H302.10V505.06H302.70V507.96H303.30V511.18H303.90V509.20H304.50V510.91H305.10V513.16H305.70V512.99H306.30V513.75H306.90V514.40H307.20" fill="none" stroke="#58b824" stroke-width="1.45" stroke-linejoin="round"/>
<path d="M269.20,514.90H269.50V513.81H270.10V512.63H270.70V511.39H271.30V508.64H271.90V507.95H272.50V505.75H273.10V504.67H273.70V503.47H274.30V500.93H274.90V498.59H275.50V495.79H276.10V490.19H276.70V485.62H277.30V487.71H277.90V481.91H278.50V476.40H279.10V468.21H279.70V465.46H280.30V453.44H280.90V448.12H281.50V443.23H282.10V435.39H282.70V425.83H283.30V419.69H283.90V415.65H284.50V407.94H285.10V399.80H285.70V399.30H286.30V402.61H286.90V407.46H287.50V416.63H288.10V415.92H288.70V419.60H289.30V414.48H289.90V425.03H290.50V430.72H291.10V435.32H291.70V438.12H292.30V445.07H292.90V448.12H293.50V441.60H294.10V442.97H294.70V446.74H295.30V455.92H295.90V455.89H296.50V455.79H297.10V462.53H297.70V463.90H298.30V463.11H298.90V467.93H299.50V471.55H300.10V473.26H300.70V471.45H301.30V474.19H301.90V480.17H302.50V482.61H303.10V481.77H303.70V485.09H304.30V485.92H304.90V488.10H305.50V484.03H306.10V491.15H306.70V493.06H307.30V493.56H307.90V491.54H308.50V493.88H309.10V495.91H309.70V498.48H310.30V500.24H310.90V503.68H311.50V501.33H312.10V502.99H312.70V505.65H313.30V504.03H313.90V507.43H314.50V507.60H315.10V509.43H315.70V510.51H316.30V510.34H316.90V512.91H317.50V514.27H318.10V514.19H318.40" fill="none" stroke="#f7992e" stroke-width="1.45" stroke-linejoin="round"/>
<path d="M271.20,514.90H271.50V514.20H272.10V513.01H272.70V513.01H273.30V511.67H273.90V510.08H274.50V510.31H275.10V509.16H275.70V505.09H276.30V504.96H276.90V501.14H277.50V495.57H278.10V494.10H278.70V487.04H279.30V477.81H279.90V477.10H280.50V470.99H281.10V466.17H281.70V456.28H282.30V449.42H282.90V442.63H283.50V434.45H284.10V428.14H284.70V418.07H285.30V417.23H285.90V412.96H286.50V408.15H287.10V405.99H287.70V405.98H288.30V399.30H288.90V405.18H289.50V399.30H290.10V403.35H290.70V412.65H291.30V407.28H291.90V412.80H292.50V418.32H293.10V415.33H293.70V421.27H294.30V425.12H294.90V427.71H295.50V428.62H296.10V436.46H296.70V438.76H297.30V438.82H297.90V441.50H298.50V444.95H299.10V445.54H299.70V454.30H300.30V450.01H300.90V452.80H301.50V452.92H302.10V456.33H302.70V459.57H303.30V459.36H303.90V470.17H304.50V468.58H305.10V466.64H305.70V468.03H306.30V474.53H306.90V475.98H307.50V478.18H308.10V480.72H308.70V482.97H309.30V480.71H309.90V481.55H310.50V486.56H311.10V484.20H311.70V486.37H312.30V487.89H312.90V486.43H313.50V493.40H314.10V496.86H314.70V496.43H315.30V496.51H315.90V503.50H316.50V501.23H317.10V502.65H317.70V506.14H318.30V507.51H318.90V510.13H319.50V510.75H320.10V511.20H320.70V513.01H321.30V514.17H321.90V514.00H322.50V514.70H322.80" fill="none" stroke="#1f3ff2" stroke-width="1.5" stroke-linejoin="round"/>
<line x1="252.00" y1="515.40" x2="255.80" y2="515.40" stroke="#000" stroke-width="1.1"/>
<text x="249.20" y="517.70" font-size="6.1" font-weight="normal" fill="#555" text-anchor="end" textLength="3.4" lengthAdjust="spacingAndGlyphs" >0</text>
<line x1="253.60" y1="509.52" x2="255.80" y2="509.52" stroke="#000" stroke-width="1.0"/>
<line x1="253.60" y1="503.64" x2="255.80" y2="503.64" stroke="#000" stroke-width="1.0"/>
<line x1="253.60" y1="497.76" x2="255.80" y2="497.76" stroke="#000" stroke-width="1.0"/>
<line x1="252.00" y1="491.88" x2="255.80" y2="491.88" stroke="#000" stroke-width="1.1"/>
<text x="249.20" y="494.18" font-size="6.1" font-weight="normal" fill="#555" text-anchor="end" textLength="6.7" lengthAdjust="spacingAndGlyphs" >20</text>
<line x1="253.60" y1="486.00" x2="255.80" y2="486.00" stroke="#000" stroke-width="1.0"/>
<line x1="253.60" y1="480.12" x2="255.80" y2="480.12" stroke="#000" stroke-width="1.0"/>
<line x1="253.60" y1="474.24" x2="255.80" y2="474.24" stroke="#000" stroke-width="1.0"/>
<line x1="252.00" y1="468.36" x2="255.80" y2="468.36" stroke="#000" stroke-width="1.1"/>
<text x="249.20" y="470.66" font-size="6.1" font-weight="normal" fill="#555" text-anchor="end" textLength="6.7" lengthAdjust="spacingAndGlyphs" >40</text>
<line x1="253.60" y1="462.48" x2="255.80" y2="462.48" stroke="#000" stroke-width="1.0"/>
<line x1="253.60" y1="456.60" x2="255.80" y2="456.60" stroke="#000" stroke-width="1.0"/>
<line x1="253.60" y1="450.72" x2="255.80" y2="450.72" stroke="#000" stroke-width="1.0"/>
<line x1="252.00" y1="444.84" x2="255.80" y2="444.84" stroke="#000" stroke-width="1.1"/>
<text x="249.20" y="447.14" font-size="6.1" font-weight="normal" fill="#555" text-anchor="end" textLength="6.7" lengthAdjust="spacingAndGlyphs" >60</text>
<line x1="253.60" y1="438.96" x2="255.80" y2="438.96" stroke="#000" stroke-width="1.0"/>
<line x1="253.60" y1="433.08" x2="255.80" y2="433.08" stroke="#000" stroke-width="1.0"/>
<line x1="253.60" y1="427.20" x2="255.80" y2="427.20" stroke="#000" stroke-width="1.0"/>
<line x1="252.00" y1="421.32" x2="255.80" y2="421.32" stroke="#000" stroke-width="1.1"/>
<text x="249.20" y="423.62" font-size="6.1" font-weight="normal" fill="#555" text-anchor="end" textLength="6.7" lengthAdjust="spacingAndGlyphs" >80</text>
<line x1="253.60" y1="415.44" x2="255.80" y2="415.44" stroke="#000" stroke-width="1.0"/>
<line x1="253.60" y1="409.56" x2="255.80" y2="409.56" stroke="#000" stroke-width="1.0"/>
<line x1="253.60" y1="403.68" x2="255.80" y2="403.68" stroke="#000" stroke-width="1.0"/>
<line x1="252.00" y1="397.80" x2="255.80" y2="397.80" stroke="#000" stroke-width="1.1"/>
<text x="249.20" y="400.10" font-size="6.1" font-weight="normal" fill="#555" text-anchor="end" textLength="10.1" lengthAdjust="spacingAndGlyphs" >100</text>
<line x1="255.80" y1="515.40" x2="255.80" y2="519.00" stroke="#000" stroke-width="1.1"/>
<line x1="266.01" y1="515.40" x2="266.01" y2="517.20" stroke="#000" stroke-width="0.9"/>
<line x1="271.99" y1="515.40" x2="271.99" y2="517.20" stroke="#000" stroke-width="0.9"/>
<line x1="276.22" y1="515.40" x2="276.22" y2="517.20" stroke="#000" stroke-width="0.9"/>
<line x1="279.51" y1="515.40" x2="279.51" y2="517.20" stroke="#000" stroke-width="0.9"/>
<line x1="282.20" y1="515.40" x2="282.20" y2="517.20" stroke="#000" stroke-width="0.9"/>
<line x1="284.47" y1="515.40" x2="284.47" y2="517.20" stroke="#000" stroke-width="0.9"/>
<line x1="286.44" y1="515.40" x2="286.44" y2="517.20" stroke="#000" stroke-width="0.9"/>
<line x1="288.17" y1="515.40" x2="288.17" y2="517.20" stroke="#000" stroke-width="0.9"/>
<line x1="289.73" y1="515.40" x2="289.73" y2="519.00" stroke="#000" stroke-width="1.1"/>
<line x1="299.94" y1="515.40" x2="299.94" y2="517.20" stroke="#000" stroke-width="0.9"/>
<line x1="305.91" y1="515.40" x2="305.91" y2="517.20" stroke="#000" stroke-width="0.9"/>
<line x1="310.15" y1="515.40" x2="310.15" y2="517.20" stroke="#000" stroke-width="0.9"/>
<line x1="313.44" y1="515.40" x2="313.44" y2="517.20" stroke="#000" stroke-width="0.9"/>
<line x1="316.12" y1="515.40" x2="316.12" y2="517.20" stroke="#000" stroke-width="0.9"/>
<line x1="318.39" y1="515.40" x2="318.39" y2="517.20" stroke="#000" stroke-width="0.9"/>
<line x1="320.36" y1="515.40" x2="320.36" y2="517.20" stroke="#000" stroke-width="0.9"/>
<line x1="322.10" y1="515.40" x2="322.10" y2="517.20" stroke="#000" stroke-width="0.9"/>
<line x1="323.65" y1="515.40" x2="323.65" y2="519.00" stroke="#000" stroke-width="1.1"/>
<line x1="333.86" y1="515.40" x2="333.86" y2="517.20" stroke="#000" stroke-width="0.9"/>
<line x1="339.84" y1="515.40" x2="339.84" y2="517.20" stroke="#000" stroke-width="0.9"/>
<line x1="344.07" y1="515.40" x2="344.07" y2="517.20" stroke="#000" stroke-width="0.9"/>
<line x1="347.36" y1="515.40" x2="347.36" y2="517.20" stroke="#000" stroke-width="0.9"/>
<line x1="350.05" y1="515.40" x2="350.05" y2="517.20" stroke="#000" stroke-width="0.9"/>
<line x1="352.32" y1="515.40" x2="352.32" y2="517.20" stroke="#000" stroke-width="0.9"/>
<line x1="354.29" y1="515.40" x2="354.29" y2="517.20" stroke="#000" stroke-width="0.9"/>
<line x1="356.02" y1="515.40" x2="356.02" y2="517.20" stroke="#000" stroke-width="0.9"/>
<line x1="357.57" y1="515.40" x2="357.57" y2="519.00" stroke="#000" stroke-width="1.1"/>
<line x1="367.79" y1="515.40" x2="367.79" y2="517.20" stroke="#000" stroke-width="0.9"/>
<line x1="373.76" y1="515.40" x2="373.76" y2="517.20" stroke="#000" stroke-width="0.9"/>
<line x1="378.00" y1="515.40" x2="378.00" y2="517.20" stroke="#000" stroke-width="0.9"/>
<line x1="381.29" y1="515.40" x2="381.29" y2="517.20" stroke="#000" stroke-width="0.9"/>
<line x1="383.97" y1="515.40" x2="383.97" y2="517.20" stroke="#000" stroke-width="0.9"/>
<line x1="386.24" y1="515.40" x2="386.24" y2="517.20" stroke="#000" stroke-width="0.9"/>
<line x1="388.21" y1="515.40" x2="388.21" y2="517.20" stroke="#000" stroke-width="0.9"/>
<line x1="389.95" y1="515.40" x2="389.95" y2="517.20" stroke="#000" stroke-width="0.9"/>
<line x1="391.50" y1="515.40" x2="391.50" y2="519.00" stroke="#000" stroke-width="1.1"/>
<text x="283.82" y="527.00" font-size="6.3" font-weight="normal" fill="#555" text-anchor="start" textLength="6.3" lengthAdjust="spacingAndGlyphs" >10</text>
<text x="290.43" y="524.00" font-size="4.284" font-weight="normal" fill="#555" text-anchor="start" textLength="2.6" lengthAdjust="spacingAndGlyphs" >0</text>
<text x="317.75" y="527.00" font-size="6.3" font-weight="normal" fill="#555" text-anchor="start" textLength="6.3" lengthAdjust="spacingAndGlyphs" >10</text>
<text x="324.35" y="524.00" font-size="4.284" font-weight="normal" fill="#555" text-anchor="start" textLength="2.6" lengthAdjust="spacingAndGlyphs" >1</text>
<text x="351.67" y="527.00" font-size="6.3" font-weight="normal" fill="#555" text-anchor="start" textLength="6.3" lengthAdjust="spacingAndGlyphs" >10</text>
<text x="358.27" y="524.00" font-size="4.284" font-weight="normal" fill="#555" text-anchor="start" textLength="2.6" lengthAdjust="spacingAndGlyphs" >2</text>
<text x="385.60" y="527.00" font-size="6.3" font-weight="normal" fill="#555" text-anchor="start" textLength="6.3" lengthAdjust="spacingAndGlyphs" >10</text>
<text x="392.20" y="524.00" font-size="4.284" font-weight="normal" fill="#555" text-anchor="start" textLength="2.6" lengthAdjust="spacingAndGlyphs" >3</text>
<text x="347.30" y="412.40" font-size="14.2" font-weight="bold" fill="#000" text-anchor="start" textLength="38.6" lengthAdjust="spacingAndGlyphs" >44716</text>
<path d="M97.80,532.60 H232.40 V655.60" fill="none" stroke="#222" stroke-width="1.2"/>
<path d="M97.80,532.10 V655.60 H233.00" fill="none" stroke="#000" stroke-width="1.7"/>
<path d="M100.60,655.10H100.90V654.33H101.50V651.98H102.10V653.65H102.70V651.39H103.30V650.51H103.90V649.02H104.50V649.70H105.10V646.27H105.70V644.10H106.30V644.26H106.90V642.60H107.50V639.35H108.10V633.67H108.70V630.49H109.30V627.81H109.90V621.26H110.50V610.34H111.10V605.28H111.70V597.72H112.30V588.54H112.90V587.79H113.50V575.19H114.10V560.97H114.70V560.36H115.30V554.02H115.90V555.32H116.50V546.46H117.10V539.15H117.70V542.93H118.30V545.27H118.90V541.14H119.50V546.57H120.10V552.98H120.70V557.84H121.30V559.35H121.90V577.20H122.50V578.05H123.10V588.50H123.70V591.82H124.30V598.41H124.90V610.86H125.50V616.53H126.10V618.47H126.70V619.14H127.30V621.24H127.90V619.37H128.50V627.58H129.10V626.09H129.70V625.03H130.30V624.98H130.90V628.47H131.50V631.57H132.10V631.09H132.70V633.06H133.30V631.88H133.90V638.66H134.50V639.50H135.10V641.54H135.70V646.78H136.30V645.74H136.90V648.85H137.50V649.81H138.10V650.42H138.70V650.81H139.30V651.11H139.90V652.00H140.50V653.35H141.10V653.94H141.70V654.49H142.30V654.96H142.60" fill="none" stroke="#000000" stroke-width="1.6" stroke-linejoin="round"/>
<line x1="99.00" y1="655.10" x2="146.30" y2="655.10" stroke="#1f3ff2" stroke-width="1.5"/>
<path d="M142.10,655.10H142.40V654.77H143.00V654.41H143.60V654.00H144.20V653.21H144.80V653.26H145.40V652.69H146.00V650.47H146.60V651.58H147.20V651.75H147.80V649.34H148.40V650.46H149.00V648.47H149.60V649.18H150.20V648.05H150.80V646.71H151.40V645.44H152.00V648.24H152.60V644.36H153.20V643.04H153.80V643.19H154.40V639.24H155.00V639.02H155.60V640.57H156.20V638.74H156.80V633.06H157.40V632.24H158.00V628.78H158.60V629.41H159.20V621.70H159.80V615.14H160.40V612.25H161.00V612.09H161.60V606.67H162.20V603.30H162.80V601.78H163.40V599.46H164.00V598.24H164.60V595.42H165.20V591.28H165.80V588.98H166.40V581.19H167.00V579.27H167.60V578.14H168.20V577.25H168.80V576.87H169.40V576.05H170.00V571.78H170.60V571.11H171.20V572.13H171.80V567.11H172.40V563.39H173.00V561.97H173.60V557.35H174.20V554.69H174.80V558.58H175.40V548.52H176.00V549.49H176.60V542.38H177.20V546.74H177.80V539.81H178.40V545.48H179.00V546.58H179.60V551.16H180.20V555.28H180.80V552.30H181.40V558.22H182.00V558.96H182.60V555.08H183.20V559.46H183.80V565.53H184.40V560.46H185.00V559.14H185.60V568.57H186.20V572.27H186.80V574.12H187.40V574.89H188.00V577.69H188.60V584.33H189.20V579.77H189.80V581.90H190.40V584.38H191.00V593.38H191.60V590.96H192.20V597.66H192.80V598.83H193.40V599.64H194.00V600.54H194.60V605.29H195.20V602.62H195.80V606.22H196.40V608.67H197.00V607.08H197.60V614.22H198.20V612.84H198.80V616.58H199.40V619.10H200.00V620.28H200.60V623.89H201.20V628.75H201.80V625.60H202.40V629.56H203.00V633.38H203.60V635.75H204.20V636.07H204.80V638.71H205.40V641.14H206.00V641.73H206.60V643.43H207.20V644.07H207.80V646.69H208.40V649.14H209.00V651.93H209.60V651.16H210.20V652.22H210.80V653.32H211.40V654.60H211.70" fill="none" stroke="#58b824" stroke-width="1.45" stroke-linejoin="round"/>
<path d="M151.50,655.10H151.80V654.74H152.40V654.29H153.00V654.00H153.60V652.60H154.20V652.09H154.80V650.75H155.40V650.40H156.00V649.58H156.60V646.88H157.20V648.91H157.80V646.96H158.40V645.46H159.00V646.63H159.60V642.75H160.20V643.97H160.80V640.96H161.40V639.43H162.00V637.78H162.60V634.10H163.20V628.26H163.80V627.08H164.40V623.29H165.00V616.39H165.60V612.08H166.20V608.81H166.80V605.63H167.40V604.11H168.00V602.75H168.60V597.31H169.20V592.99H169.80V595.61H170.40V581.34H171.00V586.07H171.60V588.61H172.20V582.09H172.80V570.85H173.40V572.09H174.00V567.20H174.60V564.16H175.20V560.01H175.80V555.00H176.40V551.06H177.00V550.27H177.60V546.55H178.20V548.35H178.80V546.70H179.40V545.45H180.00V540.42H180.60V539.50H181.20V539.50H181.80V539.50H182.40V544.98H183.00V548.81H183.60V547.75H184.20V557.48H184.80V555.03H185.40V559.21H186.00V556.90H186.60V559.13H187.20V561.27H187.80V564.38H188.40V570.22H189.00V569.29H189.60V580.37H190.20V580.59H190.80V588.10H191.40V589.31H192.00V583.79H192.60V591.84H193.20V592.52H193.80V594.65H194.40V594.26H195.00V595.92H195.60V596.38H196.20V597.41H196.80V601.13H197.40V600.65H198.00V606.15H198.60V611.71H199.20V610.00H199.80V612.88H200.40V614.52H201.00V614.97H201.60V619.02H202.20V619.03H202.80V624.01H203.40V624.60H204.00V625.08H204.60V630.14H205.20V631.24H205.80V633.77H206.40V637.45H207.00V640.26H207.60V641.05H208.20V644.18H208.80V644.56H209.40V645.60H210.00V650.12H210.60V649.80H211.20V650.45H211.80V652.34H212.40V652.44H213.00V654.80H213.60V654.66H213.90" fill="none" stroke="#f7992e" stroke-width="1.45" stroke-linejoin="round"/>
<path d="M146.30,655.10H146.60V654.90H147.20V654.63H147.80V654.28H148.40V653.91H149.00V652.24H149.60V652.67H150.20V652.49H150.80V651.01H151.40V649.30H152.00V650.31H152.60V650.17H153.20V648.68H153.80V648.49H154.40V649.84H155.00V646.69H155.60V646.45H156.20V645.25H156.80V642.63H157.40V642.08H158.00V639.87H158.60V634.74H159.20V634.50H159.80V634.01H160.40V626.52H161.00V624.30H161.60V621.60H162.20V620.08H162.80V613.72H163.40V611.52H164.00V603.55H164.60V596.23H165.20V593.33H165.80V590.45H166.40V587.84H167.00V578.19H167.60V580.54H168.20V578.85H168.80V567.95H169.40V562.80H170.00V557.90H170.60V559.03H171.20V555.01H171.80V550.49H172.40V539.50H173.00V543.09H173.60V540.06H174.20V545.36H174.80V542.68H175.40V542.61H176.00V543.39H176.60V542.95H177.20V543.72H177.80V540.13H178.40V541.11H179.00V546.23H179.60V540.79H180.20V548.26H180.80V548.33H181.40V553.29H182.00V563.12H182.60V563.74H183.20V557.00H183.80V564.70H184.40V575.60H185.00V576.49H185.60V576.22H186.20V579.03H186.80V583.09H187.40V584.29H188.00V586.01H188.60V586.19H189.20V595.36H189.80V598.49H190.40V594.93H191.00V597.42H191.60V602.01H192.20V601.98H192.80V601.16H193.40V606.58H194.00V603.34H194.60V607.14H195.20V610.32H195.80V610.31H196.40V615.40H197.00V620.58H197.60V622.40H198.20V620.13H198.80V624.26H199.40V626.18H200.00V628.21H200.60V632.32H201.20V637.64H201.80V639.32H202.40V641.96H203.00V641.47H203.60V645.06H204.20V648.13H204.80V649.12H205.40V647.92H206.00V651.21H206.60V652.59H207.20V651.85H207.80V652.90H208.40V654.74H208.70" fill="none" stroke="#1f3ff2" stroke-width="1.5" stroke-linejoin="round"/>
<path d="M152.50,655.10H152.80V654.59H153.40V654.02H154.00V654.87H154.60V653.64H155.20V651.47H155.80V649.84H156.40V649.57H157.00V649.34H157.60V648.13H158.20V647.00H158.80V647.65H159.40V645.39H160.00V645.61H160.60V644.56H161.20V640.44H161.80V640.11H162.40V640.01H163.00V638.03H163.60V631.40H164.20V628.49H164.80V627.06H165.40V624.34H166.00V618.50H166.60V612.72H167.20V612.66H167.80V608.28H168.40V605.58H169.00V600.46H169.60V599.10H170.20V594.82H170.80V591.05H171.40V586.42H172.00V585.75H172.60V589.41H173.20V583.78H173.80V579.70H174.40V574.11H175.00V569.18H175.60V566.74H176.20V563.90H176.80V559.18H177.40V548.75H178.00V548.66H178.60V552.20H179.20V553.06H179.80V544.25H180.40V546.31H181.00V539.50H181.60V540.76H182.20V539.50H182.80V539.50H183.40V539.50H184.00V546.70H184.60V555.38H185.20V543.23H185.80V551.17H186.40V551.83H187.00V558.63H187.60V562.87H188.20V568.71H188.80V569.86H189.40V570.10H190.00V575.81H190.60V576.94H191.20V576.28H191.80V575.63H192.40V580.78H193.00V591.45H193.60V588.64H194.20V593.41H194.80V587.66H195.40V594.61H196.00V595.70H196.60V599.78H197.20V600.80H197.80V602.58H198.40V601.98H199.00V603.87H199.60V603.50H200.20V605.80H200.80V609.77H201.40V611.83H202.00V614.18H202.60V617.18H203.20V619.85H203.80V624.00H204.40V626.65H205.00V631.57H205.60V630.65H206.20V633.71H206.80V634.44H207.40V636.38H208.00V637.70H208.60V640.73H209.20V637.91H209.80V641.77H210.40V645.52H211.00V648.85H211.60V648.49H212.20V652.09H212.80V652.22H213.40V653.63H214.00V653.73H214.60V654.74H214.90" fill="none" stroke="#f03c26" stroke-width="1.45" stroke-linejoin="round"/>
<line x1="94.00" y1="655.60" x2="97.80" y2="655.60" stroke="#000" stroke-width="1.1"/>
<text x="91.20" y="657.90" font-size="6.1" font-weight="normal" fill="#555" text-anchor="end" textLength="3.4" lengthAdjust="spacingAndGlyphs" >0</text>
<line x1="95.60" y1="649.72" x2="97.80" y2="649.72" stroke="#000" stroke-width="1.0"/>
<line x1="95.60" y1="643.84" x2="97.80" y2="643.84" stroke="#000" stroke-width="1.0"/>
<line x1="95.60" y1="637.96" x2="97.80" y2="637.96" stroke="#000" stroke-width="1.0"/>
<line x1="94.00" y1="632.08" x2="97.80" y2="632.08" stroke="#000" stroke-width="1.1"/>
<text x="91.20" y="634.38" font-size="6.1" font-weight="normal" fill="#555" text-anchor="end" textLength="6.7" lengthAdjust="spacingAndGlyphs" >20</text>
<line x1="95.60" y1="626.20" x2="97.80" y2="626.20" stroke="#000" stroke-width="1.0"/>
<line x1="95.60" y1="620.32" x2="97.80" y2="620.32" stroke="#000" stroke-width="1.0"/>
<line x1="95.60" y1="614.44" x2="97.80" y2="614.44" stroke="#000" stroke-width="1.0"/>
<line x1="94.00" y1="608.56" x2="97.80" y2="608.56" stroke="#000" stroke-width="1.1"/>
<text x="91.20" y="610.86" font-size="6.1" font-weight="normal" fill="#555" text-anchor="end" textLength="6.7" lengthAdjust="spacingAndGlyphs" >40</text>
<line x1="95.60" y1="602.68" x2="97.80" y2="602.68" stroke="#000" stroke-width="1.0"/>
<line x1="95.60" y1="596.80" x2="97.80" y2="596.80" stroke="#000" stroke-width="1.0"/>
<line x1="95.60" y1="590.92" x2="97.80" y2="590.92" stroke="#000" stroke-width="1.0"/>
<line x1="94.00" y1="585.04" x2="97.80" y2="585.04" stroke="#000" stroke-width="1.1"/>
<text x="91.20" y="587.34" font-size="6.1" font-weight="normal" fill="#555" text-anchor="end" textLength="6.7" lengthAdjust="spacingAndGlyphs" >60</text>
<line x1="95.60" y1="579.16" x2="97.80" y2="579.16" stroke="#000" stroke-width="1.0"/>
<line x1="95.60" y1="573.28" x2="97.80" y2="573.28" stroke="#000" stroke-width="1.0"/>
<line x1="95.60" y1="567.40" x2="97.80" y2="567.40" stroke="#000" stroke-width="1.0"/>
<line x1="94.00" y1="561.52" x2="97.80" y2="561.52" stroke="#000" stroke-width="1.1"/>
<text x="91.20" y="563.82" font-size="6.1" font-weight="normal" fill="#555" text-anchor="end" textLength="6.7" lengthAdjust="spacingAndGlyphs" >80</text>
<line x1="95.60" y1="555.64" x2="97.80" y2="555.64" stroke="#000" stroke-width="1.0"/>
<line x1="95.60" y1="549.76" x2="97.80" y2="549.76" stroke="#000" stroke-width="1.0"/>
<line x1="95.60" y1="543.88" x2="97.80" y2="543.88" stroke="#000" stroke-width="1.0"/>
<line x1="94.00" y1="538.00" x2="97.80" y2="538.00" stroke="#000" stroke-width="1.1"/>
<text x="91.20" y="540.30" font-size="6.1" font-weight="normal" fill="#555" text-anchor="end" textLength="10.1" lengthAdjust="spacingAndGlyphs" >100</text>
<line x1="97.80" y1="655.60" x2="97.80" y2="659.20" stroke="#000" stroke-width="1.1"/>
<line x1="107.93" y1="655.60" x2="107.93" y2="657.40" stroke="#000" stroke-width="0.9"/>
<line x1="113.86" y1="655.60" x2="113.86" y2="657.40" stroke="#000" stroke-width="0.9"/>
<line x1="118.06" y1="655.60" x2="118.06" y2="657.40" stroke="#000" stroke-width="0.9"/>
<line x1="121.32" y1="655.60" x2="121.32" y2="657.40" stroke="#000" stroke-width="0.9"/>
<line x1="123.98" y1="655.60" x2="123.98" y2="657.40" stroke="#000" stroke-width="0.9"/>
<line x1="126.24" y1="655.60" x2="126.24" y2="657.40" stroke="#000" stroke-width="0.9"/>
<line x1="128.19" y1="655.60" x2="128.19" y2="657.40" stroke="#000" stroke-width="0.9"/>
<line x1="129.91" y1="655.60" x2="129.91" y2="657.40" stroke="#000" stroke-width="0.9"/>
<line x1="131.45" y1="655.60" x2="131.45" y2="659.20" stroke="#000" stroke-width="1.1"/>
<line x1="141.58" y1="655.60" x2="141.58" y2="657.40" stroke="#000" stroke-width="0.9"/>
<line x1="147.51" y1="655.60" x2="147.51" y2="657.40" stroke="#000" stroke-width="0.9"/>
<line x1="151.71" y1="655.60" x2="151.71" y2="657.40" stroke="#000" stroke-width="0.9"/>
<line x1="154.97" y1="655.60" x2="154.97" y2="657.40" stroke="#000" stroke-width="0.9"/>
<line x1="157.63" y1="655.60" x2="157.63" y2="657.40" stroke="#000" stroke-width="0.9"/>
<line x1="159.89" y1="655.60" x2="159.89" y2="657.40" stroke="#000" stroke-width="0.9"/>
<line x1="161.84" y1="655.60" x2="161.84" y2="657.40" stroke="#000" stroke-width="0.9"/>
<line x1="163.56" y1="655.60" x2="163.56" y2="657.40" stroke="#000" stroke-width="0.9"/>
<line x1="165.10" y1="655.60" x2="165.10" y2="659.20" stroke="#000" stroke-width="1.1"/>
<line x1="175.23" y1="655.60" x2="175.23" y2="657.40" stroke="#000" stroke-width="0.9"/>
<line x1="181.16" y1="655.60" x2="181.16" y2="657.40" stroke="#000" stroke-width="0.9"/>
<line x1="185.36" y1="655.60" x2="185.36" y2="657.40" stroke="#000" stroke-width="0.9"/>
<line x1="188.62" y1="655.60" x2="188.62" y2="657.40" stroke="#000" stroke-width="0.9"/>
<line x1="191.28" y1="655.60" x2="191.28" y2="657.40" stroke="#000" stroke-width="0.9"/>
<line x1="193.54" y1="655.60" x2="193.54" y2="657.40" stroke="#000" stroke-width="0.9"/>
<line x1="195.49" y1="655.60" x2="195.49" y2="657.40" stroke="#000" stroke-width="0.9"/>
<line x1="197.21" y1="655.60" x2="197.21" y2="657.40" stroke="#000" stroke-width="0.9"/>
<line x1="198.75" y1="655.60" x2="198.75" y2="659.20" stroke="#000" stroke-width="1.1"/>
<line x1="208.88" y1="655.60" x2="208.88" y2="657.40" stroke="#000" stroke-width="0.9"/>
<line x1="214.81" y1="655.60" x2="214.81" y2="657.40" stroke="#000" stroke-width="0.9"/>
<line x1="219.01" y1="655.60" x2="219.01" y2="657.40" stroke="#000" stroke-width="0.9"/>
<line x1="222.27" y1="655.60" x2="222.27" y2="657.40" stroke="#000" stroke-width="0.9"/>
<line x1="224.93" y1="655.60" x2="224.93" y2="657.40" stroke="#000" stroke-width="0.9"/>
<line x1="227.19" y1="655.60" x2="227.19" y2="657.40" stroke="#000" stroke-width="0.9"/>
<line x1="229.14" y1="655.60" x2="229.14" y2="657.40" stroke="#000" stroke-width="0.9"/>
<line x1="230.86" y1="655.60" x2="230.86" y2="657.40" stroke="#000" stroke-width="0.9"/>
<line x1="232.40" y1="655.60" x2="232.40" y2="659.20" stroke="#000" stroke-width="1.1"/>
<text x="125.55" y="667.20" font-size="6.3" font-weight="normal" fill="#555" text-anchor="start" textLength="6.3" lengthAdjust="spacingAndGlyphs" >10</text>
<text x="132.15" y="664.20" font-size="4.284" font-weight="normal" fill="#555" text-anchor="start" textLength="2.6" lengthAdjust="spacingAndGlyphs" >0</text>
<text x="159.20" y="667.20" font-size="6.3" font-weight="normal" fill="#555" text-anchor="start" textLength="6.3" lengthAdjust="spacingAndGlyphs" >10</text>
<text x="165.80" y="664.20" font-size="4.284" font-weight="normal" fill="#555" text-anchor="start" textLength="2.6" lengthAdjust="spacingAndGlyphs" >1</text>
<text x="192.85" y="667.20" font-size="6.3" font-weight="normal" fill="#555" text-anchor="start" textLength="6.3" lengthAdjust="spacingAndGlyphs" >10</text>
<text x="199.45" y="664.20" font-size="4.284" font-weight="normal" fill="#555" text-anchor="start" textLength="2.6" lengthAdjust="spacingAndGlyphs" >2</text>
<text x="227.30" y="667.20" font-size="6.3" font-weight="normal" fill="#555" text-anchor="start" textLength="6.4" lengthAdjust="spacingAndGlyphs" >10</text>
<text x="189.10" y="550.40" font-size="14.2" font-weight="bold" fill="#000" text-anchor="start" textLength="38.1" lengthAdjust="spacingAndGlyphs" >44717</text>
<path d="M255.80,532.30 H391.50 V655.40" fill="none" stroke="#222" stroke-width="1.2"/>
<path d="M255.80,531.80 V655.40 H392.10" fill="none" stroke="#000" stroke-width="1.7"/>
<path d="M258.60,654.90H258.90V654.13H259.50V652.52H260.10V652.12H260.70V651.23H261.30V650.69H261.90V649.48H262.50V649.53H263.10V644.93H263.70V645.94H264.30V641.55H264.90V641.73H265.50V637.47H266.10V635.04H266.70V630.44H267.30V624.05H267.90V618.45H268.50V611.11H269.10V609.03H269.70V601.75H270.30V585.88H270.90V583.82H271.50V575.82H272.10V563.31H272.70V553.15H273.30V548.30H273.90V545.86H274.50V543.87H275.10V543.45H275.70V538.95H276.30V538.95H276.90V544.80H277.50V552.25H278.10V551.55H278.70V568.35H279.30V566.47H279.90V569.90H280.50V576.48H281.10V586.05H281.70V593.84H282.30V599.31H282.90V607.58H283.50V614.81H284.10V619.57H284.70V622.35H285.30V618.95H285.90V625.47H286.50V626.37H287.10V624.06H287.70V628.36H288.30V626.89H288.90V628.15H289.50V631.72H290.10V635.49H290.70V634.76H291.30V636.60H291.90V636.92H292.50V641.87H293.10V643.30H293.70V646.44H294.30V647.88H294.90V647.30H295.50V650.37H296.10V648.56H296.70V650.68H297.30V652.33H297.90V652.63H298.50V651.67H299.10V653.74H299.70V654.29H300.30V654.76H300.60" fill="none" stroke="#000000" stroke-width="1.6" stroke-linejoin="round"/>
<line x1="257.00" y1="654.90" x2="306.90" y2="654.90" stroke="#1f3ff2" stroke-width="1.5"/>
<path d="M268.30,654.90H268.60V654.19H269.20V653.45H269.80V652.08H270.40V650.04H271.00V651.68H271.60V647.39H272.20V647.90H272.80V644.63H273.40V646.03H274.00V642.76H274.60V641.17H275.20V638.71H275.80V636.56H276.40V634.20H277.00V629.91H277.60V623.05H278.20V621.99H278.80V611.00H279.40V610.51H280.00V600.99H280.60V597.84H281.20V591.94H281.80V590.72H282.40V578.07H283.00V574.26H283.60V561.66H284.20V548.70H284.80V540.75H285.40V543.99H286.00V538.59H286.60V538.77H287.20V542.45H287.80V550.13H288.40V539.18H289.00V543.49H289.60V553.17H290.20V563.30H290.80V564.16H291.40V572.84H292.00V576.01H292.60V575.63H293.20V576.97H293.80V579.29H294.40V580.51H295.00V583.33H295.60V588.34H296.20V593.22H296.80V590.95H297.40V590.78H298.00V598.70H298.60V600.08H299.20V601.62H299.80V601.35H300.40V608.63H301.00V606.89H301.60V608.57H302.20V606.29H302.80V612.34H303.40V609.64H304.00V618.97H304.60V615.81H305.20V618.23H305.80V619.83H306.40V622.24H307.00V623.91H307.60V624.32H308.20V628.62H308.80V629.96H309.40V629.72H310.00V634.00H310.60V632.88H311.20V636.89H311.80V641.09H312.40V640.30H313.00V640.14H313.60V639.08H314.20V641.15H314.80V643.54H315.40V645.48H316.00V648.43H316.60V647.36H317.20V648.37H317.80V648.07H318.40V649.49H319.00V651.37H319.60V651.16H320.20V651.75H320.80V652.50H321.40V654.09H322.00V654.90H322.30" fill="none" stroke="#f03c26" stroke-width="1.45" stroke-linejoin="round"/>
<path d="M281.50,654.90H281.80V654.15H282.40V653.37H283.00V651.31H283.60V652.28H284.20V650.93H284.80V648.08H285.40V647.30H286.00V646.95H286.60V643.56H287.20V642.22H287.80V640.15H288.40V638.49H289.00V633.50H289.60V630.41H290.20V630.49H290.80V625.82H291.40V626.20H292.00V625.31H292.60V616.52H293.20V617.00H293.80V613.56H294.40V600.40H295.00V599.01H295.60V593.81H296.20V590.87H296.80V590.16H297.40V581.68H298.00V580.64H298.60V571.88H299.20V575.45H299.80V564.29H300.40V571.96H301.00V564.73H301.60V562.21H302.20V565.88H302.80V554.73H303.40V552.88H304.00V550.75H304.60V553.30H305.20V547.40H305.80V551.92H306.40V544.96H307.00V538.59H307.60V542.66H308.20V541.01H308.80V550.26H309.40V551.91H310.00V552.21H310.60V549.61H311.20V554.89H311.80V555.51H312.40V567.65H313.00V564.27H313.60V560.37H314.20V568.68H314.80V569.22H315.40V568.06H316.00V569.35H316.60V569.59H317.20V577.28H317.80V583.02H318.40V586.91H319.00V592.39H319.60V588.73H320.20V589.40H320.80V600.25H321.40V599.32H322.00V595.71H322.60V599.62H323.20V606.70H323.80V604.70H324.40V606.29H325.00V610.18H325.60V609.67H326.20V615.36H326.80V607.77H327.40V613.63H328.00V614.90H328.60V617.04H329.20V623.60H329.80V626.84H330.40V624.19H331.00V628.36H331.60V631.85H332.20V630.57H332.80V634.22H333.40V636.54H334.00V639.17H334.60V640.96H335.20V642.93H335.80V640.26H336.40V642.76H337.00V644.66H337.60V646.85H338.20V648.77H338.80V648.62H339.40V650.26H340.00V652.65H340.60V652.36H341.20V652.99H341.80V654.42H342.10" fill="none" stroke="#58b824" stroke-width="1.45" stroke-linejoin="round"/>
<path d="M294.60,654.90H294.90V654.39H295.50V653.85H296.10V652.67H296.70V652.05H297.30V652.32H297.90V652.43H298.50V651.49H299.10V651.47H299.70V646.32H300.30V647.64H300.90V648.72H301.50V647.57H302.10V647.22H302.70V644.83H303.30V643.44H303.90V643.78H304.50V641.84H305.10V640.15H305.70V640.16H306.30V641.13H306.90V638.50H307.50V638.92H308.10V636.43H308.70V638.11H309.30V635.85H309.90V633.03H310.50V626.80H311.10V630.35H311.70V629.07H312.30V624.52H312.90V626.14H313.50V620.02H314.10V621.62H314.70V618.67H315.30V617.71H315.90V614.18H316.50V614.12H317.10V608.36H317.70V602.51H318.30V594.52H318.90V596.78H319.50V591.78H320.10V578.54H320.70V579.34H321.30V575.40H321.90V568.93H322.50V569.33H323.10V559.05H323.70V555.38H324.30V555.28H324.90V556.47H325.50V553.14H326.10V547.36H326.70V549.43H327.30V542.49H327.90V541.56H328.50V543.55H329.10V538.59H329.70V542.21H330.30V552.09H330.90V549.18H331.50V547.44H332.10V551.64H332.70V552.78H333.30V558.14H333.90V563.68H334.50V561.72H335.10V562.43H335.70V559.87H336.30V556.17H336.90V555.16H337.50V559.63H338.10V563.99H338.70V568.86H339.30V575.49H339.90V581.22H340.50V575.89H341.10V587.74H341.70V593.33H342.30V590.87H342.90V597.36H343.50V596.05H344.10V602.11H344.70V604.77H345.30V611.43H345.90V608.52H346.50V617.21H347.10V615.41H347.70V620.30H348.30V618.75H348.90V620.14H349.50V621.06H350.10V625.06H350.70V625.87H351.30V631.25H351.90V630.32H352.50V631.68H353.10V632.71H353.70V637.57H354.30V638.21H354.90V639.52H355.50V643.47H356.10V644.22H356.70V645.59H357.30V643.65H357.90V645.22H358.50V647.51H359.10V650.18H359.70V650.79H360.30V649.85H360.90V652.36H361.50V652.70H362.10V653.73H362.70V654.28H363.30V654.70H363.60" fill="none" stroke="#f7992e" stroke-width="1.45" stroke-linejoin="round"/>
<path d="M306.90,654.90H307.20V654.39H307.80V653.81H308.40V653.56H309.00V652.75H309.60V651.42H310.20V651.45H310.80V649.33H311.40V648.50H312.00V648.47H312.60V649.14H313.20V645.26H313.80V645.77H314.40V643.95H315.00V644.65H315.60V644.06H316.20V637.58H316.80V635.48H317.40V635.03H318.00V631.24H318.60V631.48H319.20V627.27H319.80V623.55H320.40V619.51H321.00V616.42H321.60V614.44H322.20V609.59H322.80V603.98H323.40V601.21H324.00V595.97H324.60V588.48H325.20V586.36H325.80V582.25H326.40V579.08H327.00V575.18H327.60V569.17H328.20V556.99H328.80V563.92H329.40V552.93H330.00V554.84H330.60V554.60H331.20V541.60H331.80V538.59H332.40V538.59H333.00V538.59H333.60V546.24H334.20V545.35H334.80V543.54H335.40V543.17H336.00V541.38H336.60V540.41H337.20V542.82H337.80V544.49H338.40V545.76H339.00V540.06H339.60V548.39H340.20V549.35H340.80V550.28H341.40V559.98H342.00V559.37H342.60V565.25H343.20V566.79H343.80V569.79H344.40V570.57H345.00V576.54H345.60V575.41H346.20V581.90H346.80V579.84H347.40V592.39H348.00V591.06H348.60V596.19H349.20V600.71H349.80V599.45H350.40V603.38H351.00V606.54H351.60V604.90H352.20V606.25H352.80V610.79H353.40V610.80H354.00V613.38H354.60V619.15H355.20V617.78H355.80V623.70H356.40V623.84H357.00V628.79H357.60V629.37H358.20V632.32H358.80V634.64H359.40V636.73H360.00V639.44H360.60V641.01H361.20V643.32H361.80V641.31H362.40V647.91H363.00V645.70H363.60V648.62H364.20V649.44H364.80V651.81H365.40V650.67H366.00V651.32H366.60V652.25H367.20V654.50H367.50" fill="none" stroke="#1f3ff2" stroke-width="1.5" stroke-linejoin="round"/>
<line x1="252.00" y1="655.40" x2="255.80" y2="655.40" stroke="#000" stroke-width="1.1"/>
<text x="249.20" y="657.70" font-size="6.1" font-weight="normal" fill="#555" text-anchor="end" textLength="3.4" lengthAdjust="spacingAndGlyphs" >0</text>
<line x1="253.60" y1="649.52" x2="255.80" y2="649.52" stroke="#000" stroke-width="1.0"/>
<line x1="253.60" y1="643.64" x2="255.80" y2="643.64" stroke="#000" stroke-width="1.0"/>
<line x1="253.60" y1="637.76" x2="255.80" y2="637.76" stroke="#000" stroke-width="1.0"/>
<line x1="252.00" y1="631.88" x2="255.80" y2="631.88" stroke="#000" stroke-width="1.1"/>
<text x="249.20" y="634.18" font-size="6.1" font-weight="normal" fill="#555" text-anchor="end" textLength="6.7" lengthAdjust="spacingAndGlyphs" >20</text>
<line x1="253.60" y1="626.00" x2="255.80" y2="626.00" stroke="#000" stroke-width="1.0"/>
<line x1="253.60" y1="620.12" x2="255.80" y2="620.12" stroke="#000" stroke-width="1.0"/>
<line x1="253.60" y1="614.24" x2="255.80" y2="614.24" stroke="#000" stroke-width="1.0"/>
<line x1="252.00" y1="608.36" x2="255.80" y2="608.36" stroke="#000" stroke-width="1.1"/>
<text x="249.20" y="610.66" font-size="6.1" font-weight="normal" fill="#555" text-anchor="end" textLength="6.7" lengthAdjust="spacingAndGlyphs" >40</text>
<line x1="253.60" y1="602.48" x2="255.80" y2="602.48" stroke="#000" stroke-width="1.0"/>
<line x1="253.60" y1="596.60" x2="255.80" y2="596.60" stroke="#000" stroke-width="1.0"/>
<line x1="253.60" y1="590.72" x2="255.80" y2="590.72" stroke="#000" stroke-width="1.0"/>
<line x1="252.00" y1="584.84" x2="255.80" y2="584.84" stroke="#000" stroke-width="1.1"/>
<text x="249.20" y="587.14" font-size="6.1" font-weight="normal" fill="#555" text-anchor="end" textLength="6.7" lengthAdjust="spacingAndGlyphs" >60</text>
<line x1="253.60" y1="578.96" x2="255.80" y2="578.96" stroke="#000" stroke-width="1.0"/>
<line x1="253.60" y1="573.08" x2="255.80" y2="573.08" stroke="#000" stroke-width="1.0"/>
<line x1="253.60" y1="567.20" x2="255.80" y2="567.20" stroke="#000" stroke-width="1.0"/>
<line x1="252.00" y1="561.32" x2="255.80" y2="561.32" stroke="#000" stroke-width="1.1"/>
<text x="249.20" y="563.62" font-size="6.1" font-weight="normal" fill="#555" text-anchor="end" textLength="6.7" lengthAdjust="spacingAndGlyphs" >80</text>
<line x1="253.60" y1="555.44" x2="255.80" y2="555.44" stroke="#000" stroke-width="1.0"/>
<line x1="253.60" y1="549.56" x2="255.80" y2="549.56" stroke="#000" stroke-width="1.0"/>
<line x1="253.60" y1="543.68" x2="255.80" y2="543.68" stroke="#000" stroke-width="1.0"/>
<line x1="252.00" y1="537.80" x2="255.80" y2="537.80" stroke="#000" stroke-width="1.1"/>
<text x="249.20" y="540.10" font-size="6.1" font-weight="normal" fill="#555" text-anchor="end" textLength="10.1" lengthAdjust="spacingAndGlyphs" >100</text>
<line x1="255.80" y1="655.40" x2="255.80" y2="659.00" stroke="#000" stroke-width="1.1"/>
<line x1="266.01" y1="655.40" x2="266.01" y2="657.20" stroke="#000" stroke-width="0.9"/>
<line x1="271.99" y1="655.40" x2="271.99" y2="657.20" stroke="#000" stroke-width="0.9"/>
<line x1="276.22" y1="655.40" x2="276.22" y2="657.20" stroke="#000" stroke-width="0.9"/>
<line x1="279.51" y1="655.40" x2="279.51" y2="657.20" stroke="#000" stroke-width="0.9"/>
<line x1="282.20" y1="655.40" x2="282.20" y2="657.20" stroke="#000" stroke-width="0.9"/>
<line x1="284.47" y1="655.40" x2="284.47" y2="657.20" stroke="#000" stroke-width="0.9"/>
<line x1="286.44" y1="655.40" x2="286.44" y2="657.20" stroke="#000" stroke-width="0.9"/>
<line x1="288.17" y1="655.40" x2="288.17" y2="657.20" stroke="#000" stroke-width="0.9"/>
<line x1="289.73" y1="655.40" x2="289.73" y2="659.00" stroke="#000" stroke-width="1.1"/>
<line x1="299.94" y1="655.40" x2="299.94" y2="657.20" stroke="#000" stroke-width="0.9"/>
<line x1="305.91" y1="655.40" x2="305.91" y2="657.20" stroke="#000" stroke-width="0.9"/>
<line x1="310.15" y1="655.40" x2="310.15" y2="657.20" stroke="#000" stroke-width="0.9"/>
<line x1="313.44" y1="655.40" x2="313.44" y2="657.20" stroke="#000" stroke-width="0.9"/>
<line x1="316.12" y1="655.40" x2="316.12" y2="657.20" stroke="#000" stroke-width="0.9"/>
<line x1="318.39" y1="655.40" x2="318.39" y2="657.20" stroke="#000" stroke-width="0.9"/>
<line x1="320.36" y1="655.40" x2="320.36" y2="657.20" stroke="#000" stroke-width="0.9"/>
<line x1="322.10" y1="655.40" x2="322.10" y2="657.20" stroke="#000" stroke-width="0.9"/>
<line x1="323.65" y1="655.40" x2="323.65" y2="659.00" stroke="#000" stroke-width="1.1"/>
<line x1="333.86" y1="655.40" x2="333.86" y2="657.20" stroke="#000" stroke-width="0.9"/>
<line x1="339.84" y1="655.40" x2="339.84" y2="657.20" stroke="#000" stroke-width="0.9"/>
<line x1="344.07" y1="655.40" x2="344.07" y2="657.20" stroke="#000" stroke-width="0.9"/>
<line x1="347.36" y1="655.40" x2="347.36" y2="657.20" stroke="#000" stroke-width="0.9"/>
<line x1="350.05" y1="655.40" x2="350.05" y2="657.20" stroke="#000" stroke-width="0.9"/>
<line x1="352.32" y1="655.40" x2="352.32" y2="657.20" stroke="#000" stroke-width="0.9"/>
<line x1="354.29" y1="655.40" x2="354.29" y2="657.20" stroke="#000" stroke-width="0.9"/>
<line x1="356.02" y1="655.40" x2="356.02" y2="657.20" stroke="#000" stroke-width="0.9"/>
<line x1="357.57" y1="655.40" x2="357.57" y2="659.00" stroke="#000" stroke-width="1.1"/>
<line x1="367.79" y1="655.40" x2="367.79" y2="657.20" stroke="#000" stroke-width="0.9"/>
<line x1="373.76" y1="655.40" x2="373.76" y2="657.20" stroke="#000" stroke-width="0.9"/>
<line x1="378.00" y1="655.40" x2="378.00" y2="657.20" stroke="#000" stroke-width="0.9"/>
<line x1="381.29" y1="655.40" x2="381.29" y2="657.20" stroke="#000" stroke-width="0.9"/>
<line x1="383.97" y1="655.40" x2="383.97" y2="657.20" stroke="#000" stroke-width="0.9"/>
<line x1="386.24" y1="655.40" x2="386.24" y2="657.20" stroke="#000" stroke-width="0.9"/>
<line x1="388.21" y1="655.40" x2="388.21" y2="657.20" stroke="#000" stroke-width="0.9"/>
<line x1="389.95" y1="655.40" x2="389.95" y2="657.20" stroke="#000" stroke-width="0.9"/>
<line x1="391.50" y1="655.40" x2="391.50" y2="659.00" stroke="#000" stroke-width="1.1"/>
<text x="283.82" y="667.00" font-size="6.3" font-weight="normal" fill="#555" text-anchor="start" textLength="6.3" lengthAdjust="spacingAndGlyphs" >10</text>
<text x="290.43" y="664.00" font-size="4.284" font-weight="normal" fill="#555" text-anchor="start" textLength="2.6" lengthAdjust="spacingAndGlyphs" >0</text>
<text x="317.75" y="667.00" font-size="6.3" font-weight="normal" fill="#555" text-anchor="start" textLength="6.3" lengthAdjust="spacingAndGlyphs" >10</text>
<text x="324.35" y="664.00" font-size="4.284" font-weight="normal" fill="#555" text-anchor="start" textLength="2.6" lengthAdjust="spacingAndGlyphs" >1</text>
<text x="351.67" y="667.00" font-size="6.3" font-weight="normal" fill="#555" text-anchor="start" textLength="6.3" lengthAdjust="spacingAndGlyphs" >10</text>
<text x="358.27" y="664.00" font-size="4.284" font-weight="normal" fill="#555" text-anchor="start" textLength="2.6" lengthAdjust="spacingAndGlyphs" >2</text>
<text x="385.60" y="667.00" font-size="6.3" font-weight="normal" fill="#555" text-anchor="start" textLength="6.3" lengthAdjust="spacingAndGlyphs" >10</text>
<text x="392.20" y="664.00" font-size="4.284" font-weight="normal" fill="#555" text-anchor="start" textLength="2.6" lengthAdjust="spacingAndGlyphs" >3</text>
<text x="347.30" y="551.70" font-size="14.2" font-weight="bold" fill="#000" text-anchor="start" textLength="38.2" lengthAdjust="spacingAndGlyphs" >44717</text>
<path d="M448.00,133.40 H590.70 V278.00" fill="none" stroke="#222" stroke-width="1.2"/>
<path d="M448.00,132.90 V278.00 H591.30" fill="none" stroke="#000" stroke-width="1.7"/>
<line x1="513.20" y1="277.40" x2="590.70" y2="277.40" stroke="#2a4ef4" stroke-width="1.8"/>
<path d="M450.30,277.50H450.60V277.41H451.20V277.16H451.80V276.76H452.40V276.23H453.00V273.86H453.60V272.68H454.20V276.94H454.80V274.48H455.40V271.99H456.00V270.06H456.60V266.16H457.20V266.15H457.80V263.27H458.40V260.67H459.00V255.64H459.60V251.59H460.20V239.35H460.80V229.31H461.40V222.98H462.00V213.89H462.60V209.61H463.20V197.28H463.80V192.47H464.40V191.41H465.00V190.38H465.60V190.01H466.20V162.31H466.80V149.98H467.40V149.43H468.00V143.47H468.60V141.86H469.20V143.30H469.80V144.43H470.40V140.80H471.00V140.80H471.60V149.30H472.20V172.25H472.80V186.64H473.40V197.27H474.00V214.08H474.60V219.37H475.20V222.28H475.80V228.83H476.40V231.15H477.00V234.28H477.60V242.32H478.20V250.01H478.80V258.04H479.40V260.10H480.00V266.48H480.60V269.87H481.20V271.02H481.80V274.85H482.40V274.32H483.00V274.92H483.60V276.89H484.20V277.41H484.50" fill="none" stroke="#000000" stroke-width="2.2" stroke-linejoin="round"/>
<path d="M455.50,277.50H455.80V277.43H456.40V277.22H457.00V276.92H457.60V276.54H458.20V276.04H458.80V274.87H459.40V273.23H460.00V275.14H460.60V272.90H461.20V270.65H461.80V270.13H462.40V268.21H463.00V265.66H463.60V263.19H464.20V261.13H464.80V261.83H465.40V258.51H466.00V256.46H466.60V248.42H467.20V250.12H467.80V243.01H468.40V236.87H469.00V232.12H469.60V232.10H470.20V228.03H470.80V216.74H471.40V200.78H472.00V189.39H472.60V196.67H473.20V194.89H473.80V193.91H474.40V193.04H475.00V198.07H475.60V190.33H476.20V192.19H476.80V195.36H477.40V198.04H478.00V197.68H478.60V197.29H479.20V197.95H479.80V196.05H480.40V197.00H481.00V195.25H481.60V204.57H482.20V193.10H482.80V198.03H483.40V197.31H484.00V193.41H484.60V195.91H485.20V191.15H485.80V192.63H486.40V183.27H487.00V178.15H487.60V175.84H488.20V170.00H488.80V170.00H489.40V169.94H490.00V169.26H490.60V160.83H491.20V164.17H491.80V159.11H492.40V155.83H493.00V147.15H493.60V157.15H494.20V143.51H494.80V140.80H495.40V147.49H496.00V150.03H496.60V150.69H497.20V163.74H497.80V163.22H498.40V171.45H499.00V166.21H499.60V174.80H500.20V178.05H500.80V178.57H501.40V185.62H502.00V197.44H502.60V215.84H503.20V219.09H503.80V230.00H504.40V231.90H505.00V243.40H505.60V244.61H506.20V253.55H506.80V253.57H507.40V258.22H508.00V264.93H508.60V268.13H509.20V270.07H509.80V271.54H510.40V274.42H511.00V274.93H511.60V276.40H512.20V277.16H512.80V277.49H513.10" fill="none" stroke="#2a4ef4" stroke-width="2.1" stroke-linejoin="round"/>
<path d="M454.90,277.50H455.20V277.47H455.80V277.39H456.40V277.27H457.00V277.11H457.60V276.91H458.20V276.42H458.80V274.73H459.40V274.70H460.00V272.87H460.60V273.67H461.20V269.28H461.80V269.18H462.40V264.69H463.00V266.18H463.60V262.73H464.20V259.31H464.80V259.18H465.40V252.66H466.00V252.84H466.60V252.75H467.20V242.12H467.80V242.18H468.40V234.71H469.00V234.05H469.60V234.66H470.20V230.15H470.80V228.94H471.40V220.71H472.00V219.84H472.60V217.97H473.20V213.06H473.80V204.40H474.40V196.75H475.00V198.15H475.60V196.27H476.20V189.77H476.80V180.84H477.40V181.69H478.00V176.53H478.60V179.53H479.20V181.81H479.80V182.28H480.40V179.41H481.00V179.64H481.60V179.25H482.20V184.23H482.80V183.87H483.40V172.19H484.00V173.62H484.60V170.57H485.20V167.53H485.80V167.73H486.40V155.47H487.00V161.31H487.60V161.79H488.20V144.19H488.80V140.80H489.40V145.57H490.00V140.80H490.60V140.80H491.20V144.68H491.80V144.79H492.40V149.92H493.00V156.09H493.60V157.06H494.20V157.52H494.80V159.96H495.40V165.25H496.00V165.18H496.60V163.15H497.20V178.98H497.80V187.65H498.40V196.01H499.00V200.86H499.60V202.71H500.20V203.09H500.80V202.09H501.40V214.00H502.00V224.73H502.60V230.74H503.20V234.13H503.80V238.03H504.40V243.78H505.00V246.67H505.60V252.15H506.20V255.05H506.80V259.22H507.40V264.84H508.00V268.94H508.60V270.78H509.20V273.91H509.80V273.87H510.40V275.86H511.00V276.70H511.60V277.32H511.90" fill="none" stroke="#f03a26" stroke-width="2.1" stroke-linejoin="round"/>
<line x1="449.00" y1="277.40" x2="455.20" y2="277.40" stroke="#f03a26" stroke-width="1.9"/>
<line x1="512.10" y1="277.40" x2="590.70" y2="277.40" stroke="#f03a26" stroke-width="1.9"/>
<line x1="444.20" y1="278.00" x2="448.00" y2="278.00" stroke="#000" stroke-width="1.1"/>
<text x="441.60" y="280.30" font-size="6.6" font-weight="normal" fill="#555" text-anchor="end" textLength="3.6" lengthAdjust="spacingAndGlyphs" >0</text>
<line x1="445.80" y1="271.11" x2="448.00" y2="271.11" stroke="#000" stroke-width="1.0"/>
<line x1="445.80" y1="264.22" x2="448.00" y2="264.22" stroke="#000" stroke-width="1.0"/>
<line x1="445.80" y1="257.33" x2="448.00" y2="257.33" stroke="#000" stroke-width="1.0"/>
<line x1="444.20" y1="250.44" x2="448.00" y2="250.44" stroke="#000" stroke-width="1.1"/>
<text x="441.60" y="252.74" font-size="6.6" font-weight="normal" fill="#555" text-anchor="end" textLength="7.2" lengthAdjust="spacingAndGlyphs" >20</text>
<line x1="445.80" y1="243.55" x2="448.00" y2="243.55" stroke="#000" stroke-width="1.0"/>
<line x1="445.80" y1="236.66" x2="448.00" y2="236.66" stroke="#000" stroke-width="1.0"/>
<line x1="445.80" y1="229.77" x2="448.00" y2="229.77" stroke="#000" stroke-width="1.0"/>
<line x1="444.20" y1="222.88" x2="448.00" y2="222.88" stroke="#000" stroke-width="1.1"/>
<text x="441.60" y="225.18" font-size="6.6" font-weight="normal" fill="#555" text-anchor="end" textLength="7.2" lengthAdjust="spacingAndGlyphs" >40</text>
<line x1="445.80" y1="215.99" x2="448.00" y2="215.99" stroke="#000" stroke-width="1.0"/>
<line x1="445.80" y1="209.10" x2="448.00" y2="209.10" stroke="#000" stroke-width="1.0"/>
<line x1="445.80" y1="202.21" x2="448.00" y2="202.21" stroke="#000" stroke-width="1.0"/>
<line x1="444.20" y1="195.32" x2="448.00" y2="195.32" stroke="#000" stroke-width="1.1"/>
<text x="441.60" y="197.62" font-size="6.6" font-weight="normal" fill="#555" text-anchor="end" textLength="7.2" lengthAdjust="spacingAndGlyphs" >60</text>
<line x1="445.80" y1="188.43" x2="448.00" y2="188.43" stroke="#000" stroke-width="1.0"/>
<line x1="445.80" y1="181.54" x2="448.00" y2="181.54" stroke="#000" stroke-width="1.0"/>
<line x1="445.80" y1="174.65" x2="448.00" y2="174.65" stroke="#000" stroke-width="1.0"/>
<line x1="444.20" y1="167.76" x2="448.00" y2="167.76" stroke="#000" stroke-width="1.1"/>
<text x="441.60" y="170.06" font-size="6.6" font-weight="normal" fill="#555" text-anchor="end" textLength="7.2" lengthAdjust="spacingAndGlyphs" >80</text>
<line x1="445.80" y1="160.87" x2="448.00" y2="160.87" stroke="#000" stroke-width="1.0"/>
<line x1="445.80" y1="153.98" x2="448.00" y2="153.98" stroke="#000" stroke-width="1.0"/>
<line x1="445.80" y1="147.09" x2="448.00" y2="147.09" stroke="#000" stroke-width="1.0"/>
<line x1="444.20" y1="140.20" x2="448.00" y2="140.20" stroke="#000" stroke-width="1.1"/>
<text x="441.60" y="142.50" font-size="6.6" font-weight="normal" fill="#555" text-anchor="end" textLength="10.9" lengthAdjust="spacingAndGlyphs" >100</text>
<line x1="448.71" y1="278.00" x2="448.71" y2="282.20" stroke="#000" stroke-width="1.3"/>
<line x1="462.27" y1="278.00" x2="462.27" y2="282.20" stroke="#000" stroke-width="1.3"/>
<line x1="479.25" y1="278.00" x2="479.25" y2="282.20" stroke="#000" stroke-width="1.3"/>
<line x1="512.50" y1="278.00" x2="512.50" y2="282.20" stroke="#000" stroke-width="1.3"/>
<line x1="545.75" y1="278.00" x2="545.75" y2="282.20" stroke="#000" stroke-width="1.3"/>
<line x1="578.57" y1="278.00" x2="578.57" y2="282.20" stroke="#000" stroke-width="1.3"/>
<line x1="590.70" y1="278.00" x2="590.70" y2="282.20" stroke="#000" stroke-width="1.3"/>
<line x1="461.27" y1="278.00" x2="461.27" y2="282.20" stroke="#000" stroke-width="1.3"/>
<line x1="489.22" y1="278.00" x2="489.22" y2="280.20" stroke="#000" stroke-width="1.0"/>
<line x1="495.05" y1="278.00" x2="495.05" y2="280.20" stroke="#000" stroke-width="1.0"/>
<line x1="499.18" y1="278.00" x2="499.18" y2="280.20" stroke="#000" stroke-width="1.0"/>
<line x1="502.39" y1="278.00" x2="502.39" y2="280.20" stroke="#000" stroke-width="1.0"/>
<line x1="505.01" y1="278.00" x2="505.01" y2="280.20" stroke="#000" stroke-width="1.0"/>
<line x1="507.23" y1="278.00" x2="507.23" y2="280.20" stroke="#000" stroke-width="1.0"/>
<line x1="509.15" y1="278.00" x2="509.15" y2="280.20" stroke="#000" stroke-width="1.0"/>
<line x1="510.84" y1="278.00" x2="510.84" y2="280.20" stroke="#000" stroke-width="1.0"/>
<line x1="522.47" y1="278.00" x2="522.47" y2="280.20" stroke="#000" stroke-width="1.0"/>
<line x1="528.30" y1="278.00" x2="528.30" y2="280.20" stroke="#000" stroke-width="1.0"/>
<line x1="532.43" y1="278.00" x2="532.43" y2="280.20" stroke="#000" stroke-width="1.0"/>
<line x1="535.64" y1="278.00" x2="535.64" y2="280.20" stroke="#000" stroke-width="1.0"/>
<line x1="538.26" y1="278.00" x2="538.26" y2="280.20" stroke="#000" stroke-width="1.0"/>
<line x1="540.48" y1="278.00" x2="540.48" y2="280.20" stroke="#000" stroke-width="1.0"/>
<line x1="542.40" y1="278.00" x2="542.40" y2="280.20" stroke="#000" stroke-width="1.0"/>
<line x1="544.09" y1="278.00" x2="544.09" y2="280.20" stroke="#000" stroke-width="1.0"/>
<line x1="555.72" y1="278.00" x2="555.72" y2="280.20" stroke="#000" stroke-width="1.0"/>
<line x1="561.55" y1="278.00" x2="561.55" y2="280.20" stroke="#000" stroke-width="1.0"/>
<line x1="565.68" y1="278.00" x2="565.68" y2="280.20" stroke="#000" stroke-width="1.0"/>
<line x1="568.89" y1="278.00" x2="568.89" y2="280.20" stroke="#000" stroke-width="1.0"/>
<line x1="571.51" y1="278.00" x2="571.51" y2="280.20" stroke="#000" stroke-width="1.0"/>
<line x1="573.73" y1="278.00" x2="573.73" y2="280.20" stroke="#000" stroke-width="1.0"/>
<line x1="575.65" y1="278.00" x2="575.65" y2="280.20" stroke="#000" stroke-width="1.0"/>
<line x1="577.34" y1="278.00" x2="577.34" y2="280.20" stroke="#000" stroke-width="1.0"/>
<line x1="588.54" y1="278.00" x2="588.54" y2="280.20" stroke="#000" stroke-width="1.0"/>
<line x1="454.42" y1="278.00" x2="454.42" y2="280.20" stroke="#000" stroke-width="1.0"/>
<line x1="457.99" y1="278.00" x2="457.99" y2="280.20" stroke="#000" stroke-width="1.0"/>
<line x1="466.55" y1="278.00" x2="466.55" y2="280.20" stroke="#000" stroke-width="1.0"/>
<line x1="470.83" y1="278.00" x2="470.83" y2="280.20" stroke="#000" stroke-width="1.0"/>
<line x1="475.11" y1="278.00" x2="475.11" y2="280.20" stroke="#000" stroke-width="1.0"/>
<text x="462.27" y="291.40" font-size="7.3" font-weight="normal" fill="#555" text-anchor="middle" >0</text>
<text x="470.48" y="291.40" font-size="7.3" font-weight="normal" fill="#555" text-anchor="start" textLength="7.4" lengthAdjust="spacingAndGlyphs" >10</text>
<text x="478.18" y="288.40" font-size="4.964" font-weight="normal" fill="#555" text-anchor="start" textLength="3.0" lengthAdjust="spacingAndGlyphs" >2</text>
<text x="506.29" y="291.40" font-size="7.3" font-weight="normal" fill="#555" text-anchor="start" textLength="7.4" lengthAdjust="spacingAndGlyphs" >10</text>
<text x="513.99" y="288.40" font-size="4.964" font-weight="normal" fill="#555" text-anchor="start" textLength="3.0" lengthAdjust="spacingAndGlyphs" >3</text>
<text x="538.12" y="291.40" font-size="7.3" font-weight="normal" fill="#555" text-anchor="start" textLength="7.4" lengthAdjust="spacingAndGlyphs" >10</text>
<text x="545.82" y="288.40" font-size="4.964" font-weight="normal" fill="#555" text-anchor="start" textLength="3.0" lengthAdjust="spacingAndGlyphs" >4</text>
<text x="571.94" y="291.40" font-size="7.3" font-weight="normal" fill="#555" text-anchor="start" textLength="7.4" lengthAdjust="spacingAndGlyphs" >10</text>
<text x="579.64" y="288.40" font-size="4.964" font-weight="normal" fill="#555" text-anchor="start" textLength="3.0" lengthAdjust="spacingAndGlyphs" >5</text>
<path d="M635.00,133.70 H775.90 V278.20" fill="none" stroke="#222" stroke-width="1.2"/>
<path d="M635.00,133.20 V278.20 H776.50" fill="none" stroke="#000" stroke-width="1.7"/>
<line x1="701.00" y1="277.60" x2="775.90" y2="277.60" stroke="#2a4ef4" stroke-width="1.8"/>
<path d="M637.40,277.70H637.70V277.63H638.30V277.44H638.90V277.14H639.50V276.73H640.10V274.73H640.70V272.63H641.30V274.77H641.90V274.51H642.50V271.38H643.10V271.04H643.70V270.09H644.30V265.32H644.90V262.42H645.50V255.67H646.10V254.11H646.70V251.50H647.30V247.28H647.90V243.25H648.50V232.11H649.10V220.14H649.70V212.36H650.30V203.43H650.90V200.41H651.50V194.92H652.10V191.21H652.70V191.20H653.30V163.59H653.90V146.61H654.50V151.34H655.10V148.78H655.70V150.99H656.30V141.82H656.90V141.00H657.50V144.31H658.10V150.06H658.70V143.42H659.30V162.48H659.90V169.54H660.50V172.01H661.10V187.29H661.70V196.02H662.30V211.27H662.90V215.34H663.50V226.40H664.10V241.15H664.70V254.74H665.30V257.28H665.90V260.93H666.50V267.38H667.10V268.89H667.70V269.03H668.30V274.64H668.90V272.98H669.50V276.18H670.10V276.57H670.70V277.23H671.30V277.62H671.60" fill="none" stroke="#000000" stroke-width="2.2" stroke-linejoin="round"/>
<path d="M642.50,277.70H642.80V277.26H643.40V276.70H644.00V275.22H644.60V274.76H645.20V275.39H645.80V273.77H646.40V272.47H647.00V273.44H647.60V271.09H648.20V267.55H648.80V267.46H649.40V265.24H650.00V261.62H650.60V256.79H651.20V257.86H651.80V255.25H652.40V251.42H653.00V245.13H653.60V240.74H654.20V235.45H654.80V233.84H655.40V229.59H656.00V226.51H656.60V221.93H657.20V216.17H657.80V209.23H658.40V191.04H659.00V187.77H659.60V186.10H660.20V185.79H660.80V181.51H661.40V171.74H662.00V160.43H662.60V167.22H663.20V167.67H663.80V176.64H664.40V162.95H665.00V172.95H665.60V178.63H666.20V171.60H666.80V170.99H667.40V168.89H668.00V166.84H668.60V155.25H669.20V162.77H669.80V173.08H670.40V169.39H671.00V168.46H671.60V158.27H672.20V163.77H672.80V172.02H673.40V173.95H674.00V169.02H674.60V170.58H675.20V168.08H675.80V153.04H676.40V149.91H677.00V148.11H677.60V148.30H678.20V144.71H678.80V151.09H679.40V142.66H680.00V148.59H680.60V145.00H681.20V142.66H681.80V142.66H682.40V142.66H683.00V150.25H683.60V149.15H684.20V159.53H684.80V165.34H685.40V170.44H686.00V174.56H686.60V182.52H687.20V189.35H687.80V194.75H688.40V202.97H689.00V206.13H689.60V214.57H690.20V228.53H690.80V243.43H691.40V243.38H692.00V251.06H692.60V260.23H693.20V258.11H693.80V260.82H694.40V261.51H695.00V263.47H695.60V268.52H696.20V268.12H696.80V269.57H697.40V271.30H698.00V276.89H698.60V275.12H699.20V276.43H699.80V277.14H700.40V277.60H700.70" fill="none" stroke="#2a4ef4" stroke-width="2.1" stroke-linejoin="round"/>
<path d="M642.00,277.70H642.30V277.22H642.90V276.64H643.50V275.69H644.10V275.77H644.70V273.90H645.30V273.43H645.90V271.94H646.50V270.36H647.10V271.15H647.70V268.49H648.30V268.97H648.90V264.62H649.50V262.26H650.10V259.60H650.70V255.68H651.30V253.20H651.90V253.14H652.50V248.27H653.10V246.92H653.70V245.49H654.30V238.65H654.90V231.57H655.50V227.27H656.10V228.34H656.70V219.78H657.30V217.52H657.90V208.69H658.50V209.29H659.10V200.75H659.70V195.88H660.30V191.66H660.90V187.59H661.50V186.58H662.10V183.78H662.70V186.97H663.30V177.55H663.90V177.59H664.50V178.57H665.10V174.03H665.70V183.15H666.30V184.81H666.90V187.68H667.50V178.44H668.10V173.42H668.70V175.31H669.30V171.04H669.90V167.17H670.50V173.88H671.10V164.85H671.70V164.52H672.30V162.50H672.90V158.60H673.50V152.11H674.10V148.11H674.70V146.73H675.30V144.26H675.90V141.00H676.50V143.92H677.10V148.60H677.70V153.16H678.30V164.62H678.90V162.29H679.50V166.06H680.10V163.34H680.70V164.30H681.30V172.59H681.90V172.34H682.50V182.80H683.10V190.41H683.70V191.10H684.30V191.92H684.90V196.64H685.50V205.23H686.10V210.48H686.70V216.65H687.30V221.48H687.90V220.68H688.50V230.68H689.10V234.20H689.70V242.21H690.30V247.55H690.90V252.68H691.50V257.43H692.10V259.51H692.70V258.63H693.30V264.53H693.90V264.85H694.50V267.13H695.10V269.59H695.70V271.72H696.30V273.70H696.90V275.04H697.50V275.79H698.10V276.37H698.70V277.09H699.30V277.56H699.60" fill="none" stroke="#f03a26" stroke-width="2.1" stroke-linejoin="round"/>
<line x1="636.00" y1="277.60" x2="642.30" y2="277.60" stroke="#f03a26" stroke-width="1.9"/>
<line x1="699.80" y1="277.60" x2="775.90" y2="277.60" stroke="#f03a26" stroke-width="1.9"/>
<line x1="631.20" y1="278.20" x2="635.00" y2="278.20" stroke="#000" stroke-width="1.1"/>
<text x="628.60" y="280.50" font-size="6.6" font-weight="normal" fill="#555" text-anchor="end" textLength="3.6" lengthAdjust="spacingAndGlyphs" >0</text>
<line x1="632.80" y1="271.31" x2="635.00" y2="271.31" stroke="#000" stroke-width="1.0"/>
<line x1="632.80" y1="264.42" x2="635.00" y2="264.42" stroke="#000" stroke-width="1.0"/>
<line x1="632.80" y1="257.53" x2="635.00" y2="257.53" stroke="#000" stroke-width="1.0"/>
<line x1="631.20" y1="250.64" x2="635.00" y2="250.64" stroke="#000" stroke-width="1.1"/>
<text x="628.60" y="252.94" font-size="6.6" font-weight="normal" fill="#555" text-anchor="end" textLength="7.2" lengthAdjust="spacingAndGlyphs" >20</text>
<line x1="632.80" y1="243.75" x2="635.00" y2="243.75" stroke="#000" stroke-width="1.0"/>
<line x1="632.80" y1="236.86" x2="635.00" y2="236.86" stroke="#000" stroke-width="1.0"/>
<line x1="632.80" y1="229.97" x2="635.00" y2="229.97" stroke="#000" stroke-width="1.0"/>
<line x1="631.20" y1="223.08" x2="635.00" y2="223.08" stroke="#000" stroke-width="1.1"/>
<text x="628.60" y="225.38" font-size="6.6" font-weight="normal" fill="#555" text-anchor="end" textLength="7.2" lengthAdjust="spacingAndGlyphs" >40</text>
<line x1="632.80" y1="216.19" x2="635.00" y2="216.19" stroke="#000" stroke-width="1.0"/>
<line x1="632.80" y1="209.30" x2="635.00" y2="209.30" stroke="#000" stroke-width="1.0"/>
<line x1="632.80" y1="202.41" x2="635.00" y2="202.41" stroke="#000" stroke-width="1.0"/>
<line x1="631.20" y1="195.52" x2="635.00" y2="195.52" stroke="#000" stroke-width="1.1"/>
<text x="628.60" y="197.82" font-size="6.6" font-weight="normal" fill="#555" text-anchor="end" textLength="7.2" lengthAdjust="spacingAndGlyphs" >60</text>
<line x1="632.80" y1="188.63" x2="635.00" y2="188.63" stroke="#000" stroke-width="1.0"/>
<line x1="632.80" y1="181.74" x2="635.00" y2="181.74" stroke="#000" stroke-width="1.0"/>
<line x1="632.80" y1="174.85" x2="635.00" y2="174.85" stroke="#000" stroke-width="1.0"/>
<line x1="631.20" y1="167.96" x2="635.00" y2="167.96" stroke="#000" stroke-width="1.1"/>
<text x="628.60" y="170.26" font-size="6.6" font-weight="normal" fill="#555" text-anchor="end" textLength="7.2" lengthAdjust="spacingAndGlyphs" >80</text>
<line x1="632.80" y1="161.07" x2="635.00" y2="161.07" stroke="#000" stroke-width="1.0"/>
<line x1="632.80" y1="154.18" x2="635.00" y2="154.18" stroke="#000" stroke-width="1.0"/>
<line x1="632.80" y1="147.29" x2="635.00" y2="147.29" stroke="#000" stroke-width="1.0"/>
<line x1="631.20" y1="140.40" x2="635.00" y2="140.40" stroke="#000" stroke-width="1.1"/>
<text x="628.60" y="142.70" font-size="6.6" font-weight="normal" fill="#555" text-anchor="end" textLength="10.9" lengthAdjust="spacingAndGlyphs" >100</text>
<line x1="635.70" y1="278.20" x2="635.70" y2="282.40" stroke="#000" stroke-width="1.3"/>
<line x1="649.09" y1="278.20" x2="649.09" y2="282.40" stroke="#000" stroke-width="1.3"/>
<line x1="665.86" y1="278.20" x2="665.86" y2="282.40" stroke="#000" stroke-width="1.3"/>
<line x1="698.69" y1="278.20" x2="698.69" y2="282.40" stroke="#000" stroke-width="1.3"/>
<line x1="731.52" y1="278.20" x2="731.52" y2="282.40" stroke="#000" stroke-width="1.3"/>
<line x1="763.92" y1="278.20" x2="763.92" y2="282.40" stroke="#000" stroke-width="1.3"/>
<line x1="775.90" y1="278.20" x2="775.90" y2="282.40" stroke="#000" stroke-width="1.3"/>
<line x1="648.09" y1="278.20" x2="648.09" y2="282.40" stroke="#000" stroke-width="1.3"/>
<line x1="675.70" y1="278.20" x2="675.70" y2="280.40" stroke="#000" stroke-width="1.0"/>
<line x1="681.45" y1="278.20" x2="681.45" y2="280.40" stroke="#000" stroke-width="1.0"/>
<line x1="685.54" y1="278.20" x2="685.54" y2="280.40" stroke="#000" stroke-width="1.0"/>
<line x1="688.71" y1="278.20" x2="688.71" y2="280.40" stroke="#000" stroke-width="1.0"/>
<line x1="691.29" y1="278.20" x2="691.29" y2="280.40" stroke="#000" stroke-width="1.0"/>
<line x1="693.48" y1="278.20" x2="693.48" y2="280.40" stroke="#000" stroke-width="1.0"/>
<line x1="695.38" y1="278.20" x2="695.38" y2="280.40" stroke="#000" stroke-width="1.0"/>
<line x1="697.05" y1="278.20" x2="697.05" y2="280.40" stroke="#000" stroke-width="1.0"/>
<line x1="708.53" y1="278.20" x2="708.53" y2="280.40" stroke="#000" stroke-width="1.0"/>
<line x1="714.28" y1="278.20" x2="714.28" y2="280.40" stroke="#000" stroke-width="1.0"/>
<line x1="718.37" y1="278.20" x2="718.37" y2="280.40" stroke="#000" stroke-width="1.0"/>
<line x1="721.54" y1="278.20" x2="721.54" y2="280.40" stroke="#000" stroke-width="1.0"/>
<line x1="724.12" y1="278.20" x2="724.12" y2="280.40" stroke="#000" stroke-width="1.0"/>
<line x1="726.31" y1="278.20" x2="726.31" y2="280.40" stroke="#000" stroke-width="1.0"/>
<line x1="728.21" y1="278.20" x2="728.21" y2="280.40" stroke="#000" stroke-width="1.0"/>
<line x1="729.88" y1="278.20" x2="729.88" y2="280.40" stroke="#000" stroke-width="1.0"/>
<line x1="741.36" y1="278.20" x2="741.36" y2="280.40" stroke="#000" stroke-width="1.0"/>
<line x1="747.11" y1="278.20" x2="747.11" y2="280.40" stroke="#000" stroke-width="1.0"/>
<line x1="751.20" y1="278.20" x2="751.20" y2="280.40" stroke="#000" stroke-width="1.0"/>
<line x1="754.36" y1="278.20" x2="754.36" y2="280.40" stroke="#000" stroke-width="1.0"/>
<line x1="756.95" y1="278.20" x2="756.95" y2="280.40" stroke="#000" stroke-width="1.0"/>
<line x1="759.14" y1="278.20" x2="759.14" y2="280.40" stroke="#000" stroke-width="1.0"/>
<line x1="761.04" y1="278.20" x2="761.04" y2="280.40" stroke="#000" stroke-width="1.0"/>
<line x1="762.71" y1="278.20" x2="762.71" y2="280.40" stroke="#000" stroke-width="1.0"/>
<line x1="773.76" y1="278.20" x2="773.76" y2="280.40" stroke="#000" stroke-width="1.0"/>
<line x1="641.34" y1="278.20" x2="641.34" y2="280.40" stroke="#000" stroke-width="1.0"/>
<line x1="644.86" y1="278.20" x2="644.86" y2="280.40" stroke="#000" stroke-width="1.0"/>
<line x1="653.32" y1="278.20" x2="653.32" y2="280.40" stroke="#000" stroke-width="1.0"/>
<line x1="657.54" y1="278.20" x2="657.54" y2="280.40" stroke="#000" stroke-width="1.0"/>
<line x1="661.77" y1="278.20" x2="661.77" y2="280.40" stroke="#000" stroke-width="1.0"/>
<text x="649.09" y="291.60" font-size="7.3" font-weight="normal" fill="#555" text-anchor="middle" >0</text>
<text x="657.13" y="291.60" font-size="7.3" font-weight="normal" fill="#555" text-anchor="start" textLength="7.4" lengthAdjust="spacingAndGlyphs" >10</text>
<text x="664.83" y="288.60" font-size="4.964" font-weight="normal" fill="#555" text-anchor="start" textLength="3.0" lengthAdjust="spacingAndGlyphs" >2</text>
<text x="692.49" y="291.60" font-size="7.3" font-weight="normal" fill="#555" text-anchor="start" textLength="7.4" lengthAdjust="spacingAndGlyphs" >10</text>
<text x="700.19" y="288.60" font-size="4.964" font-weight="normal" fill="#555" text-anchor="start" textLength="3.0" lengthAdjust="spacingAndGlyphs" >3</text>
<text x="723.91" y="291.60" font-size="7.3" font-weight="normal" fill="#555" text-anchor="start" textLength="7.4" lengthAdjust="spacingAndGlyphs" >10</text>
<text x="731.61" y="288.60" font-size="4.964" font-weight="normal" fill="#555" text-anchor="start" textLength="3.0" lengthAdjust="spacingAndGlyphs" >4</text>
<text x="757.31" y="291.60" font-size="7.3" font-weight="normal" fill="#555" text-anchor="start" textLength="7.4" lengthAdjust="spacingAndGlyphs" >10</text>
<text x="765.01" y="288.60" font-size="4.964" font-weight="normal" fill="#555" text-anchor="start" textLength="3.0" lengthAdjust="spacingAndGlyphs" >5</text>
<path d="M451.40,303.60 H592.20 V448.00" fill="none" stroke="#222" stroke-width="1.2"/>
<path d="M451.40,303.10 V448.00 H592.80" fill="none" stroke="#000" stroke-width="1.7"/>
<line x1="517.00" y1="447.40" x2="592.20" y2="447.40" stroke="#2a4ef4" stroke-width="1.8"/>
<path d="M454.30,447.50H454.60V447.36H455.20V447.01H455.80V446.48H456.40V445.86H457.00V446.40H457.60V445.33H458.20V443.26H458.80V443.07H459.40V440.07H460.00V439.14H460.60V435.31H461.20V429.53H461.80V426.62H462.40V424.95H463.00V418.16H463.60V415.30H464.20V410.03H464.80V407.92H465.40V396.84H466.00V380.15H466.60V375.93H467.20V367.99H467.80V366.78H468.40V365.90H469.00V361.71H469.60V347.94H470.20V323.35H470.80V320.38H471.40V324.37H472.00V316.43H472.60V314.25H473.20V315.33H473.80V317.32H474.40V327.87H475.00V313.37H475.60V325.73H476.20V332.69H476.80V330.73H477.40V353.85H478.00V369.97H478.60V386.31H479.20V395.87H479.80V404.98H480.40V413.34H481.00V419.77H481.60V420.20H482.20V424.74H482.80V433.47H483.40V440.18H484.00V440.29H484.60V442.67H485.20V443.95H485.80V444.36H486.40V445.52H487.00V446.55H487.60V447.13H488.20V447.46H488.50" fill="none" stroke="#000000" stroke-width="2.2" stroke-linejoin="round"/>
<path d="M459.50,447.50H459.80V446.68H460.40V445.23H461.00V444.12H461.60V442.91H462.20V441.69H462.80V441.05H463.40V439.89H464.00V436.35H464.60V435.59H465.20V428.59H465.80V430.69H466.40V427.29H467.00V423.60H467.60V421.45H468.20V420.98H468.80V410.55H469.40V412.05H470.00V412.49H470.60V403.97H471.20V395.78H471.80V394.22H472.40V393.66H473.00V383.23H473.60V378.72H474.20V378.15H474.80V377.83H475.40V370.30H476.00V366.76H476.60V374.70H477.20V371.03H477.80V354.14H478.40V355.23H479.00V353.71H479.60V366.73H480.20V362.57H480.80V370.40H481.40V373.45H482.00V368.01H482.60V364.31H483.20V365.65H483.80V371.59H484.40V362.82H485.00V364.04H485.60V363.73H486.20V352.93H486.80V357.33H487.40V352.65H488.00V346.84H488.60V354.41H489.20V346.25H489.80V343.52H490.40V344.01H491.00V349.67H491.60V346.39H492.20V342.72H492.80V335.17H493.40V332.97H494.00V331.60H494.60V330.35H495.20V332.09H495.80V330.04H496.40V325.56H497.00V327.49H497.60V319.93H498.20V315.56H498.80V310.80H499.40V323.10H500.00V325.63H500.60V333.13H501.20V333.70H501.80V339.31H502.40V349.75H503.00V359.86H503.60V369.62H504.20V367.42H504.80V377.82H505.40V388.63H506.00V401.08H506.60V399.91H507.20V406.61H507.80V412.76H508.40V415.44H509.00V421.41H509.60V427.67H510.20V428.90H510.80V431.37H511.40V433.62H512.00V434.95H512.60V438.94H513.20V441.18H513.80V443.30H514.40V444.15H515.00V444.99H515.60V446.71H516.20V447.30H516.50" fill="none" stroke="#2a4ef4" stroke-width="2.1" stroke-linejoin="round"/>
<path d="M458.90,447.50H459.20V446.70H459.80V445.10H460.40V444.38H461.00V444.29H461.60V442.09H462.20V439.08H462.80V438.99H463.40V437.79H464.00V434.32H464.60V431.17H465.20V431.03H465.80V430.68H466.40V425.76H467.00V423.09H467.60V418.08H468.20V417.71H468.80V408.42H469.40V410.09H470.00V403.35H470.60V402.12H471.20V393.89H471.80V394.21H472.40V386.75H473.00V385.75H473.60V377.32H474.20V370.32H474.80V363.80H475.40V361.73H476.00V346.12H476.60V348.01H477.20V347.89H477.80V338.31H478.40V334.93H479.00V337.23H479.60V334.95H480.20V334.40H480.80V337.80H481.40V336.46H482.00V337.93H482.60V336.75H483.20V341.22H483.80V348.63H484.40V333.68H485.00V334.52H485.60V331.49H486.20V340.20H486.80V337.18H487.40V330.84H488.00V330.54H488.60V329.37H489.20V323.95H489.80V322.04H490.40V328.16H491.00V327.73H491.60V330.91H492.20V319.39H492.80V310.80H493.40V315.95H494.00V317.48H494.60V322.60H495.20V326.29H495.80V318.24H496.40V311.08H497.00V319.65H497.60V339.82H498.20V338.99H498.80V339.17H499.40V344.34H500.00V332.28H500.60V341.62H501.20V344.98H501.80V362.78H502.40V373.69H503.00V377.43H503.60V381.97H504.20V386.38H504.80V400.30H505.40V403.44H506.00V408.02H506.60V411.65H507.20V414.80H507.80V421.57H508.40V426.83H509.00V430.67H509.60V433.64H510.20V435.74H510.80V439.16H511.40V438.75H512.00V441.67H512.60V442.83H513.20V444.98H513.80V445.43H514.40V446.80H515.00V447.33H515.30" fill="none" stroke="#f03a26" stroke-width="2.1" stroke-linejoin="round"/>
<line x1="452.40" y1="447.40" x2="459.20" y2="447.40" stroke="#f03a26" stroke-width="1.9"/>
<line x1="515.50" y1="447.40" x2="592.20" y2="447.40" stroke="#f03a26" stroke-width="1.9"/>
<line x1="447.60" y1="448.00" x2="451.40" y2="448.00" stroke="#000" stroke-width="1.1"/>
<text x="445.00" y="450.30" font-size="6.6" font-weight="normal" fill="#555" text-anchor="end" textLength="3.6" lengthAdjust="spacingAndGlyphs" >0</text>
<line x1="449.20" y1="441.11" x2="451.40" y2="441.11" stroke="#000" stroke-width="1.0"/>
<line x1="449.20" y1="434.22" x2="451.40" y2="434.22" stroke="#000" stroke-width="1.0"/>
<line x1="449.20" y1="427.33" x2="451.40" y2="427.33" stroke="#000" stroke-width="1.0"/>
<line x1="447.60" y1="420.44" x2="451.40" y2="420.44" stroke="#000" stroke-width="1.1"/>
<text x="445.00" y="422.74" font-size="6.6" font-weight="normal" fill="#555" text-anchor="end" textLength="7.2" lengthAdjust="spacingAndGlyphs" >20</text>
<line x1="449.20" y1="413.55" x2="451.40" y2="413.55" stroke="#000" stroke-width="1.0"/>
<line x1="449.20" y1="406.66" x2="451.40" y2="406.66" stroke="#000" stroke-width="1.0"/>
<line x1="449.20" y1="399.77" x2="451.40" y2="399.77" stroke="#000" stroke-width="1.0"/>
<line x1="447.60" y1="392.88" x2="451.40" y2="392.88" stroke="#000" stroke-width="1.1"/>
<text x="445.00" y="395.18" font-size="6.6" font-weight="normal" fill="#555" text-anchor="end" textLength="7.2" lengthAdjust="spacingAndGlyphs" >40</text>
<line x1="449.20" y1="385.99" x2="451.40" y2="385.99" stroke="#000" stroke-width="1.0"/>
<line x1="449.20" y1="379.10" x2="451.40" y2="379.10" stroke="#000" stroke-width="1.0"/>
<line x1="449.20" y1="372.21" x2="451.40" y2="372.21" stroke="#000" stroke-width="1.0"/>
<line x1="447.60" y1="365.32" x2="451.40" y2="365.32" stroke="#000" stroke-width="1.1"/>
<text x="445.00" y="367.62" font-size="6.6" font-weight="normal" fill="#555" text-anchor="end" textLength="7.2" lengthAdjust="spacingAndGlyphs" >60</text>
<line x1="449.20" y1="358.43" x2="451.40" y2="358.43" stroke="#000" stroke-width="1.0"/>
<line x1="449.20" y1="351.54" x2="451.40" y2="351.54" stroke="#000" stroke-width="1.0"/>
<line x1="449.20" y1="344.65" x2="451.40" y2="344.65" stroke="#000" stroke-width="1.0"/>
<line x1="447.60" y1="337.76" x2="451.40" y2="337.76" stroke="#000" stroke-width="1.1"/>
<text x="445.00" y="340.06" font-size="6.6" font-weight="normal" fill="#555" text-anchor="end" textLength="7.2" lengthAdjust="spacingAndGlyphs" >80</text>
<line x1="449.20" y1="330.87" x2="451.40" y2="330.87" stroke="#000" stroke-width="1.0"/>
<line x1="449.20" y1="323.98" x2="451.40" y2="323.98" stroke="#000" stroke-width="1.0"/>
<line x1="449.20" y1="317.09" x2="451.40" y2="317.09" stroke="#000" stroke-width="1.0"/>
<line x1="447.60" y1="310.20" x2="451.40" y2="310.20" stroke="#000" stroke-width="1.1"/>
<text x="445.00" y="312.50" font-size="6.6" font-weight="normal" fill="#555" text-anchor="end" textLength="10.9" lengthAdjust="spacingAndGlyphs" >100</text>
<line x1="452.10" y1="448.00" x2="452.10" y2="452.20" stroke="#000" stroke-width="1.3"/>
<line x1="465.48" y1="448.00" x2="465.48" y2="452.20" stroke="#000" stroke-width="1.3"/>
<line x1="482.24" y1="448.00" x2="482.24" y2="452.20" stroke="#000" stroke-width="1.3"/>
<line x1="515.04" y1="448.00" x2="515.04" y2="452.20" stroke="#000" stroke-width="1.3"/>
<line x1="547.85" y1="448.00" x2="547.85" y2="452.20" stroke="#000" stroke-width="1.3"/>
<line x1="580.23" y1="448.00" x2="580.23" y2="452.20" stroke="#000" stroke-width="1.3"/>
<line x1="592.20" y1="448.00" x2="592.20" y2="452.20" stroke="#000" stroke-width="1.3"/>
<line x1="464.48" y1="448.00" x2="464.48" y2="452.20" stroke="#000" stroke-width="1.3"/>
<line x1="492.07" y1="448.00" x2="492.07" y2="450.20" stroke="#000" stroke-width="1.0"/>
<line x1="497.82" y1="448.00" x2="497.82" y2="450.20" stroke="#000" stroke-width="1.0"/>
<line x1="501.90" y1="448.00" x2="501.90" y2="450.20" stroke="#000" stroke-width="1.0"/>
<line x1="505.07" y1="448.00" x2="505.07" y2="450.20" stroke="#000" stroke-width="1.0"/>
<line x1="507.65" y1="448.00" x2="507.65" y2="450.20" stroke="#000" stroke-width="1.0"/>
<line x1="509.84" y1="448.00" x2="509.84" y2="450.20" stroke="#000" stroke-width="1.0"/>
<line x1="511.74" y1="448.00" x2="511.74" y2="450.20" stroke="#000" stroke-width="1.0"/>
<line x1="513.41" y1="448.00" x2="513.41" y2="450.20" stroke="#000" stroke-width="1.0"/>
<line x1="524.87" y1="448.00" x2="524.87" y2="450.20" stroke="#000" stroke-width="1.0"/>
<line x1="530.63" y1="448.00" x2="530.63" y2="450.20" stroke="#000" stroke-width="1.0"/>
<line x1="534.71" y1="448.00" x2="534.71" y2="450.20" stroke="#000" stroke-width="1.0"/>
<line x1="537.87" y1="448.00" x2="537.87" y2="450.20" stroke="#000" stroke-width="1.0"/>
<line x1="540.46" y1="448.00" x2="540.46" y2="450.20" stroke="#000" stroke-width="1.0"/>
<line x1="542.65" y1="448.00" x2="542.65" y2="450.20" stroke="#000" stroke-width="1.0"/>
<line x1="544.54" y1="448.00" x2="544.54" y2="450.20" stroke="#000" stroke-width="1.0"/>
<line x1="546.21" y1="448.00" x2="546.21" y2="450.20" stroke="#000" stroke-width="1.0"/>
<line x1="557.68" y1="448.00" x2="557.68" y2="450.20" stroke="#000" stroke-width="1.0"/>
<line x1="563.43" y1="448.00" x2="563.43" y2="450.20" stroke="#000" stroke-width="1.0"/>
<line x1="567.51" y1="448.00" x2="567.51" y2="450.20" stroke="#000" stroke-width="1.0"/>
<line x1="570.68" y1="448.00" x2="570.68" y2="450.20" stroke="#000" stroke-width="1.0"/>
<line x1="573.27" y1="448.00" x2="573.27" y2="450.20" stroke="#000" stroke-width="1.0"/>
<line x1="575.45" y1="448.00" x2="575.45" y2="450.20" stroke="#000" stroke-width="1.0"/>
<line x1="577.35" y1="448.00" x2="577.35" y2="450.20" stroke="#000" stroke-width="1.0"/>
<line x1="579.02" y1="448.00" x2="579.02" y2="450.20" stroke="#000" stroke-width="1.0"/>
<line x1="590.07" y1="448.00" x2="590.07" y2="450.20" stroke="#000" stroke-width="1.0"/>
<line x1="457.74" y1="448.00" x2="457.74" y2="450.20" stroke="#000" stroke-width="1.0"/>
<line x1="461.26" y1="448.00" x2="461.26" y2="450.20" stroke="#000" stroke-width="1.0"/>
<line x1="469.70" y1="448.00" x2="469.70" y2="450.20" stroke="#000" stroke-width="1.0"/>
<line x1="473.93" y1="448.00" x2="473.93" y2="450.20" stroke="#000" stroke-width="1.0"/>
<line x1="478.15" y1="448.00" x2="478.15" y2="450.20" stroke="#000" stroke-width="1.0"/>
<text x="465.48" y="461.40" font-size="7.3" font-weight="normal" fill="#555" text-anchor="middle" >0</text>
<text x="473.51" y="461.40" font-size="7.3" font-weight="normal" fill="#555" text-anchor="start" textLength="7.4" lengthAdjust="spacingAndGlyphs" >10</text>
<text x="481.21" y="458.40" font-size="4.964" font-weight="normal" fill="#555" text-anchor="start" textLength="3.0" lengthAdjust="spacingAndGlyphs" >2</text>
<text x="508.85" y="461.40" font-size="7.3" font-weight="normal" fill="#555" text-anchor="start" textLength="7.4" lengthAdjust="spacingAndGlyphs" >10</text>
<text x="516.55" y="458.40" font-size="4.964" font-weight="normal" fill="#555" text-anchor="start" textLength="3.0" lengthAdjust="spacingAndGlyphs" >3</text>
<text x="540.25" y="461.40" font-size="7.3" font-weight="normal" fill="#555" text-anchor="start" textLength="7.4" lengthAdjust="spacingAndGlyphs" >10</text>
<text x="547.95" y="458.40" font-size="4.964" font-weight="normal" fill="#555" text-anchor="start" textLength="3.0" lengthAdjust="spacingAndGlyphs" >4</text>
<text x="573.61" y="461.40" font-size="7.3" font-weight="normal" fill="#555" text-anchor="start" textLength="7.4" lengthAdjust="spacingAndGlyphs" >10</text>
<text x="581.31" y="458.40" font-size="4.964" font-weight="normal" fill="#555" text-anchor="start" textLength="3.0" lengthAdjust="spacingAndGlyphs" >5</text>
<path d="M635.00,301.40 H775.90 V445.80" fill="none" stroke="#222" stroke-width="1.2"/>
<path d="M635.00,300.90 V445.80 H776.50" fill="none" stroke="#000" stroke-width="1.7"/>
<line x1="690.30" y1="445.20" x2="775.90" y2="445.20" stroke="#2a4ef4" stroke-width="1.8"/>
<path d="M637.50,445.30H637.80V445.19H638.40V444.87H639.00V444.38H639.60V444.61H640.20V442.48H640.80V442.94H641.40V440.63H642.00V439.11H642.60V438.31H643.20V434.63H643.80V434.19H644.40V430.37H645.00V426.56H645.60V425.12H646.20V417.01H646.80V409.79H647.40V406.40H648.00V401.90H648.60V399.11H649.20V376.73H649.80V365.05H650.40V365.45H651.00V364.45H651.60V364.95H652.20V366.71H652.80V356.57H653.40V334.82H654.00V327.38H654.60V316.66H655.20V308.74H655.80V308.74H656.40V311.43H657.00V313.15H657.60V311.10H658.20V308.74H658.80V315.31H659.40V329.53H660.00V349.11H660.60V365.97H661.20V365.53H661.80V370.22H662.40V378.23H663.00V386.70H663.60V394.27H664.20V406.54H664.80V410.07H665.40V421.10H666.00V423.90H666.60V431.67H667.20V432.50H667.80V439.61H668.40V439.31H669.00V441.96H669.60V443.95H670.20V444.16H670.80V444.90H671.40V445.27H671.70" fill="none" stroke="#000000" stroke-width="2.2" stroke-linejoin="round"/>
<path d="M642.50,445.30H642.80V445.02H643.40V444.55H644.00V444.44H644.60V444.21H645.20V443.55H645.80V441.61H646.40V439.88H647.00V439.83H647.60V438.23H648.20V439.26H648.80V430.17H649.40V429.79H650.00V425.62H650.60V423.04H651.20V420.30H651.80V413.86H652.40V413.19H653.00V404.51H653.60V401.19H654.20V403.86H654.80V393.32H655.40V385.17H656.00V378.69H656.60V376.49H657.20V368.64H657.80V370.79H658.40V360.80H659.00V332.28H659.60V323.32H660.20V330.41H660.80V331.66H661.40V324.18H662.00V327.28H662.60V319.81H663.20V324.13H663.80V311.56H664.40V308.74H665.00V314.33H665.60V314.35H666.20V323.01H666.80V308.74H667.40V308.74H668.00V319.64H668.60V322.76H669.20V335.81H669.80V336.98H670.40V337.47H671.00V331.37H671.60V331.00H672.20V346.48H672.80V348.04H673.40V352.29H674.00V359.97H674.60V357.07H675.20V360.50H675.80V367.87H676.40V380.97H677.00V389.66H677.60V398.86H678.20V404.06H678.80V404.42H679.40V406.79H680.00V412.75H680.60V416.13H681.20V416.74H681.80V422.40H682.40V426.17H683.00V429.45H683.60V432.13H684.20V433.10H684.80V436.86H685.40V436.61H686.00V441.18H686.60V440.54H687.20V441.74H687.80V442.85H688.40V444.14H689.00V444.77H689.60V445.18H689.90" fill="none" stroke="#2a4ef4" stroke-width="2.1" stroke-linejoin="round"/>
<path d="M642.00,445.30H642.30V444.99H642.90V444.51H643.50V444.32H644.10V443.14H644.70V443.73H645.30V442.50H645.90V440.94H646.50V437.18H647.10V436.27H647.70V436.13H648.30V435.57H648.90V431.91H649.50V425.49H650.10V421.73H650.70V421.68H651.30V415.57H651.90V414.84H652.50V411.07H653.10V401.66H653.70V401.69H654.30V395.97H654.90V386.40H655.50V384.50H656.10V376.13H656.70V365.95H657.30V364.02H657.90V356.86H658.50V350.49H659.10V345.67H659.70V342.45H660.30V341.93H660.90V327.48H661.50V319.42H662.10V308.74H662.70V315.93H663.30V318.12H663.90V320.34H664.50V332.54H665.10V327.41H665.70V331.49H666.30V334.78H666.90V334.46H667.50V338.92H668.10V336.37H668.70V335.32H669.30V335.81H669.90V341.23H670.50V353.16H671.10V363.85H671.70V371.14H672.30V375.25H672.90V375.26H673.50V378.12H674.10V383.14H674.70V391.68H675.30V387.56H675.90V398.34H676.50V400.99H677.10V408.50H677.70V410.39H678.30V413.28H678.90V417.84H679.50V423.97H680.10V424.46H680.70V426.75H681.30V431.85H681.90V432.97H682.50V435.26H683.10V437.58H683.70V437.61H684.30V439.19H684.90V440.62H685.50V443.79H686.10V444.87H686.70V444.60H687.30V445.13H687.60" fill="none" stroke="#f03a26" stroke-width="2.1" stroke-linejoin="round"/>
<line x1="636.00" y1="445.20" x2="642.30" y2="445.20" stroke="#f03a26" stroke-width="1.9"/>
<line x1="687.70" y1="445.20" x2="775.90" y2="445.20" stroke="#f03a26" stroke-width="1.9"/>
<line x1="631.20" y1="445.80" x2="635.00" y2="445.80" stroke="#000" stroke-width="1.1"/>
<text x="628.60" y="448.10" font-size="6.6" font-weight="normal" fill="#555" text-anchor="end" textLength="3.6" lengthAdjust="spacingAndGlyphs" >0</text>
<line x1="632.80" y1="438.91" x2="635.00" y2="438.91" stroke="#000" stroke-width="1.0"/>
<line x1="632.80" y1="432.02" x2="635.00" y2="432.02" stroke="#000" stroke-width="1.0"/>
<line x1="632.80" y1="425.13" x2="635.00" y2="425.13" stroke="#000" stroke-width="1.0"/>
<line x1="631.20" y1="418.24" x2="635.00" y2="418.24" stroke="#000" stroke-width="1.1"/>
<text x="628.60" y="420.54" font-size="6.6" font-weight="normal" fill="#555" text-anchor="end" textLength="7.2" lengthAdjust="spacingAndGlyphs" >20</text>
<line x1="632.80" y1="411.35" x2="635.00" y2="411.35" stroke="#000" stroke-width="1.0"/>
<line x1="632.80" y1="404.46" x2="635.00" y2="404.46" stroke="#000" stroke-width="1.0"/>
<line x1="632.80" y1="397.57" x2="635.00" y2="397.57" stroke="#000" stroke-width="1.0"/>
<line x1="631.20" y1="390.68" x2="635.00" y2="390.68" stroke="#000" stroke-width="1.1"/>
<text x="628.60" y="392.98" font-size="6.6" font-weight="normal" fill="#555" text-anchor="end" textLength="7.2" lengthAdjust="spacingAndGlyphs" >40</text>
<line x1="632.80" y1="383.79" x2="635.00" y2="383.79" stroke="#000" stroke-width="1.0"/>
<line x1="632.80" y1="376.90" x2="635.00" y2="376.90" stroke="#000" stroke-width="1.0"/>
<line x1="632.80" y1="370.01" x2="635.00" y2="370.01" stroke="#000" stroke-width="1.0"/>
<line x1="631.20" y1="363.12" x2="635.00" y2="363.12" stroke="#000" stroke-width="1.1"/>
<text x="628.60" y="365.42" font-size="6.6" font-weight="normal" fill="#555" text-anchor="end" textLength="7.2" lengthAdjust="spacingAndGlyphs" >60</text>
<line x1="632.80" y1="356.23" x2="635.00" y2="356.23" stroke="#000" stroke-width="1.0"/>
<line x1="632.80" y1="349.34" x2="635.00" y2="349.34" stroke="#000" stroke-width="1.0"/>
<line x1="632.80" y1="342.45" x2="635.00" y2="342.45" stroke="#000" stroke-width="1.0"/>
<line x1="631.20" y1="335.56" x2="635.00" y2="335.56" stroke="#000" stroke-width="1.1"/>
<text x="628.60" y="337.86" font-size="6.6" font-weight="normal" fill="#555" text-anchor="end" textLength="7.2" lengthAdjust="spacingAndGlyphs" >80</text>
<line x1="632.80" y1="328.67" x2="635.00" y2="328.67" stroke="#000" stroke-width="1.0"/>
<line x1="632.80" y1="321.78" x2="635.00" y2="321.78" stroke="#000" stroke-width="1.0"/>
<line x1="632.80" y1="314.89" x2="635.00" y2="314.89" stroke="#000" stroke-width="1.0"/>
<line x1="631.20" y1="308.00" x2="635.00" y2="308.00" stroke="#000" stroke-width="1.1"/>
<text x="628.60" y="310.30" font-size="6.6" font-weight="normal" fill="#555" text-anchor="end" textLength="10.9" lengthAdjust="spacingAndGlyphs" >100</text>
<line x1="635.70" y1="445.80" x2="635.70" y2="450.00" stroke="#000" stroke-width="1.3"/>
<line x1="649.09" y1="445.80" x2="649.09" y2="450.00" stroke="#000" stroke-width="1.3"/>
<line x1="665.86" y1="445.80" x2="665.86" y2="450.00" stroke="#000" stroke-width="1.3"/>
<line x1="698.69" y1="445.80" x2="698.69" y2="450.00" stroke="#000" stroke-width="1.3"/>
<line x1="731.52" y1="445.80" x2="731.52" y2="450.00" stroke="#000" stroke-width="1.3"/>
<line x1="763.92" y1="445.80" x2="763.92" y2="450.00" stroke="#000" stroke-width="1.3"/>
<line x1="775.90" y1="445.80" x2="775.90" y2="450.00" stroke="#000" stroke-width="1.3"/>
<line x1="648.09" y1="445.80" x2="648.09" y2="450.00" stroke="#000" stroke-width="1.3"/>
<line x1="675.70" y1="445.80" x2="675.70" y2="448.00" stroke="#000" stroke-width="1.0"/>
<line x1="681.45" y1="445.80" x2="681.45" y2="448.00" stroke="#000" stroke-width="1.0"/>
<line x1="685.54" y1="445.80" x2="685.54" y2="448.00" stroke="#000" stroke-width="1.0"/>
<line x1="688.71" y1="445.80" x2="688.71" y2="448.00" stroke="#000" stroke-width="1.0"/>
<line x1="691.29" y1="445.80" x2="691.29" y2="448.00" stroke="#000" stroke-width="1.0"/>
<line x1="693.48" y1="445.80" x2="693.48" y2="448.00" stroke="#000" stroke-width="1.0"/>
<line x1="695.38" y1="445.80" x2="695.38" y2="448.00" stroke="#000" stroke-width="1.0"/>
<line x1="697.05" y1="445.80" x2="697.05" y2="448.00" stroke="#000" stroke-width="1.0"/>
<line x1="708.53" y1="445.80" x2="708.53" y2="448.00" stroke="#000" stroke-width="1.0"/>
<line x1="714.28" y1="445.80" x2="714.28" y2="448.00" stroke="#000" stroke-width="1.0"/>
<line x1="718.37" y1="445.80" x2="718.37" y2="448.00" stroke="#000" stroke-width="1.0"/>
<line x1="721.54" y1="445.80" x2="721.54" y2="448.00" stroke="#000" stroke-width="1.0"/>
<line x1="724.12" y1="445.80" x2="724.12" y2="448.00" stroke="#000" stroke-width="1.0"/>
<line x1="726.31" y1="445.80" x2="726.31" y2="448.00" stroke="#000" stroke-width="1.0"/>
<line x1="728.21" y1="445.80" x2="728.21" y2="448.00" stroke="#000" stroke-width="1.0"/>
<line x1="729.88" y1="445.80" x2="729.88" y2="448.00" stroke="#000" stroke-width="1.0"/>
<line x1="741.36" y1="445.80" x2="741.36" y2="448.00" stroke="#000" stroke-width="1.0"/>
<line x1="747.11" y1="445.80" x2="747.11" y2="448.00" stroke="#000" stroke-width="1.0"/>
<line x1="751.20" y1="445.80" x2="751.20" y2="448.00" stroke="#000" stroke-width="1.0"/>
<line x1="754.36" y1="445.80" x2="754.36" y2="448.00" stroke="#000" stroke-width="1.0"/>
<line x1="756.95" y1="445.80" x2="756.95" y2="448.00" stroke="#000" stroke-width="1.0"/>
<line x1="759.14" y1="445.80" x2="759.14" y2="448.00" stroke="#000" stroke-width="1.0"/>
<line x1="761.04" y1="445.80" x2="761.04" y2="448.00" stroke="#000" stroke-width="1.0"/>
<line x1="762.71" y1="445.80" x2="762.71" y2="448.00" stroke="#000" stroke-width="1.0"/>
<line x1="773.76" y1="445.80" x2="773.76" y2="448.00" stroke="#000" stroke-width="1.0"/>
<line x1="641.34" y1="445.80" x2="641.34" y2="448.00" stroke="#000" stroke-width="1.0"/>
<line x1="644.86" y1="445.80" x2="644.86" y2="448.00" stroke="#000" stroke-width="1.0"/>
<line x1="653.32" y1="445.80" x2="653.32" y2="448.00" stroke="#000" stroke-width="1.0"/>
<line x1="657.54" y1="445.80" x2="657.54" y2="448.00" stroke="#000" stroke-width="1.0"/>
<line x1="661.77" y1="445.80" x2="661.77" y2="448.00" stroke="#000" stroke-width="1.0"/>
<text x="649.09" y="459.20" font-size="7.3" font-weight="normal" fill="#555" text-anchor="middle" >0</text>
<text x="657.13" y="459.20" font-size="7.3" font-weight="normal" fill="#555" text-anchor="start" textLength="7.4" lengthAdjust="spacingAndGlyphs" >10</text>
<text x="664.83" y="456.20" font-size="4.964" font-weight="normal" fill="#555" text-anchor="start" textLength="3.0" lengthAdjust="spacingAndGlyphs" >2</text>
<text x="692.49" y="459.20" font-size="7.3" font-weight="normal" fill="#555" text-anchor="start" textLength="7.4" lengthAdjust="spacingAndGlyphs" >10</text>
<text x="700.19" y="456.20" font-size="4.964" font-weight="normal" fill="#555" text-anchor="start" textLength="3.0" lengthAdjust="spacingAndGlyphs" >3</text>
<text x="723.91" y="459.20" font-size="7.3" font-weight="normal" fill="#555" text-anchor="start" textLength="7.4" lengthAdjust="spacingAndGlyphs" >10</text>
<text x="731.61" y="456.20" font-size="4.964" font-weight="normal" fill="#555" text-anchor="start" textLength="3.0" lengthAdjust="spacingAndGlyphs" >4</text>
<text x="757.31" y="459.20" font-size="7.3" font-weight="normal" fill="#555" text-anchor="start" textLength="7.4" lengthAdjust="spacingAndGlyphs" >10</text>
<text x="765.01" y="456.20" font-size="4.964" font-weight="normal" fill="#555" text-anchor="start" textLength="3.0" lengthAdjust="spacingAndGlyphs" >5</text>
<path d="M454.30,476.40 H591.50 V616.60" fill="none" stroke="#222" stroke-width="1.2"/>
<path d="M454.30,475.90 V616.60 H592.10" fill="none" stroke="#000" stroke-width="1.7"/>
<line x1="513.00" y1="616.00" x2="591.50" y2="616.00" stroke="#2a4ef4" stroke-width="1.8"/>
<path d="M456.90,616.10H457.20V615.83H457.80V615.10H458.40V612.75H459.00V611.20H459.60V611.34H460.20V607.08H460.80V606.17H461.40V601.66H462.00V603.30H462.60V600.64H463.20V595.03H463.80V593.98H464.40V587.42H465.00V575.21H465.60V566.35H466.20V561.60H466.80V557.14H467.40V552.03H468.00V542.36H468.60V534.25H469.20V526.89H469.80V525.96H470.40V505.07H471.00V498.90H471.60V495.22H472.20V483.83H472.80V484.13H473.40V486.74H474.00V489.16H474.60V491.49H475.20V483.83H475.80V499.00H476.40V498.33H477.00V503.31H477.60V521.09H478.20V547.17H478.80V551.55H479.40V557.76H480.00V573.78H480.60V591.12H481.20V589.03H481.80V594.90H482.40V596.15H483.00V598.53H483.60V605.05H484.20V607.09H484.80V610.22H485.40V611.43H486.00V613.31H486.60V615.58H486.90" fill="none" stroke="#000000" stroke-width="2.2" stroke-linejoin="round"/>
<path d="M463.50,616.10H463.80V615.44H464.40V614.79H465.00V614.54H465.60V612.47H466.20V613.36H466.80V611.80H467.40V609.65H468.00V610.65H468.60V609.08H469.20V610.61H469.80V607.76H470.40V606.93H471.00V606.81H471.60V606.30H472.20V604.13H472.80V605.70H473.40V604.95H474.00V599.37H474.60V599.00H475.20V596.85H475.80V596.75H476.40V594.57H477.00V590.82H477.60V590.45H478.20V585.66H478.80V579.90H479.40V581.75H480.00V576.58H480.60V571.22H481.20V569.94H481.80V567.34H482.40V562.71H483.00V554.02H483.60V554.06H484.20V550.75H484.80V550.89H485.40V534.80H486.00V545.82H486.60V530.37H487.20V527.34H487.80V513.89H488.40V508.76H489.00V506.74H489.60V507.68H490.20V507.35H490.80V510.27H491.40V504.64H492.00V502.56H492.60V485.16H493.20V489.56H493.80V485.16H494.40V492.25H495.00V491.15H495.60V490.27H496.20V488.74H496.80V485.62H497.40V494.49H498.00V494.61H498.60V496.58H499.20V502.51H499.80V509.48H500.40V507.69H501.00V518.82H501.60V516.12H502.20V522.49H502.80V534.53H503.40V543.17H504.00V549.66H504.60V563.61H505.20V563.24H505.80V572.61H506.40V580.27H507.00V588.29H507.60V594.31H508.20V600.99H508.80V602.04H509.40V604.20H510.00V609.12H510.60V610.57H511.20V611.60H511.80V613.56H512.40V615.35H512.70" fill="none" stroke="#2a4ef4" stroke-width="2.1" stroke-linejoin="round"/>
<path d="M463.20,616.10H463.50V615.41H464.10V615.28H464.70V612.75H465.30V613.70H465.90V612.84H466.50V612.24H467.10V611.48H467.70V610.02H468.30V609.51H468.90V609.38H469.50V608.21H470.10V608.24H470.70V605.92H471.30V605.40H471.90V606.29H472.50V600.90H473.10V600.90H473.70V601.28H474.30V599.91H474.90V595.26H475.50V597.01H476.10V594.24H476.70V591.06H477.30V587.53H477.90V590.57H478.50V585.18H479.10V578.56H479.70V579.84H480.30V574.26H480.90V564.02H481.50V566.94H482.10V558.83H482.70V559.46H483.30V548.60H483.90V543.49H484.50V537.56H485.10V537.56H485.70V527.05H486.30V520.71H486.90V513.75H487.50V518.63H488.10V516.60H488.70V513.99H489.30V496.87H489.90V501.67H490.50V491.28H491.10V483.83H491.70V486.10H492.30V486.53H492.90V488.70H493.50V485.76H494.10V487.57H494.70V500.11H495.30V506.80H495.90V506.88H496.50V508.40H497.10V509.37H497.70V511.36H498.30V522.86H498.90V520.45H499.50V528.91H500.10V528.02H500.70V537.34H501.30V544.71H501.90V552.80H502.50V556.84H503.10V567.73H503.70V577.49H504.30V571.93H504.90V580.49H505.50V583.84H506.10V592.72H506.70V597.74H507.30V604.16H507.90V604.53H508.50V606.90H509.10V610.47H509.70V609.83H510.30V612.23H510.90V614.94H511.20" fill="none" stroke="#f03a26" stroke-width="2.1" stroke-linejoin="round"/>
<line x1="455.30" y1="616.00" x2="463.50" y2="616.00" stroke="#f03a26" stroke-width="1.9"/>
<line x1="511.20" y1="616.00" x2="591.50" y2="616.00" stroke="#f03a26" stroke-width="1.9"/>
<line x1="450.50" y1="616.60" x2="454.30" y2="616.60" stroke="#000" stroke-width="1.1"/>
<text x="447.90" y="618.90" font-size="6.6" font-weight="normal" fill="#555" text-anchor="end" textLength="3.6" lengthAdjust="spacingAndGlyphs" >0</text>
<line x1="452.10" y1="609.94" x2="454.30" y2="609.94" stroke="#000" stroke-width="1.0"/>
<line x1="452.10" y1="603.28" x2="454.30" y2="603.28" stroke="#000" stroke-width="1.0"/>
<line x1="452.10" y1="596.62" x2="454.30" y2="596.62" stroke="#000" stroke-width="1.0"/>
<line x1="450.50" y1="589.96" x2="454.30" y2="589.96" stroke="#000" stroke-width="1.1"/>
<text x="447.90" y="592.26" font-size="6.6" font-weight="normal" fill="#555" text-anchor="end" textLength="7.2" lengthAdjust="spacingAndGlyphs" >20</text>
<line x1="452.10" y1="583.30" x2="454.30" y2="583.30" stroke="#000" stroke-width="1.0"/>
<line x1="452.10" y1="576.64" x2="454.30" y2="576.64" stroke="#000" stroke-width="1.0"/>
<line x1="452.10" y1="569.98" x2="454.30" y2="569.98" stroke="#000" stroke-width="1.0"/>
<line x1="450.50" y1="563.32" x2="454.30" y2="563.32" stroke="#000" stroke-width="1.1"/>
<text x="447.90" y="565.62" font-size="6.6" font-weight="normal" fill="#555" text-anchor="end" textLength="7.2" lengthAdjust="spacingAndGlyphs" >40</text>
<line x1="452.10" y1="556.66" x2="454.30" y2="556.66" stroke="#000" stroke-width="1.0"/>
<line x1="452.10" y1="550.00" x2="454.30" y2="550.00" stroke="#000" stroke-width="1.0"/>
<line x1="452.10" y1="543.34" x2="454.30" y2="543.34" stroke="#000" stroke-width="1.0"/>
<line x1="450.50" y1="536.68" x2="454.30" y2="536.68" stroke="#000" stroke-width="1.1"/>
<text x="447.90" y="538.98" font-size="6.6" font-weight="normal" fill="#555" text-anchor="end" textLength="7.2" lengthAdjust="spacingAndGlyphs" >60</text>
<line x1="452.10" y1="530.02" x2="454.30" y2="530.02" stroke="#000" stroke-width="1.0"/>
<line x1="452.10" y1="523.36" x2="454.30" y2="523.36" stroke="#000" stroke-width="1.0"/>
<line x1="452.10" y1="516.70" x2="454.30" y2="516.70" stroke="#000" stroke-width="1.0"/>
<line x1="450.50" y1="510.04" x2="454.30" y2="510.04" stroke="#000" stroke-width="1.1"/>
<text x="447.90" y="512.34" font-size="6.6" font-weight="normal" fill="#555" text-anchor="end" textLength="7.2" lengthAdjust="spacingAndGlyphs" >80</text>
<line x1="452.10" y1="503.38" x2="454.30" y2="503.38" stroke="#000" stroke-width="1.0"/>
<line x1="452.10" y1="496.72" x2="454.30" y2="496.72" stroke="#000" stroke-width="1.0"/>
<line x1="452.10" y1="490.06" x2="454.30" y2="490.06" stroke="#000" stroke-width="1.0"/>
<line x1="450.50" y1="483.40" x2="454.30" y2="483.40" stroke="#000" stroke-width="1.1"/>
<text x="447.90" y="485.70" font-size="6.6" font-weight="normal" fill="#555" text-anchor="end" textLength="10.9" lengthAdjust="spacingAndGlyphs" >100</text>
<line x1="454.99" y1="616.60" x2="454.99" y2="620.80" stroke="#000" stroke-width="1.3"/>
<line x1="468.02" y1="616.60" x2="468.02" y2="620.80" stroke="#000" stroke-width="1.3"/>
<line x1="484.35" y1="616.60" x2="484.35" y2="620.80" stroke="#000" stroke-width="1.3"/>
<line x1="516.31" y1="616.60" x2="516.31" y2="620.80" stroke="#000" stroke-width="1.3"/>
<line x1="548.28" y1="616.60" x2="548.28" y2="620.80" stroke="#000" stroke-width="1.3"/>
<line x1="579.84" y1="616.60" x2="579.84" y2="620.80" stroke="#000" stroke-width="1.3"/>
<line x1="591.50" y1="616.60" x2="591.50" y2="620.80" stroke="#000" stroke-width="1.3"/>
<line x1="467.02" y1="616.60" x2="467.02" y2="620.80" stroke="#000" stroke-width="1.3"/>
<line x1="493.93" y1="616.60" x2="493.93" y2="618.80" stroke="#000" stroke-width="1.0"/>
<line x1="499.53" y1="616.60" x2="499.53" y2="618.80" stroke="#000" stroke-width="1.0"/>
<line x1="503.51" y1="616.60" x2="503.51" y2="618.80" stroke="#000" stroke-width="1.0"/>
<line x1="506.60" y1="616.60" x2="506.60" y2="618.80" stroke="#000" stroke-width="1.0"/>
<line x1="509.12" y1="616.60" x2="509.12" y2="618.80" stroke="#000" stroke-width="1.0"/>
<line x1="511.25" y1="616.60" x2="511.25" y2="618.80" stroke="#000" stroke-width="1.0"/>
<line x1="513.09" y1="616.60" x2="513.09" y2="618.80" stroke="#000" stroke-width="1.0"/>
<line x1="514.72" y1="616.60" x2="514.72" y2="618.80" stroke="#000" stroke-width="1.0"/>
<line x1="525.90" y1="616.60" x2="525.90" y2="618.80" stroke="#000" stroke-width="1.0"/>
<line x1="531.50" y1="616.60" x2="531.50" y2="618.80" stroke="#000" stroke-width="1.0"/>
<line x1="535.48" y1="616.60" x2="535.48" y2="618.80" stroke="#000" stroke-width="1.0"/>
<line x1="538.56" y1="616.60" x2="538.56" y2="618.80" stroke="#000" stroke-width="1.0"/>
<line x1="541.08" y1="616.60" x2="541.08" y2="618.80" stroke="#000" stroke-width="1.0"/>
<line x1="543.21" y1="616.60" x2="543.21" y2="618.80" stroke="#000" stroke-width="1.0"/>
<line x1="545.06" y1="616.60" x2="545.06" y2="618.80" stroke="#000" stroke-width="1.0"/>
<line x1="546.69" y1="616.60" x2="546.69" y2="618.80" stroke="#000" stroke-width="1.0"/>
<line x1="557.86" y1="616.60" x2="557.86" y2="618.80" stroke="#000" stroke-width="1.0"/>
<line x1="563.47" y1="616.60" x2="563.47" y2="618.80" stroke="#000" stroke-width="1.0"/>
<line x1="567.45" y1="616.60" x2="567.45" y2="618.80" stroke="#000" stroke-width="1.0"/>
<line x1="570.53" y1="616.60" x2="570.53" y2="618.80" stroke="#000" stroke-width="1.0"/>
<line x1="573.05" y1="616.60" x2="573.05" y2="618.80" stroke="#000" stroke-width="1.0"/>
<line x1="575.18" y1="616.60" x2="575.18" y2="618.80" stroke="#000" stroke-width="1.0"/>
<line x1="577.03" y1="616.60" x2="577.03" y2="618.80" stroke="#000" stroke-width="1.0"/>
<line x1="578.66" y1="616.60" x2="578.66" y2="618.80" stroke="#000" stroke-width="1.0"/>
<line x1="589.42" y1="616.60" x2="589.42" y2="618.80" stroke="#000" stroke-width="1.0"/>
<line x1="460.47" y1="616.60" x2="460.47" y2="618.80" stroke="#000" stroke-width="1.0"/>
<line x1="463.90" y1="616.60" x2="463.90" y2="618.80" stroke="#000" stroke-width="1.0"/>
<line x1="472.14" y1="616.60" x2="472.14" y2="618.80" stroke="#000" stroke-width="1.0"/>
<line x1="476.25" y1="616.60" x2="476.25" y2="618.80" stroke="#000" stroke-width="1.0"/>
<line x1="480.37" y1="616.60" x2="480.37" y2="618.80" stroke="#000" stroke-width="1.0"/>
<text x="468.02" y="630.00" font-size="7.3" font-weight="normal" fill="#555" text-anchor="middle" >0</text>
<text x="475.70" y="630.00" font-size="7.3" font-weight="normal" fill="#555" text-anchor="start" textLength="7.4" lengthAdjust="spacingAndGlyphs" >10</text>
<text x="483.40" y="627.00" font-size="4.964" font-weight="normal" fill="#555" text-anchor="start" textLength="3.0" lengthAdjust="spacingAndGlyphs" >2</text>
<text x="510.14" y="630.00" font-size="7.3" font-weight="normal" fill="#555" text-anchor="start" textLength="7.4" lengthAdjust="spacingAndGlyphs" >10</text>
<text x="517.84" y="627.00" font-size="4.964" font-weight="normal" fill="#555" text-anchor="start" textLength="3.0" lengthAdjust="spacingAndGlyphs" >3</text>
<text x="540.74" y="630.00" font-size="7.3" font-weight="normal" fill="#555" text-anchor="start" textLength="7.4" lengthAdjust="spacingAndGlyphs" >10</text>
<text x="548.44" y="627.00" font-size="4.964" font-weight="normal" fill="#555" text-anchor="start" textLength="3.0" lengthAdjust="spacingAndGlyphs" >4</text>
<text x="573.25" y="630.00" font-size="7.3" font-weight="normal" fill="#555" text-anchor="start" textLength="7.4" lengthAdjust="spacingAndGlyphs" >10</text>
<text x="580.95" y="627.00" font-size="4.964" font-weight="normal" fill="#555" text-anchor="start" textLength="3.0" lengthAdjust="spacingAndGlyphs" >5</text>
<path d="M635.00,472.00 H775.90 V616.40" fill="none" stroke="#222" stroke-width="1.2"/>
<path d="M635.00,471.50 V616.40 H776.50" fill="none" stroke="#000" stroke-width="1.7"/>
<line x1="700.00" y1="615.80" x2="775.90" y2="615.80" stroke="#2a4ef4" stroke-width="1.8"/>
<path d="M637.50,615.90H637.80V615.80H638.40V615.53H639.00V615.10H639.60V614.54H640.20V613.77H640.80V613.99H641.40V613.66H642.00V611.99H642.60V605.75H643.20V606.29H643.80V605.66H644.40V598.72H645.00V596.05H645.60V593.37H646.20V585.29H646.80V578.34H647.40V579.90H648.00V573.60H648.60V566.85H649.20V551.63H649.80V543.40H650.40V537.44H651.00V535.79H651.60V535.12H652.20V528.30H652.80V529.84H653.40V505.36H654.00V494.39H654.60V491.39H655.20V485.35H655.80V479.62H656.40V479.62H657.00V479.62H657.60V482.92H658.20V485.00H658.80V486.44H659.40V498.69H660.00V513.11H660.60V533.12H661.20V543.70H661.80V540.20H662.40V550.23H663.00V560.44H663.60V565.78H664.20V577.18H664.80V580.99H665.40V587.18H666.00V594.81H666.60V600.22H667.20V607.10H667.80V608.66H668.40V612.40H669.00V611.35H669.60V613.59H670.20V614.85H670.80V615.50H671.40V615.85H671.70" fill="none" stroke="#000000" stroke-width="2.2" stroke-linejoin="round"/>
<path d="M644.30,615.90H644.60V615.00H645.20V615.31H645.80V614.37H646.40V613.21H647.00V612.17H647.60V608.84H648.20V608.82H648.80V607.53H649.40V603.75H650.00V600.59H650.60V600.03H651.20V594.11H651.80V592.92H652.40V592.45H653.00V588.53H653.60V587.42H654.20V583.19H654.80V576.56H655.40V573.28H656.00V568.16H656.60V566.14H657.20V556.56H657.80V554.32H658.40V546.32H659.00V533.61H659.60V532.83H660.20V534.50H660.80V538.91H661.40V539.56H662.00V542.38H662.60V540.14H663.20V537.13H663.80V546.08H664.40V549.74H665.00V544.19H665.60V536.97H666.20V534.44H666.80V542.23H667.40V542.73H668.00V534.29H668.60V539.01H669.20V546.80H669.80V537.39H670.40V525.38H671.00V519.16H671.60V519.67H672.20V518.98H672.80V512.90H673.40V516.49H674.00V513.67H674.60V512.61H675.20V507.53H675.80V514.25H676.40V502.21H677.00V503.10H677.60V503.27H678.20V500.33H678.80V503.76H679.40V498.16H680.00V493.31H680.60V487.32H681.20V479.62H681.80V479.62H682.40V485.26H683.00V485.69H683.60V488.56H684.20V504.64H684.80V510.49H685.40V515.72H686.00V513.43H686.60V522.09H687.20V524.93H687.80V531.40H688.40V537.69H689.00V549.77H689.60V563.38H690.20V573.25H690.80V580.05H691.40V582.73H692.00V587.48H692.60V595.19H693.20V596.44H693.80V602.33H694.40V602.66H695.00V605.59H695.60V609.81H696.20V611.51H696.80V610.29H697.40V612.61H698.00V613.48H698.60V615.88H699.20V615.34H699.50" fill="none" stroke="#2a4ef4" stroke-width="2.1" stroke-linejoin="round"/>
<path d="M643.80,615.90H644.10V615.00H644.70V614.45H645.30V612.53H645.90V612.15H646.50V609.30H647.10V608.79H647.70V606.92H648.30V603.40H648.90V604.50H649.50V600.17H650.10V597.39H650.70V595.62H651.30V594.83H651.90V588.49H652.50V586.80H653.10V584.13H653.70V583.64H654.30V576.57H654.90V572.69H655.50V570.88H656.10V564.49H656.70V557.82H657.30V556.30H657.90V550.72H658.50V546.00H659.10V543.20H659.70V538.53H660.30V536.60H660.90V534.98H661.50V530.31H662.10V527.50H662.70V524.86H663.30V531.16H663.90V518.13H664.50V514.55H665.10V518.30H665.70V522.27H666.30V524.49H666.90V513.39H667.50V519.17H668.10V518.80H668.70V515.91H669.30V514.78H669.90V512.92H670.50V512.26H671.10V513.85H671.70V511.81H672.30V503.46H672.90V506.72H673.50V505.88H674.10V500.31H674.70V494.52H675.30V483.20H675.90V487.12H676.50V490.95H677.10V488.96H677.70V478.38H678.30V482.40H678.90V487.55H679.50V489.71H680.10V492.46H680.70V503.86H681.30V493.61H681.90V506.42H682.50V516.57H683.10V518.32H683.70V525.73H684.30V526.19H684.90V527.47H685.50V541.92H686.10V555.43H686.70V552.04H687.30V550.69H687.90V563.40H688.50V569.06H689.10V574.92H689.70V579.31H690.30V582.09H690.90V589.98H691.50V592.94H692.10V598.65H692.70V602.11H693.30V602.75H693.90V606.03H694.50V609.33H695.10V610.86H695.70V610.46H696.30V611.58H696.90V612.87H697.50V613.84H698.10V615.16H698.40" fill="none" stroke="#f03a26" stroke-width="2.1" stroke-linejoin="round"/>
<line x1="636.00" y1="615.80" x2="644.10" y2="615.80" stroke="#f03a26" stroke-width="1.9"/>
<line x1="698.60" y1="615.80" x2="775.90" y2="615.80" stroke="#f03a26" stroke-width="1.9"/>
<line x1="631.20" y1="616.40" x2="635.00" y2="616.40" stroke="#000" stroke-width="1.1"/>
<text x="628.60" y="618.70" font-size="6.6" font-weight="normal" fill="#555" text-anchor="end" textLength="3.6" lengthAdjust="spacingAndGlyphs" >0</text>
<line x1="632.80" y1="609.51" x2="635.00" y2="609.51" stroke="#000" stroke-width="1.0"/>
<line x1="632.80" y1="602.62" x2="635.00" y2="602.62" stroke="#000" stroke-width="1.0"/>
<line x1="632.80" y1="595.73" x2="635.00" y2="595.73" stroke="#000" stroke-width="1.0"/>
<line x1="631.20" y1="588.84" x2="635.00" y2="588.84" stroke="#000" stroke-width="1.1"/>
<text x="628.60" y="591.14" font-size="6.6" font-weight="normal" fill="#555" text-anchor="end" textLength="7.2" lengthAdjust="spacingAndGlyphs" >20</text>
<line x1="632.80" y1="581.95" x2="635.00" y2="581.95" stroke="#000" stroke-width="1.0"/>
<line x1="632.80" y1="575.06" x2="635.00" y2="575.06" stroke="#000" stroke-width="1.0"/>
<line x1="632.80" y1="568.17" x2="635.00" y2="568.17" stroke="#000" stroke-width="1.0"/>
<line x1="631.20" y1="561.28" x2="635.00" y2="561.28" stroke="#000" stroke-width="1.1"/>
<text x="628.60" y="563.58" font-size="6.6" font-weight="normal" fill="#555" text-anchor="end" textLength="7.2" lengthAdjust="spacingAndGlyphs" >40</text>
<line x1="632.80" y1="554.39" x2="635.00" y2="554.39" stroke="#000" stroke-width="1.0"/>
<line x1="632.80" y1="547.50" x2="635.00" y2="547.50" stroke="#000" stroke-width="1.0"/>
<line x1="632.80" y1="540.61" x2="635.00" y2="540.61" stroke="#000" stroke-width="1.0"/>
<line x1="631.20" y1="533.72" x2="635.00" y2="533.72" stroke="#000" stroke-width="1.1"/>
<text x="628.60" y="536.02" font-size="6.6" font-weight="normal" fill="#555" text-anchor="end" textLength="7.2" lengthAdjust="spacingAndGlyphs" >60</text>
<line x1="632.80" y1="526.83" x2="635.00" y2="526.83" stroke="#000" stroke-width="1.0"/>
<line x1="632.80" y1="519.94" x2="635.00" y2="519.94" stroke="#000" stroke-width="1.0"/>
<line x1="632.80" y1="513.05" x2="635.00" y2="513.05" stroke="#000" stroke-width="1.0"/>
<line x1="631.20" y1="506.16" x2="635.00" y2="506.16" stroke="#000" stroke-width="1.1"/>
<text x="628.60" y="508.46" font-size="6.6" font-weight="normal" fill="#555" text-anchor="end" textLength="7.2" lengthAdjust="spacingAndGlyphs" >80</text>
<line x1="632.80" y1="499.27" x2="635.00" y2="499.27" stroke="#000" stroke-width="1.0"/>
<line x1="632.80" y1="492.38" x2="635.00" y2="492.38" stroke="#000" stroke-width="1.0"/>
<line x1="632.80" y1="485.49" x2="635.00" y2="485.49" stroke="#000" stroke-width="1.0"/>
<line x1="631.20" y1="478.60" x2="635.00" y2="478.60" stroke="#000" stroke-width="1.1"/>
<text x="628.60" y="480.90" font-size="6.6" font-weight="normal" fill="#555" text-anchor="end" textLength="10.9" lengthAdjust="spacingAndGlyphs" >100</text>
<line x1="635.70" y1="616.40" x2="635.70" y2="620.60" stroke="#000" stroke-width="1.3"/>
<line x1="649.09" y1="616.40" x2="649.09" y2="620.60" stroke="#000" stroke-width="1.3"/>
<line x1="665.86" y1="616.40" x2="665.86" y2="620.60" stroke="#000" stroke-width="1.3"/>
<line x1="698.69" y1="616.40" x2="698.69" y2="620.60" stroke="#000" stroke-width="1.3"/>
<line x1="731.52" y1="616.40" x2="731.52" y2="620.60" stroke="#000" stroke-width="1.3"/>
<line x1="763.92" y1="616.40" x2="763.92" y2="620.60" stroke="#000" stroke-width="1.3"/>
<line x1="775.90" y1="616.40" x2="775.90" y2="620.60" stroke="#000" stroke-width="1.3"/>
<line x1="648.09" y1="616.40" x2="648.09" y2="620.60" stroke="#000" stroke-width="1.3"/>
<line x1="675.70" y1="616.40" x2="675.70" y2="618.60" stroke="#000" stroke-width="1.0"/>
<line x1="681.45" y1="616.40" x2="681.45" y2="618.60" stroke="#000" stroke-width="1.0"/>
<line x1="685.54" y1="616.40" x2="685.54" y2="618.60" stroke="#000" stroke-width="1.0"/>
<line x1="688.71" y1="616.40" x2="688.71" y2="618.60" stroke="#000" stroke-width="1.0"/>
<line x1="691.29" y1="616.40" x2="691.29" y2="618.60" stroke="#000" stroke-width="1.0"/>
<line x1="693.48" y1="616.40" x2="693.48" y2="618.60" stroke="#000" stroke-width="1.0"/>
<line x1="695.38" y1="616.40" x2="695.38" y2="618.60" stroke="#000" stroke-width="1.0"/>
<line x1="697.05" y1="616.40" x2="697.05" y2="618.60" stroke="#000" stroke-width="1.0"/>
<line x1="708.53" y1="616.40" x2="708.53" y2="618.60" stroke="#000" stroke-width="1.0"/>
<line x1="714.28" y1="616.40" x2="714.28" y2="618.60" stroke="#000" stroke-width="1.0"/>
<line x1="718.37" y1="616.40" x2="718.37" y2="618.60" stroke="#000" stroke-width="1.0"/>
<line x1="721.54" y1="616.40" x2="721.54" y2="618.60" stroke="#000" stroke-width="1.0"/>
<line x1="724.12" y1="616.40" x2="724.12" y2="618.60" stroke="#000" stroke-width="1.0"/>
<line x1="726.31" y1="616.40" x2="726.31" y2="618.60" stroke="#000" stroke-width="1.0"/>
<line x1="728.21" y1="616.40" x2="728.21" y2="618.60" stroke="#000" stroke-width="1.0"/>
<line x1="729.88" y1="616.40" x2="729.88" y2="618.60" stroke="#000" stroke-width="1.0"/>
<line x1="741.36" y1="616.40" x2="741.36" y2="618.60" stroke="#000" stroke-width="1.0"/>
<line x1="747.11" y1="616.40" x2="747.11" y2="618.60" stroke="#000" stroke-width="1.0"/>
<line x1="751.20" y1="616.40" x2="751.20" y2="618.60" stroke="#000" stroke-width="1.0"/>
<line x1="754.36" y1="616.40" x2="754.36" y2="618.60" stroke="#000" stroke-width="1.0"/>
<line x1="756.95" y1="616.40" x2="756.95" y2="618.60" stroke="#000" stroke-width="1.0"/>
<line x1="759.14" y1="616.40" x2="759.14" y2="618.60" stroke="#000" stroke-width="1.0"/>
<line x1="761.04" y1="616.40" x2="761.04" y2="618.60" stroke="#000" stroke-width="1.0"/>
<line x1="762.71" y1="616.40" x2="762.71" y2="618.60" stroke="#000" stroke-width="1.0"/>
<line x1="773.76" y1="616.40" x2="773.76" y2="618.60" stroke="#000" stroke-width="1.0"/>
<line x1="641.34" y1="616.40" x2="641.34" y2="618.60" stroke="#000" stroke-width="1.0"/>
<line x1="644.86" y1="616.40" x2="644.86" y2="618.60" stroke="#000" stroke-width="1.0"/>
<line x1="653.32" y1="616.40" x2="653.32" y2="618.60" stroke="#000" stroke-width="1.0"/>
<line x1="657.54" y1="616.40" x2="657.54" y2="618.60" stroke="#000" stroke-width="1.0"/>
<line x1="661.77" y1="616.40" x2="661.77" y2="618.60" stroke="#000" stroke-width="1.0"/>
<text x="649.09" y="629.80" font-size="7.3" font-weight="normal" fill="#555" text-anchor="middle" >0</text>
<text x="657.13" y="629.80" font-size="7.3" font-weight="normal" fill="#555" text-anchor="start" textLength="7.4" lengthAdjust="spacingAndGlyphs" >10</text>
<text x="664.83" y="626.80" font-size="4.964" font-weight="normal" fill="#555" text-anchor="start" textLength="3.0" lengthAdjust="spacingAndGlyphs" >2</text>
<text x="692.49" y="629.80" font-size="7.3" font-weight="normal" fill="#555" text-anchor="start" textLength="7.4" lengthAdjust="spacingAndGlyphs" >10</text>
<text x="700.19" y="626.80" font-size="4.964" font-weight="normal" fill="#555" text-anchor="start" textLength="3.0" lengthAdjust="spacingAndGlyphs" >3</text>
<text x="723.91" y="629.80" font-size="7.3" font-weight="normal" fill="#555" text-anchor="start" textLength="7.4" lengthAdjust="spacingAndGlyphs" >10</text>
<text x="731.61" y="626.80" font-size="4.964" font-weight="normal" fill="#555" text-anchor="start" textLength="3.0" lengthAdjust="spacingAndGlyphs" >4</text>
<text x="757.31" y="629.80" font-size="7.3" font-weight="normal" fill="#555" text-anchor="start" textLength="7.4" lengthAdjust="spacingAndGlyphs" >10</text>
<text x="765.01" y="626.80" font-size="4.964" font-weight="normal" fill="#555" text-anchor="start" textLength="3.0" lengthAdjust="spacingAndGlyphs" >5</text>
<text x="536.20" y="163.10" font-size="15.2" font-weight="normal" fill="#111" text-anchor="start" textLength="31.6" lengthAdjust="spacingAndGlyphs" >13B8</text>
<text x="723.60" y="163.10" font-size="15.2" font-weight="normal" fill="#111" text-anchor="start" textLength="24.2" lengthAdjust="spacingAndGlyphs" >379</text>
<text x="538.70" y="333.60" font-size="15.2" font-weight="normal" fill="#111" text-anchor="start" textLength="33.2" lengthAdjust="spacingAndGlyphs" >DB81</text>
<text x="723.90" y="333.60" font-size="15.2" font-weight="normal" fill="#111" text-anchor="start" textLength="39.7" lengthAdjust="spacingAndGlyphs" >34924</text>
<text x="539.60" y="502.70" font-size="15.2" font-weight="normal" fill="#111" text-anchor="start" textLength="37.1" lengthAdjust="spacingAndGlyphs" >Leu3a</text>
<text x="723.90" y="499.00" font-size="15.2" font-weight="normal" fill="#111" text-anchor="start" textLength="40.1" lengthAdjust="spacingAndGlyphs" >34940</text>
<line x1="79" y1="668.5" x2="235" y2="668.5" stroke="#ddd" stroke-width="1" stroke-dasharray="1.5,1"/>
<line x1="237" y1="668.5" x2="398" y2="668.5" stroke="#ddd" stroke-width="1" stroke-dasharray="1.5,1"/>
</svg></body></html>
